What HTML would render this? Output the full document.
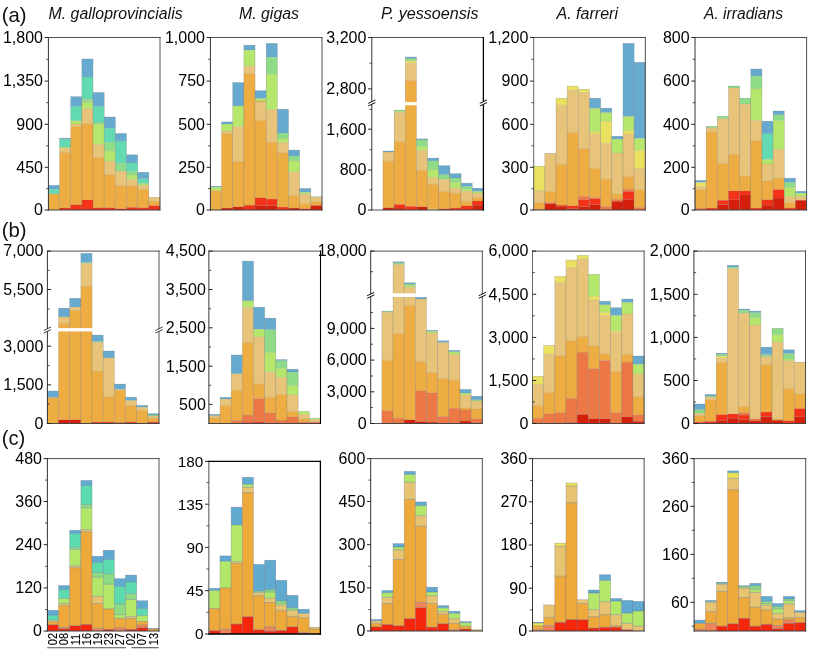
<!DOCTYPE html><html><head><meta charset="utf-8"><title>Figure</title><style>html,body{margin:0;padding:0;background:#fff}svg{display:block}</style></head><body>
<svg width="817" height="649" viewBox="0 0 817 649">
<rect width="817" height="649" fill="#fff"/>
<rect x="48.40" y="185.30" width="11.16" height="4.00" fill="#67AACF"/>
<rect x="48.40" y="189.30" width="11.16" height="4.60" fill="#63DBB2"/>
<rect x="48.40" y="193.90" width="11.16" height="16.10" fill="#EEAD43"/>
<rect x="48.40" y="185.30" width="11.16" height="24.70" fill="none" stroke="#6b6b6b" stroke-opacity="0.45" stroke-width="0.5"/>
<line x1="48.40" x2="59.56" y1="189.30" y2="189.30" stroke="#6b6b6b" stroke-opacity="0.27" stroke-width="0.5"/>
<line x1="48.40" x2="59.56" y1="193.90" y2="193.90" stroke="#6b6b6b" stroke-opacity="0.27" stroke-width="0.5"/>
<rect x="59.56" y="138.20" width="11.16" height="1.40" fill="#67AACF"/>
<rect x="59.56" y="139.60" width="11.16" height="7.40" fill="#63DBB2"/>
<rect x="59.56" y="147.00" width="11.16" height="1.40" fill="#B4E76C"/>
<rect x="59.56" y="148.40" width="11.16" height="4.00" fill="#E7C479"/>
<rect x="59.56" y="152.40" width="11.16" height="55.60" fill="#EEAD43"/>
<rect x="59.56" y="208.00" width="11.16" height="2.00" fill="#F4321A"/>
<rect x="59.56" y="138.20" width="11.16" height="71.80" fill="none" stroke="#6b6b6b" stroke-opacity="0.45" stroke-width="0.5"/>
<line x1="59.56" x2="70.72" y1="139.60" y2="139.60" stroke="#6b6b6b" stroke-opacity="0.27" stroke-width="0.5"/>
<line x1="59.56" x2="70.72" y1="147.00" y2="147.00" stroke="#6b6b6b" stroke-opacity="0.27" stroke-width="0.5"/>
<line x1="59.56" x2="70.72" y1="148.40" y2="148.40" stroke="#6b6b6b" stroke-opacity="0.27" stroke-width="0.5"/>
<line x1="59.56" x2="70.72" y1="152.40" y2="152.40" stroke="#6b6b6b" stroke-opacity="0.27" stroke-width="0.5"/>
<line x1="59.56" x2="70.72" y1="208.00" y2="208.00" stroke="#6b6b6b" stroke-opacity="0.27" stroke-width="0.5"/>
<rect x="70.72" y="96.70" width="11.16" height="9.90" fill="#67AACF"/>
<rect x="70.72" y="106.60" width="11.16" height="14.20" fill="#63DBB2"/>
<rect x="70.72" y="120.80" width="11.16" height="3.20" fill="#B4E76C"/>
<rect x="70.72" y="124.00" width="11.16" height="2.40" fill="#E7C479"/>
<rect x="70.72" y="126.40" width="11.16" height="78.40" fill="#EEAD43"/>
<rect x="70.72" y="204.80" width="11.16" height="5.20" fill="#F4321A"/>
<rect x="70.72" y="96.70" width="11.16" height="113.30" fill="none" stroke="#6b6b6b" stroke-opacity="0.45" stroke-width="0.5"/>
<line x1="70.72" x2="81.88" y1="106.60" y2="106.60" stroke="#6b6b6b" stroke-opacity="0.27" stroke-width="0.5"/>
<line x1="70.72" x2="81.88" y1="120.80" y2="120.80" stroke="#6b6b6b" stroke-opacity="0.27" stroke-width="0.5"/>
<line x1="70.72" x2="81.88" y1="124.00" y2="124.00" stroke="#6b6b6b" stroke-opacity="0.27" stroke-width="0.5"/>
<line x1="70.72" x2="81.88" y1="126.40" y2="126.40" stroke="#6b6b6b" stroke-opacity="0.27" stroke-width="0.5"/>
<line x1="70.72" x2="81.88" y1="204.80" y2="204.80" stroke="#6b6b6b" stroke-opacity="0.27" stroke-width="0.5"/>
<rect x="81.88" y="59.00" width="11.16" height="17.90" fill="#67AACF"/>
<rect x="81.88" y="76.90" width="11.16" height="22.60" fill="#63DBB2"/>
<rect x="81.88" y="99.50" width="11.16" height="0.70" fill="#E7C479"/>
<rect x="81.88" y="100.20" width="11.16" height="2.30" fill="#8EDB88"/>
<rect x="81.88" y="102.50" width="11.16" height="6.20" fill="#B4E76C"/>
<rect x="81.88" y="108.70" width="11.16" height="15.10" fill="#E7C479"/>
<rect x="81.88" y="123.80" width="11.16" height="76.20" fill="#EEAD43"/>
<rect x="81.88" y="200.00" width="11.16" height="10.00" fill="#F4321A"/>
<rect x="81.88" y="59.00" width="11.16" height="151.00" fill="none" stroke="#6b6b6b" stroke-opacity="0.45" stroke-width="0.5"/>
<line x1="81.88" x2="93.04" y1="76.90" y2="76.90" stroke="#6b6b6b" stroke-opacity="0.27" stroke-width="0.5"/>
<line x1="81.88" x2="93.04" y1="99.50" y2="99.50" stroke="#6b6b6b" stroke-opacity="0.27" stroke-width="0.5"/>
<line x1="81.88" x2="93.04" y1="100.20" y2="100.20" stroke="#6b6b6b" stroke-opacity="0.27" stroke-width="0.5"/>
<line x1="81.88" x2="93.04" y1="102.50" y2="102.50" stroke="#6b6b6b" stroke-opacity="0.27" stroke-width="0.5"/>
<line x1="81.88" x2="93.04" y1="108.70" y2="108.70" stroke="#6b6b6b" stroke-opacity="0.27" stroke-width="0.5"/>
<line x1="81.88" x2="93.04" y1="123.80" y2="123.80" stroke="#6b6b6b" stroke-opacity="0.27" stroke-width="0.5"/>
<line x1="81.88" x2="93.04" y1="200.00" y2="200.00" stroke="#6b6b6b" stroke-opacity="0.27" stroke-width="0.5"/>
<rect x="93.04" y="92.50" width="11.16" height="14.10" fill="#67AACF"/>
<rect x="93.04" y="106.60" width="11.16" height="15.40" fill="#63DBB2"/>
<rect x="93.04" y="122.00" width="11.16" height="2.30" fill="#8EDB88"/>
<rect x="93.04" y="124.30" width="11.16" height="20.30" fill="#B4E76C"/>
<rect x="93.04" y="144.60" width="11.16" height="13.00" fill="#E7C479"/>
<rect x="93.04" y="157.60" width="11.16" height="50.20" fill="#EEAD43"/>
<rect x="93.04" y="207.80" width="11.16" height="2.20" fill="#F4321A"/>
<rect x="93.04" y="92.50" width="11.16" height="117.50" fill="none" stroke="#6b6b6b" stroke-opacity="0.45" stroke-width="0.5"/>
<line x1="93.04" x2="104.20" y1="106.60" y2="106.60" stroke="#6b6b6b" stroke-opacity="0.27" stroke-width="0.5"/>
<line x1="93.04" x2="104.20" y1="122.00" y2="122.00" stroke="#6b6b6b" stroke-opacity="0.27" stroke-width="0.5"/>
<line x1="93.04" x2="104.20" y1="124.30" y2="124.30" stroke="#6b6b6b" stroke-opacity="0.27" stroke-width="0.5"/>
<line x1="93.04" x2="104.20" y1="144.60" y2="144.60" stroke="#6b6b6b" stroke-opacity="0.27" stroke-width="0.5"/>
<line x1="93.04" x2="104.20" y1="157.60" y2="157.60" stroke="#6b6b6b" stroke-opacity="0.27" stroke-width="0.5"/>
<line x1="93.04" x2="104.20" y1="207.80" y2="207.80" stroke="#6b6b6b" stroke-opacity="0.27" stroke-width="0.5"/>
<rect x="104.20" y="117.00" width="11.16" height="11.20" fill="#67AACF"/>
<rect x="104.20" y="128.20" width="11.16" height="14.20" fill="#63DBB2"/>
<rect x="104.20" y="142.40" width="11.16" height="8.40" fill="#8EDB88"/>
<rect x="104.20" y="150.80" width="11.16" height="10.40" fill="#B4E76C"/>
<rect x="104.20" y="161.20" width="11.16" height="13.50" fill="#E7C479"/>
<rect x="104.20" y="174.70" width="11.16" height="33.10" fill="#EEAD43"/>
<rect x="104.20" y="207.80" width="11.16" height="2.20" fill="#F4321A"/>
<rect x="104.20" y="117.00" width="11.16" height="93.00" fill="none" stroke="#6b6b6b" stroke-opacity="0.45" stroke-width="0.5"/>
<line x1="104.20" x2="115.36" y1="128.20" y2="128.20" stroke="#6b6b6b" stroke-opacity="0.27" stroke-width="0.5"/>
<line x1="104.20" x2="115.36" y1="142.40" y2="142.40" stroke="#6b6b6b" stroke-opacity="0.27" stroke-width="0.5"/>
<line x1="104.20" x2="115.36" y1="150.80" y2="150.80" stroke="#6b6b6b" stroke-opacity="0.27" stroke-width="0.5"/>
<line x1="104.20" x2="115.36" y1="161.20" y2="161.20" stroke="#6b6b6b" stroke-opacity="0.27" stroke-width="0.5"/>
<line x1="104.20" x2="115.36" y1="174.70" y2="174.70" stroke="#6b6b6b" stroke-opacity="0.27" stroke-width="0.5"/>
<line x1="104.20" x2="115.36" y1="207.80" y2="207.80" stroke="#6b6b6b" stroke-opacity="0.27" stroke-width="0.5"/>
<rect x="115.36" y="133.50" width="11.16" height="7.40" fill="#67AACF"/>
<rect x="115.36" y="140.90" width="11.16" height="22.40" fill="#63DBB2"/>
<rect x="115.36" y="163.30" width="11.16" height="8.10" fill="#8EDB88"/>
<rect x="115.36" y="171.40" width="11.16" height="14.20" fill="#E7C479"/>
<rect x="115.36" y="185.60" width="11.16" height="23.20" fill="#EEAD43"/>
<rect x="115.36" y="208.80" width="11.16" height="1.20" fill="#F4321A"/>
<rect x="115.36" y="133.50" width="11.16" height="76.50" fill="none" stroke="#6b6b6b" stroke-opacity="0.45" stroke-width="0.5"/>
<line x1="115.36" x2="126.52" y1="140.90" y2="140.90" stroke="#6b6b6b" stroke-opacity="0.27" stroke-width="0.5"/>
<line x1="115.36" x2="126.52" y1="163.30" y2="163.30" stroke="#6b6b6b" stroke-opacity="0.27" stroke-width="0.5"/>
<line x1="115.36" x2="126.52" y1="171.40" y2="171.40" stroke="#6b6b6b" stroke-opacity="0.27" stroke-width="0.5"/>
<line x1="115.36" x2="126.52" y1="185.60" y2="185.60" stroke="#6b6b6b" stroke-opacity="0.27" stroke-width="0.5"/>
<line x1="115.36" x2="126.52" y1="208.80" y2="208.80" stroke="#6b6b6b" stroke-opacity="0.27" stroke-width="0.5"/>
<rect x="126.52" y="154.80" width="11.16" height="8.10" fill="#67AACF"/>
<rect x="126.52" y="162.90" width="11.16" height="8.70" fill="#63DBB2"/>
<rect x="126.52" y="171.60" width="11.16" height="3.50" fill="#8EDB88"/>
<rect x="126.52" y="175.10" width="11.16" height="4.30" fill="#B4E76C"/>
<rect x="126.52" y="179.40" width="11.16" height="6.20" fill="#E7C479"/>
<rect x="126.52" y="185.60" width="11.16" height="21.80" fill="#EEAD43"/>
<rect x="126.52" y="207.40" width="11.16" height="2.60" fill="#F4321A"/>
<rect x="126.52" y="154.80" width="11.16" height="55.20" fill="none" stroke="#6b6b6b" stroke-opacity="0.45" stroke-width="0.5"/>
<line x1="126.52" x2="137.68" y1="162.90" y2="162.90" stroke="#6b6b6b" stroke-opacity="0.27" stroke-width="0.5"/>
<line x1="126.52" x2="137.68" y1="171.60" y2="171.60" stroke="#6b6b6b" stroke-opacity="0.27" stroke-width="0.5"/>
<line x1="126.52" x2="137.68" y1="175.10" y2="175.10" stroke="#6b6b6b" stroke-opacity="0.27" stroke-width="0.5"/>
<line x1="126.52" x2="137.68" y1="179.40" y2="179.40" stroke="#6b6b6b" stroke-opacity="0.27" stroke-width="0.5"/>
<line x1="126.52" x2="137.68" y1="185.60" y2="185.60" stroke="#6b6b6b" stroke-opacity="0.27" stroke-width="0.5"/>
<line x1="126.52" x2="137.68" y1="207.40" y2="207.40" stroke="#6b6b6b" stroke-opacity="0.27" stroke-width="0.5"/>
<rect x="137.68" y="172.30" width="11.16" height="6.40" fill="#67AACF"/>
<rect x="137.68" y="178.70" width="11.16" height="4.90" fill="#63DBB2"/>
<rect x="137.68" y="183.60" width="11.16" height="1.70" fill="#B4E76C"/>
<rect x="137.68" y="185.30" width="11.16" height="4.00" fill="#E7C479"/>
<rect x="137.68" y="189.30" width="11.16" height="18.50" fill="#EEAD43"/>
<rect x="137.68" y="207.80" width="11.16" height="2.20" fill="#F4321A"/>
<rect x="137.68" y="172.30" width="11.16" height="37.70" fill="none" stroke="#6b6b6b" stroke-opacity="0.45" stroke-width="0.5"/>
<line x1="137.68" x2="148.84" y1="178.70" y2="178.70" stroke="#6b6b6b" stroke-opacity="0.27" stroke-width="0.5"/>
<line x1="137.68" x2="148.84" y1="183.60" y2="183.60" stroke="#6b6b6b" stroke-opacity="0.27" stroke-width="0.5"/>
<line x1="137.68" x2="148.84" y1="185.30" y2="185.30" stroke="#6b6b6b" stroke-opacity="0.27" stroke-width="0.5"/>
<line x1="137.68" x2="148.84" y1="189.30" y2="189.30" stroke="#6b6b6b" stroke-opacity="0.27" stroke-width="0.5"/>
<line x1="137.68" x2="148.84" y1="207.80" y2="207.80" stroke="#6b6b6b" stroke-opacity="0.27" stroke-width="0.5"/>
<rect x="148.84" y="197.40" width="11.16" height="3.90" fill="#E7C479"/>
<rect x="148.84" y="201.30" width="11.16" height="4.40" fill="#EEAD43"/>
<rect x="148.84" y="205.70" width="11.16" height="4.30" fill="#F4321A"/>
<rect x="148.84" y="197.40" width="11.16" height="12.60" fill="none" stroke="#6b6b6b" stroke-opacity="0.45" stroke-width="0.5"/>
<line x1="148.84" x2="160.00" y1="201.30" y2="201.30" stroke="#6b6b6b" stroke-opacity="0.27" stroke-width="0.5"/>
<line x1="148.84" x2="160.00" y1="205.70" y2="205.70" stroke="#6b6b6b" stroke-opacity="0.27" stroke-width="0.5"/>
<line x1="48.40" y1="37.50" x2="48.40" y2="210.00" stroke="#333" stroke-width="1.0" stroke-linecap="square"/>
<line x1="48.40" y1="210.00" x2="160.00" y2="210.00" stroke="#3c3c3c" stroke-width="0.9" stroke-linecap="square"/>
<line x1="48.40" y1="37.50" x2="160.00" y2="37.50" stroke="#3c3c3c" stroke-width="0.9" stroke-linecap="square"/>
<line x1="160.00" y1="37.50" x2="160.00" y2="210.00" stroke="#3c3c3c" stroke-width="0.9" stroke-linecap="square"/>
<line x1="44.699999999999996" x2="48.4" y1="37.5" y2="37.5" stroke="#222" stroke-width="1"/>
<text x="43.0" y="42.8" text-anchor="end" font-size="16" font-family="'Liberation Sans', Arial, sans-serif" fill="#000">1,800</text>
<line x1="44.699999999999996" x2="48.4" y1="81.1" y2="81.1" stroke="#222" stroke-width="1"/>
<text x="43.0" y="86.4" text-anchor="end" font-size="16" font-family="'Liberation Sans', Arial, sans-serif" fill="#000">1,350</text>
<line x1="44.699999999999996" x2="48.4" y1="124.3" y2="124.3" stroke="#222" stroke-width="1"/>
<text x="43.0" y="129.6" text-anchor="end" font-size="16" font-family="'Liberation Sans', Arial, sans-serif" fill="#000">900</text>
<line x1="44.699999999999996" x2="48.4" y1="167.3" y2="167.3" stroke="#222" stroke-width="1"/>
<text x="43.0" y="172.6" text-anchor="end" font-size="16" font-family="'Liberation Sans', Arial, sans-serif" fill="#000">450</text>
<line x1="44.699999999999996" x2="48.4" y1="210.0" y2="210.0" stroke="#222" stroke-width="1"/>
<text x="43.0" y="215.3" text-anchor="end" font-size="16" font-family="'Liberation Sans', Arial, sans-serif" fill="#000">0</text>
<line x1="46.1" x2="48.4" y1="59.3" y2="59.3" stroke="#222" stroke-width="0.8"/>
<line x1="46.1" x2="48.4" y1="102.7" y2="102.7" stroke="#222" stroke-width="0.8"/>
<line x1="46.1" x2="48.4" y1="145.8" y2="145.8" stroke="#222" stroke-width="0.8"/>
<line x1="46.1" x2="48.4" y1="188.7" y2="188.7" stroke="#222" stroke-width="0.8"/>
<rect x="210.40" y="186.30" width="11.16" height="1.00" fill="#67AACF"/>
<rect x="210.40" y="187.30" width="11.16" height="3.30" fill="#B4E76C"/>
<rect x="210.40" y="190.60" width="11.16" height="19.40" fill="#EEAD43"/>
<rect x="210.40" y="186.30" width="11.16" height="23.70" fill="none" stroke="#6b6b6b" stroke-opacity="0.45" stroke-width="0.5"/>
<line x1="210.40" x2="221.56" y1="187.30" y2="187.30" stroke="#6b6b6b" stroke-opacity="0.27" stroke-width="0.5"/>
<line x1="210.40" x2="221.56" y1="190.60" y2="190.60" stroke="#6b6b6b" stroke-opacity="0.27" stroke-width="0.5"/>
<rect x="221.56" y="121.90" width="11.16" height="2.20" fill="#67AACF"/>
<rect x="221.56" y="124.10" width="11.16" height="7.00" fill="#B4E76C"/>
<rect x="221.56" y="131.10" width="11.16" height="2.80" fill="#E7C479"/>
<rect x="221.56" y="133.90" width="11.16" height="74.20" fill="#EEAD43"/>
<rect x="221.56" y="208.10" width="11.16" height="1.90" fill="#D4200B"/>
<rect x="221.56" y="121.90" width="11.16" height="88.10" fill="none" stroke="#6b6b6b" stroke-opacity="0.45" stroke-width="0.5"/>
<line x1="221.56" x2="232.72" y1="124.10" y2="124.10" stroke="#6b6b6b" stroke-opacity="0.27" stroke-width="0.5"/>
<line x1="221.56" x2="232.72" y1="131.10" y2="131.10" stroke="#6b6b6b" stroke-opacity="0.27" stroke-width="0.5"/>
<line x1="221.56" x2="232.72" y1="133.90" y2="133.90" stroke="#6b6b6b" stroke-opacity="0.27" stroke-width="0.5"/>
<line x1="221.56" x2="232.72" y1="208.10" y2="208.10" stroke="#6b6b6b" stroke-opacity="0.27" stroke-width="0.5"/>
<rect x="232.72" y="82.60" width="11.16" height="23.30" fill="#67AACF"/>
<rect x="232.72" y="105.90" width="11.16" height="20.60" fill="#B4E76C"/>
<rect x="232.72" y="126.50" width="11.16" height="35.40" fill="#E7C479"/>
<rect x="232.72" y="161.90" width="11.16" height="45.00" fill="#EEAD43"/>
<rect x="232.72" y="206.90" width="11.16" height="3.10" fill="#D4200B"/>
<rect x="232.72" y="82.60" width="11.16" height="127.40" fill="none" stroke="#6b6b6b" stroke-opacity="0.45" stroke-width="0.5"/>
<line x1="232.72" x2="243.88" y1="105.90" y2="105.90" stroke="#6b6b6b" stroke-opacity="0.27" stroke-width="0.5"/>
<line x1="232.72" x2="243.88" y1="126.50" y2="126.50" stroke="#6b6b6b" stroke-opacity="0.27" stroke-width="0.5"/>
<line x1="232.72" x2="243.88" y1="161.90" y2="161.90" stroke="#6b6b6b" stroke-opacity="0.27" stroke-width="0.5"/>
<line x1="232.72" x2="243.88" y1="206.90" y2="206.90" stroke="#6b6b6b" stroke-opacity="0.27" stroke-width="0.5"/>
<rect x="243.88" y="45.20" width="11.16" height="5.00" fill="#67AACF"/>
<rect x="243.88" y="50.20" width="11.16" height="16.10" fill="#B4E76C"/>
<rect x="243.88" y="66.30" width="11.16" height="7.30" fill="#E7C479"/>
<rect x="243.88" y="73.60" width="11.16" height="131.60" fill="#EEAD43"/>
<rect x="243.88" y="205.20" width="11.16" height="4.80" fill="#F4321A"/>
<rect x="243.88" y="45.20" width="11.16" height="164.80" fill="none" stroke="#6b6b6b" stroke-opacity="0.45" stroke-width="0.5"/>
<line x1="243.88" x2="255.04" y1="50.20" y2="50.20" stroke="#6b6b6b" stroke-opacity="0.27" stroke-width="0.5"/>
<line x1="243.88" x2="255.04" y1="66.30" y2="66.30" stroke="#6b6b6b" stroke-opacity="0.27" stroke-width="0.5"/>
<line x1="243.88" x2="255.04" y1="73.60" y2="73.60" stroke="#6b6b6b" stroke-opacity="0.27" stroke-width="0.5"/>
<line x1="243.88" x2="255.04" y1="205.20" y2="205.20" stroke="#6b6b6b" stroke-opacity="0.27" stroke-width="0.5"/>
<rect x="255.04" y="90.70" width="11.16" height="7.80" fill="#67AACF"/>
<rect x="255.04" y="98.50" width="11.16" height="2.60" fill="#B4E76C"/>
<rect x="255.04" y="101.10" width="11.16" height="1.20" fill="#EEAD43"/>
<rect x="255.04" y="102.30" width="11.16" height="18.00" fill="#E7C479"/>
<rect x="255.04" y="120.30" width="11.16" height="77.50" fill="#EEAD43"/>
<rect x="255.04" y="197.80" width="11.16" height="7.90" fill="#F4321A"/>
<rect x="255.04" y="205.70" width="11.16" height="4.30" fill="#D4200B"/>
<rect x="255.04" y="90.70" width="11.16" height="119.30" fill="none" stroke="#6b6b6b" stroke-opacity="0.45" stroke-width="0.5"/>
<line x1="255.04" x2="266.20" y1="98.50" y2="98.50" stroke="#6b6b6b" stroke-opacity="0.27" stroke-width="0.5"/>
<line x1="255.04" x2="266.20" y1="101.10" y2="101.10" stroke="#6b6b6b" stroke-opacity="0.27" stroke-width="0.5"/>
<line x1="255.04" x2="266.20" y1="102.30" y2="102.30" stroke="#6b6b6b" stroke-opacity="0.27" stroke-width="0.5"/>
<line x1="255.04" x2="266.20" y1="120.30" y2="120.30" stroke="#6b6b6b" stroke-opacity="0.27" stroke-width="0.5"/>
<line x1="255.04" x2="266.20" y1="197.80" y2="197.80" stroke="#6b6b6b" stroke-opacity="0.27" stroke-width="0.5"/>
<line x1="255.04" x2="266.20" y1="205.70" y2="205.70" stroke="#6b6b6b" stroke-opacity="0.27" stroke-width="0.5"/>
<rect x="266.20" y="43.40" width="11.16" height="13.90" fill="#67AACF"/>
<rect x="266.20" y="57.30" width="11.16" height="17.10" fill="#8EDB88"/>
<rect x="266.20" y="74.40" width="11.16" height="35.20" fill="#B4E76C"/>
<rect x="266.20" y="109.60" width="11.16" height="32.80" fill="#E7C479"/>
<rect x="266.20" y="142.40" width="11.16" height="56.70" fill="#EEAD43"/>
<rect x="266.20" y="199.10" width="11.16" height="6.60" fill="#F4321A"/>
<rect x="266.20" y="205.70" width="11.16" height="4.30" fill="#D4200B"/>
<rect x="266.20" y="43.40" width="11.16" height="166.60" fill="none" stroke="#6b6b6b" stroke-opacity="0.45" stroke-width="0.5"/>
<line x1="266.20" x2="277.36" y1="57.30" y2="57.30" stroke="#6b6b6b" stroke-opacity="0.27" stroke-width="0.5"/>
<line x1="266.20" x2="277.36" y1="74.40" y2="74.40" stroke="#6b6b6b" stroke-opacity="0.27" stroke-width="0.5"/>
<line x1="266.20" x2="277.36" y1="109.60" y2="109.60" stroke="#6b6b6b" stroke-opacity="0.27" stroke-width="0.5"/>
<line x1="266.20" x2="277.36" y1="142.40" y2="142.40" stroke="#6b6b6b" stroke-opacity="0.27" stroke-width="0.5"/>
<line x1="266.20" x2="277.36" y1="199.10" y2="199.10" stroke="#6b6b6b" stroke-opacity="0.27" stroke-width="0.5"/>
<line x1="266.20" x2="277.36" y1="205.70" y2="205.70" stroke="#6b6b6b" stroke-opacity="0.27" stroke-width="0.5"/>
<rect x="277.36" y="109.20" width="11.16" height="23.90" fill="#67AACF"/>
<rect x="277.36" y="133.10" width="11.16" height="5.70" fill="#8EDB88"/>
<rect x="277.36" y="138.80" width="11.16" height="3.90" fill="#B4E76C"/>
<rect x="277.36" y="142.70" width="11.16" height="10.00" fill="#E7C479"/>
<rect x="277.36" y="152.70" width="11.16" height="54.40" fill="#EEAD43"/>
<rect x="277.36" y="207.10" width="11.16" height="2.90" fill="#F4321A"/>
<rect x="277.36" y="109.20" width="11.16" height="100.80" fill="none" stroke="#6b6b6b" stroke-opacity="0.45" stroke-width="0.5"/>
<line x1="277.36" x2="288.52" y1="133.10" y2="133.10" stroke="#6b6b6b" stroke-opacity="0.27" stroke-width="0.5"/>
<line x1="277.36" x2="288.52" y1="138.80" y2="138.80" stroke="#6b6b6b" stroke-opacity="0.27" stroke-width="0.5"/>
<line x1="277.36" x2="288.52" y1="142.70" y2="142.70" stroke="#6b6b6b" stroke-opacity="0.27" stroke-width="0.5"/>
<line x1="277.36" x2="288.52" y1="152.70" y2="152.70" stroke="#6b6b6b" stroke-opacity="0.27" stroke-width="0.5"/>
<line x1="277.36" x2="288.52" y1="207.10" y2="207.10" stroke="#6b6b6b" stroke-opacity="0.27" stroke-width="0.5"/>
<rect x="288.52" y="150.10" width="11.16" height="6.10" fill="#67AACF"/>
<rect x="288.52" y="156.20" width="11.16" height="4.60" fill="#8EDB88"/>
<rect x="288.52" y="160.80" width="11.16" height="11.50" fill="#B4E76C"/>
<rect x="288.52" y="172.30" width="11.16" height="23.30" fill="#E7C479"/>
<rect x="288.52" y="195.60" width="11.16" height="12.50" fill="#EEAD43"/>
<rect x="288.52" y="208.10" width="11.16" height="1.90" fill="#D4200B"/>
<rect x="288.52" y="150.10" width="11.16" height="59.90" fill="none" stroke="#6b6b6b" stroke-opacity="0.45" stroke-width="0.5"/>
<line x1="288.52" x2="299.68" y1="156.20" y2="156.20" stroke="#6b6b6b" stroke-opacity="0.27" stroke-width="0.5"/>
<line x1="288.52" x2="299.68" y1="160.80" y2="160.80" stroke="#6b6b6b" stroke-opacity="0.27" stroke-width="0.5"/>
<line x1="288.52" x2="299.68" y1="172.30" y2="172.30" stroke="#6b6b6b" stroke-opacity="0.27" stroke-width="0.5"/>
<line x1="288.52" x2="299.68" y1="195.60" y2="195.60" stroke="#6b6b6b" stroke-opacity="0.27" stroke-width="0.5"/>
<line x1="288.52" x2="299.68" y1="208.10" y2="208.10" stroke="#6b6b6b" stroke-opacity="0.27" stroke-width="0.5"/>
<rect x="299.68" y="188.50" width="11.16" height="3.90" fill="#67AACF"/>
<rect x="299.68" y="192.40" width="11.16" height="1.70" fill="#B4E76C"/>
<rect x="299.68" y="194.10" width="11.16" height="9.40" fill="#E7C479"/>
<rect x="299.68" y="203.50" width="11.16" height="5.30" fill="#EEAD43"/>
<rect x="299.68" y="208.80" width="11.16" height="1.20" fill="#F4321A"/>
<rect x="299.68" y="188.50" width="11.16" height="21.50" fill="none" stroke="#6b6b6b" stroke-opacity="0.45" stroke-width="0.5"/>
<line x1="299.68" x2="310.84" y1="192.40" y2="192.40" stroke="#6b6b6b" stroke-opacity="0.27" stroke-width="0.5"/>
<line x1="299.68" x2="310.84" y1="194.10" y2="194.10" stroke="#6b6b6b" stroke-opacity="0.27" stroke-width="0.5"/>
<line x1="299.68" x2="310.84" y1="203.50" y2="203.50" stroke="#6b6b6b" stroke-opacity="0.27" stroke-width="0.5"/>
<line x1="299.68" x2="310.84" y1="208.80" y2="208.80" stroke="#6b6b6b" stroke-opacity="0.27" stroke-width="0.5"/>
<rect x="310.84" y="196.70" width="11.16" height="0.80" fill="#B4E76C"/>
<rect x="310.84" y="197.50" width="11.16" height="4.20" fill="#E7C479"/>
<rect x="310.84" y="201.70" width="11.16" height="3.80" fill="#EEAD43"/>
<rect x="310.84" y="205.50" width="11.16" height="4.50" fill="#D4200B"/>
<rect x="310.84" y="196.70" width="11.16" height="13.30" fill="none" stroke="#6b6b6b" stroke-opacity="0.45" stroke-width="0.5"/>
<line x1="310.84" x2="322.00" y1="197.50" y2="197.50" stroke="#6b6b6b" stroke-opacity="0.27" stroke-width="0.5"/>
<line x1="310.84" x2="322.00" y1="201.70" y2="201.70" stroke="#6b6b6b" stroke-opacity="0.27" stroke-width="0.5"/>
<line x1="310.84" x2="322.00" y1="205.50" y2="205.50" stroke="#6b6b6b" stroke-opacity="0.27" stroke-width="0.5"/>
<line x1="210.40" y1="37.50" x2="210.40" y2="210.00" stroke="#333" stroke-width="1.0" stroke-linecap="square"/>
<line x1="210.40" y1="210.00" x2="322.00" y2="210.00" stroke="#3c3c3c" stroke-width="0.9" stroke-linecap="square"/>
<line x1="210.40" y1="37.50" x2="322.00" y2="37.50" stroke="#3c3c3c" stroke-width="0.9" stroke-linecap="square"/>
<line x1="322.00" y1="37.50" x2="322.00" y2="210.00" stroke="#3c3c3c" stroke-width="0.9" stroke-linecap="square"/>
<line x1="206.70000000000002" x2="210.4" y1="37.5" y2="37.5" stroke="#222" stroke-width="1"/>
<text x="205.0" y="42.8" text-anchor="end" font-size="16" font-family="'Liberation Sans', Arial, sans-serif" fill="#000">1,000</text>
<line x1="206.70000000000002" x2="210.4" y1="81.1" y2="81.1" stroke="#222" stroke-width="1"/>
<text x="205.0" y="86.4" text-anchor="end" font-size="16" font-family="'Liberation Sans', Arial, sans-serif" fill="#000">750</text>
<line x1="206.70000000000002" x2="210.4" y1="124.3" y2="124.3" stroke="#222" stroke-width="1"/>
<text x="205.0" y="129.6" text-anchor="end" font-size="16" font-family="'Liberation Sans', Arial, sans-serif" fill="#000">500</text>
<line x1="206.70000000000002" x2="210.4" y1="167.3" y2="167.3" stroke="#222" stroke-width="1"/>
<text x="205.0" y="172.6" text-anchor="end" font-size="16" font-family="'Liberation Sans', Arial, sans-serif" fill="#000">250</text>
<line x1="206.70000000000002" x2="210.4" y1="210.0" y2="210.0" stroke="#222" stroke-width="1"/>
<text x="205.0" y="215.3" text-anchor="end" font-size="16" font-family="'Liberation Sans', Arial, sans-serif" fill="#000">0</text>
<line x1="208.1" x2="210.4" y1="59.3" y2="59.3" stroke="#222" stroke-width="0.8"/>
<line x1="208.1" x2="210.4" y1="102.7" y2="102.7" stroke="#222" stroke-width="0.8"/>
<line x1="208.1" x2="210.4" y1="145.8" y2="145.8" stroke="#222" stroke-width="0.8"/>
<line x1="208.1" x2="210.4" y1="188.7" y2="188.7" stroke="#222" stroke-width="0.8"/>
<rect x="382.96" y="151.00" width="11.16" height="1.00" fill="#67AACF"/>
<rect x="382.96" y="152.00" width="11.16" height="9.20" fill="#E7C479"/>
<rect x="382.96" y="161.20" width="11.16" height="46.60" fill="#EEAD43"/>
<rect x="382.96" y="207.80" width="11.16" height="2.20" fill="#D4200B"/>
<rect x="382.96" y="151.00" width="11.16" height="59.00" fill="none" stroke="#6b6b6b" stroke-opacity="0.45" stroke-width="0.5"/>
<line x1="382.96" x2="394.12" y1="152.00" y2="152.00" stroke="#6b6b6b" stroke-opacity="0.27" stroke-width="0.5"/>
<line x1="382.96" x2="394.12" y1="161.20" y2="161.20" stroke="#6b6b6b" stroke-opacity="0.27" stroke-width="0.5"/>
<line x1="382.96" x2="394.12" y1="207.80" y2="207.80" stroke="#6b6b6b" stroke-opacity="0.27" stroke-width="0.5"/>
<rect x="394.12" y="110.10" width="11.16" height="1.20" fill="#8EDB88"/>
<rect x="394.12" y="111.30" width="11.16" height="1.10" fill="#B4E76C"/>
<rect x="394.12" y="112.40" width="11.16" height="29.20" fill="#E7C479"/>
<rect x="394.12" y="141.60" width="11.16" height="62.90" fill="#EEAD43"/>
<rect x="394.12" y="204.50" width="11.16" height="3.60" fill="#F4321A"/>
<rect x="394.12" y="208.10" width="11.16" height="1.90" fill="#D4200B"/>
<rect x="394.12" y="110.10" width="11.16" height="99.90" fill="none" stroke="#6b6b6b" stroke-opacity="0.45" stroke-width="0.5"/>
<line x1="394.12" x2="405.28" y1="111.30" y2="111.30" stroke="#6b6b6b" stroke-opacity="0.27" stroke-width="0.5"/>
<line x1="394.12" x2="405.28" y1="112.40" y2="112.40" stroke="#6b6b6b" stroke-opacity="0.27" stroke-width="0.5"/>
<line x1="394.12" x2="405.28" y1="141.60" y2="141.60" stroke="#6b6b6b" stroke-opacity="0.27" stroke-width="0.5"/>
<line x1="394.12" x2="405.28" y1="204.50" y2="204.50" stroke="#6b6b6b" stroke-opacity="0.27" stroke-width="0.5"/>
<line x1="394.12" x2="405.28" y1="208.10" y2="208.10" stroke="#6b6b6b" stroke-opacity="0.27" stroke-width="0.5"/>
<rect x="405.28" y="57.00" width="11.16" height="1.70" fill="#67AACF"/>
<rect x="405.28" y="58.70" width="11.16" height="1.20" fill="#8EDB88"/>
<rect x="405.28" y="59.90" width="11.16" height="1.70" fill="#B4E76C"/>
<rect x="405.28" y="61.60" width="11.16" height="1.70" fill="#EAE160"/>
<rect x="405.28" y="63.30" width="11.16" height="17.20" fill="#E7C479"/>
<rect x="405.28" y="80.50" width="11.16" height="125.90" fill="#EEAD43"/>
<rect x="405.28" y="206.40" width="11.16" height="3.60" fill="#F4321A"/>
<rect x="405.28" y="57.00" width="11.16" height="153.00" fill="none" stroke="#6b6b6b" stroke-opacity="0.45" stroke-width="0.5"/>
<line x1="405.28" x2="416.44" y1="58.70" y2="58.70" stroke="#6b6b6b" stroke-opacity="0.27" stroke-width="0.5"/>
<line x1="405.28" x2="416.44" y1="59.90" y2="59.90" stroke="#6b6b6b" stroke-opacity="0.27" stroke-width="0.5"/>
<line x1="405.28" x2="416.44" y1="61.60" y2="61.60" stroke="#6b6b6b" stroke-opacity="0.27" stroke-width="0.5"/>
<line x1="405.28" x2="416.44" y1="63.30" y2="63.30" stroke="#6b6b6b" stroke-opacity="0.27" stroke-width="0.5"/>
<line x1="405.28" x2="416.44" y1="80.50" y2="80.50" stroke="#6b6b6b" stroke-opacity="0.27" stroke-width="0.5"/>
<line x1="405.28" x2="416.44" y1="206.40" y2="206.40" stroke="#6b6b6b" stroke-opacity="0.27" stroke-width="0.5"/>
<rect x="416.44" y="138.90" width="11.16" height="1.00" fill="#67AACF"/>
<rect x="416.44" y="139.90" width="11.16" height="6.70" fill="#8EDB88"/>
<rect x="416.44" y="146.60" width="11.16" height="3.90" fill="#B4E76C"/>
<rect x="416.44" y="150.50" width="11.16" height="19.90" fill="#E7C479"/>
<rect x="416.44" y="170.40" width="11.16" height="36.50" fill="#EEAD43"/>
<rect x="416.44" y="206.90" width="11.16" height="3.10" fill="#D4200B"/>
<rect x="416.44" y="138.90" width="11.16" height="71.10" fill="none" stroke="#6b6b6b" stroke-opacity="0.45" stroke-width="0.5"/>
<line x1="416.44" x2="427.60" y1="139.90" y2="139.90" stroke="#6b6b6b" stroke-opacity="0.27" stroke-width="0.5"/>
<line x1="416.44" x2="427.60" y1="146.60" y2="146.60" stroke="#6b6b6b" stroke-opacity="0.27" stroke-width="0.5"/>
<line x1="416.44" x2="427.60" y1="150.50" y2="150.50" stroke="#6b6b6b" stroke-opacity="0.27" stroke-width="0.5"/>
<line x1="416.44" x2="427.60" y1="170.40" y2="170.40" stroke="#6b6b6b" stroke-opacity="0.27" stroke-width="0.5"/>
<line x1="416.44" x2="427.60" y1="206.90" y2="206.90" stroke="#6b6b6b" stroke-opacity="0.27" stroke-width="0.5"/>
<rect x="427.60" y="158.10" width="11.16" height="2.80" fill="#67AACF"/>
<rect x="427.60" y="160.90" width="11.16" height="8.80" fill="#8EDB88"/>
<rect x="427.60" y="169.70" width="11.16" height="7.80" fill="#B4E76C"/>
<rect x="427.60" y="177.50" width="11.16" height="6.70" fill="#E7C479"/>
<rect x="427.60" y="184.20" width="11.16" height="24.60" fill="#EEAD43"/>
<rect x="427.60" y="208.80" width="11.16" height="1.20" fill="#EAE160"/>
<rect x="427.60" y="158.10" width="11.16" height="51.90" fill="none" stroke="#6b6b6b" stroke-opacity="0.45" stroke-width="0.5"/>
<line x1="427.60" x2="438.76" y1="160.90" y2="160.90" stroke="#6b6b6b" stroke-opacity="0.27" stroke-width="0.5"/>
<line x1="427.60" x2="438.76" y1="169.70" y2="169.70" stroke="#6b6b6b" stroke-opacity="0.27" stroke-width="0.5"/>
<line x1="427.60" x2="438.76" y1="177.50" y2="177.50" stroke="#6b6b6b" stroke-opacity="0.27" stroke-width="0.5"/>
<line x1="427.60" x2="438.76" y1="184.20" y2="184.20" stroke="#6b6b6b" stroke-opacity="0.27" stroke-width="0.5"/>
<line x1="427.60" x2="438.76" y1="208.80" y2="208.80" stroke="#6b6b6b" stroke-opacity="0.27" stroke-width="0.5"/>
<rect x="438.76" y="165.70" width="11.16" height="9.00" fill="#67AACF"/>
<rect x="438.76" y="174.70" width="11.16" height="4.70" fill="#8EDB88"/>
<rect x="438.76" y="179.40" width="11.16" height="11.90" fill="#E7C479"/>
<rect x="438.76" y="191.30" width="11.16" height="17.50" fill="#EEAD43"/>
<rect x="438.76" y="208.80" width="11.16" height="1.20" fill="#F4321A"/>
<rect x="438.76" y="165.70" width="11.16" height="44.30" fill="none" stroke="#6b6b6b" stroke-opacity="0.45" stroke-width="0.5"/>
<line x1="438.76" x2="449.92" y1="174.70" y2="174.70" stroke="#6b6b6b" stroke-opacity="0.27" stroke-width="0.5"/>
<line x1="438.76" x2="449.92" y1="179.40" y2="179.40" stroke="#6b6b6b" stroke-opacity="0.27" stroke-width="0.5"/>
<line x1="438.76" x2="449.92" y1="191.30" y2="191.30" stroke="#6b6b6b" stroke-opacity="0.27" stroke-width="0.5"/>
<line x1="438.76" x2="449.92" y1="208.80" y2="208.80" stroke="#6b6b6b" stroke-opacity="0.27" stroke-width="0.5"/>
<rect x="449.92" y="173.70" width="11.16" height="4.30" fill="#67AACF"/>
<rect x="449.92" y="178.00" width="11.16" height="4.50" fill="#8EDB88"/>
<rect x="449.92" y="182.50" width="11.16" height="5.70" fill="#B4E76C"/>
<rect x="449.92" y="188.20" width="11.16" height="5.00" fill="#E7C479"/>
<rect x="449.92" y="193.20" width="11.16" height="14.90" fill="#EEAD43"/>
<rect x="449.92" y="208.10" width="11.16" height="1.90" fill="#F4321A"/>
<rect x="449.92" y="173.70" width="11.16" height="36.30" fill="none" stroke="#6b6b6b" stroke-opacity="0.45" stroke-width="0.5"/>
<line x1="449.92" x2="461.08" y1="178.00" y2="178.00" stroke="#6b6b6b" stroke-opacity="0.27" stroke-width="0.5"/>
<line x1="449.92" x2="461.08" y1="182.50" y2="182.50" stroke="#6b6b6b" stroke-opacity="0.27" stroke-width="0.5"/>
<line x1="449.92" x2="461.08" y1="188.20" y2="188.20" stroke="#6b6b6b" stroke-opacity="0.27" stroke-width="0.5"/>
<line x1="449.92" x2="461.08" y1="193.20" y2="193.20" stroke="#6b6b6b" stroke-opacity="0.27" stroke-width="0.5"/>
<line x1="449.92" x2="461.08" y1="208.10" y2="208.10" stroke="#6b6b6b" stroke-opacity="0.27" stroke-width="0.5"/>
<rect x="461.08" y="183.20" width="11.16" height="3.30" fill="#67AACF"/>
<rect x="461.08" y="186.50" width="11.16" height="2.80" fill="#8EDB88"/>
<rect x="461.08" y="189.30" width="11.16" height="2.00" fill="#B4E76C"/>
<rect x="461.08" y="191.30" width="11.16" height="10.00" fill="#E7C479"/>
<rect x="461.08" y="201.30" width="11.16" height="4.60" fill="#EEAD43"/>
<rect x="461.08" y="205.90" width="11.16" height="4.10" fill="#F4321A"/>
<rect x="461.08" y="183.20" width="11.16" height="26.80" fill="none" stroke="#6b6b6b" stroke-opacity="0.45" stroke-width="0.5"/>
<line x1="461.08" x2="472.24" y1="186.50" y2="186.50" stroke="#6b6b6b" stroke-opacity="0.27" stroke-width="0.5"/>
<line x1="461.08" x2="472.24" y1="189.30" y2="189.30" stroke="#6b6b6b" stroke-opacity="0.27" stroke-width="0.5"/>
<line x1="461.08" x2="472.24" y1="191.30" y2="191.30" stroke="#6b6b6b" stroke-opacity="0.27" stroke-width="0.5"/>
<line x1="461.08" x2="472.24" y1="201.30" y2="201.30" stroke="#6b6b6b" stroke-opacity="0.27" stroke-width="0.5"/>
<line x1="461.08" x2="472.24" y1="205.90" y2="205.90" stroke="#6b6b6b" stroke-opacity="0.27" stroke-width="0.5"/>
<rect x="472.24" y="188.20" width="11.16" height="3.30" fill="#67AACF"/>
<rect x="472.24" y="191.50" width="11.16" height="1.70" fill="#B4E76C"/>
<rect x="472.24" y="193.20" width="11.16" height="4.20" fill="#E7C479"/>
<rect x="472.24" y="197.40" width="11.16" height="3.60" fill="#EEAD43"/>
<rect x="472.24" y="201.00" width="11.16" height="4.20" fill="#F4321A"/>
<rect x="472.24" y="205.20" width="11.16" height="4.80" fill="#D4200B"/>
<rect x="472.24" y="188.20" width="11.16" height="21.80" fill="none" stroke="#6b6b6b" stroke-opacity="0.45" stroke-width="0.5"/>
<line x1="472.24" x2="483.40" y1="191.50" y2="191.50" stroke="#6b6b6b" stroke-opacity="0.27" stroke-width="0.5"/>
<line x1="472.24" x2="483.40" y1="193.20" y2="193.20" stroke="#6b6b6b" stroke-opacity="0.27" stroke-width="0.5"/>
<line x1="472.24" x2="483.40" y1="197.40" y2="197.40" stroke="#6b6b6b" stroke-opacity="0.27" stroke-width="0.5"/>
<line x1="472.24" x2="483.40" y1="201.00" y2="201.00" stroke="#6b6b6b" stroke-opacity="0.27" stroke-width="0.5"/>
<line x1="472.24" x2="483.40" y1="205.20" y2="205.20" stroke="#6b6b6b" stroke-opacity="0.27" stroke-width="0.5"/>
<rect x="393.62" y="102.1" width="23.32" height="3.10" fill="#fff"/>
<line x1="371.80" y1="37.50" x2="371.80" y2="210.00" stroke="#333" stroke-width="1.0" stroke-linecap="square"/>
<line x1="371.80" y1="210.00" x2="483.40" y2="210.00" stroke="#3c3c3c" stroke-width="0.9" stroke-linecap="square"/>
<line x1="371.80" y1="37.50" x2="483.40" y2="37.50" stroke="#3c3c3c" stroke-width="0.9" stroke-linecap="square"/>
<line x1="483.40" y1="37.50" x2="483.40" y2="210.00" stroke="#000" stroke-width="1.3" stroke-linecap="square"/>
<line x1="368.1" x2="371.8" y1="37.5" y2="37.5" stroke="#222" stroke-width="1"/>
<text x="366.4" y="42.8" text-anchor="end" font-size="16" font-family="'Liberation Sans', Arial, sans-serif" fill="#000">3,200</text>
<line x1="368.1" x2="371.8" y1="88.9" y2="88.9" stroke="#222" stroke-width="1"/>
<text x="366.4" y="94.2" text-anchor="end" font-size="16" font-family="'Liberation Sans', Arial, sans-serif" fill="#000">2,800</text>
<line x1="368.1" x2="371.8" y1="129.2" y2="129.2" stroke="#222" stroke-width="1"/>
<text x="366.4" y="134.5" text-anchor="end" font-size="16" font-family="'Liberation Sans', Arial, sans-serif" fill="#000">1,600</text>
<line x1="368.1" x2="371.8" y1="170.0" y2="170.0" stroke="#222" stroke-width="1"/>
<text x="366.4" y="175.3" text-anchor="end" font-size="16" font-family="'Liberation Sans', Arial, sans-serif" fill="#000">800</text>
<line x1="368.1" x2="371.8" y1="210.0" y2="210.0" stroke="#222" stroke-width="1"/>
<text x="366.4" y="215.3" text-anchor="end" font-size="16" font-family="'Liberation Sans', Arial, sans-serif" fill="#000">0</text>
<line x1="369.5" x2="371.8" y1="63.2" y2="63.2" stroke="#222" stroke-width="0.8"/>
<line x1="369.5" x2="371.8" y1="109.4" y2="109.4" stroke="#222" stroke-width="0.8"/>
<line x1="369.5" x2="371.8" y1="149.7" y2="149.7" stroke="#222" stroke-width="0.8"/>
<line x1="369.5" x2="371.8" y1="189.8" y2="189.8" stroke="#222" stroke-width="0.8"/>
<rect x="370.8" y="101.7" width="2" height="2.6" fill="#fff"/>
<line x1="368.2" x2="375.40000000000003" y1="103.4" y2="100.0" stroke="#111" stroke-width="1.0"/>
<line x1="368.2" x2="375.40000000000003" y1="106.0" y2="102.6" stroke="#111" stroke-width="1.0"/>
<rect x="482.4" y="101.7" width="2" height="2.6" fill="#fff"/>
<line x1="479.79999999999995" x2="487.0" y1="103.4" y2="100.0" stroke="#111" stroke-width="1.0"/>
<line x1="479.79999999999995" x2="487.0" y1="106.0" y2="102.6" stroke="#111" stroke-width="1.0"/>
<rect x="533.70" y="166.20" width="11.16" height="24.40" fill="#EAE160"/>
<rect x="533.70" y="190.60" width="11.16" height="12.10" fill="#E7C479"/>
<rect x="533.70" y="202.70" width="11.16" height="6.50" fill="#EEAD43"/>
<rect x="533.70" y="209.20" width="11.16" height="0.80" fill="#EC7945"/>
<rect x="533.70" y="166.20" width="11.16" height="43.80" fill="none" stroke="#6b6b6b" stroke-opacity="0.45" stroke-width="0.5"/>
<line x1="533.70" x2="544.86" y1="190.60" y2="190.60" stroke="#6b6b6b" stroke-opacity="0.27" stroke-width="0.5"/>
<line x1="533.70" x2="544.86" y1="202.70" y2="202.70" stroke="#6b6b6b" stroke-opacity="0.27" stroke-width="0.5"/>
<line x1="533.70" x2="544.86" y1="209.20" y2="209.20" stroke="#6b6b6b" stroke-opacity="0.27" stroke-width="0.5"/>
<rect x="544.86" y="153.40" width="11.16" height="38.00" fill="#E7C479"/>
<rect x="544.86" y="191.40" width="11.16" height="11.00" fill="#EEAD43"/>
<rect x="544.86" y="202.40" width="11.16" height="1.40" fill="#EC7945"/>
<rect x="544.86" y="203.80" width="11.16" height="6.20" fill="#D4200B"/>
<rect x="544.86" y="153.40" width="11.16" height="56.60" fill="none" stroke="#6b6b6b" stroke-opacity="0.45" stroke-width="0.5"/>
<line x1="544.86" x2="556.02" y1="191.40" y2="191.40" stroke="#6b6b6b" stroke-opacity="0.27" stroke-width="0.5"/>
<line x1="544.86" x2="556.02" y1="202.40" y2="202.40" stroke="#6b6b6b" stroke-opacity="0.27" stroke-width="0.5"/>
<line x1="544.86" x2="556.02" y1="203.80" y2="203.80" stroke="#6b6b6b" stroke-opacity="0.27" stroke-width="0.5"/>
<rect x="556.02" y="98.20" width="11.16" height="7.10" fill="#EAE160"/>
<rect x="556.02" y="105.30" width="11.16" height="59.00" fill="#E7C479"/>
<rect x="556.02" y="164.30" width="11.16" height="40.90" fill="#EEAD43"/>
<rect x="556.02" y="205.20" width="11.16" height="1.70" fill="#F4321A"/>
<rect x="556.02" y="206.90" width="11.16" height="3.10" fill="#D4200B"/>
<rect x="556.02" y="98.20" width="11.16" height="111.80" fill="none" stroke="#6b6b6b" stroke-opacity="0.45" stroke-width="0.5"/>
<line x1="556.02" x2="567.18" y1="105.30" y2="105.30" stroke="#6b6b6b" stroke-opacity="0.27" stroke-width="0.5"/>
<line x1="556.02" x2="567.18" y1="164.30" y2="164.30" stroke="#6b6b6b" stroke-opacity="0.27" stroke-width="0.5"/>
<line x1="556.02" x2="567.18" y1="205.20" y2="205.20" stroke="#6b6b6b" stroke-opacity="0.27" stroke-width="0.5"/>
<line x1="556.02" x2="567.18" y1="206.90" y2="206.90" stroke="#6b6b6b" stroke-opacity="0.27" stroke-width="0.5"/>
<rect x="567.18" y="86.10" width="11.16" height="4.30" fill="#EAE160"/>
<rect x="567.18" y="90.40" width="11.16" height="42.00" fill="#E7C479"/>
<rect x="567.18" y="132.40" width="11.16" height="73.50" fill="#EEAD43"/>
<rect x="567.18" y="205.90" width="11.16" height="2.50" fill="#F4321A"/>
<rect x="567.18" y="208.40" width="11.16" height="1.60" fill="#D4200B"/>
<rect x="567.18" y="86.10" width="11.16" height="123.90" fill="none" stroke="#6b6b6b" stroke-opacity="0.45" stroke-width="0.5"/>
<line x1="567.18" x2="578.34" y1="90.40" y2="90.40" stroke="#6b6b6b" stroke-opacity="0.27" stroke-width="0.5"/>
<line x1="567.18" x2="578.34" y1="132.40" y2="132.40" stroke="#6b6b6b" stroke-opacity="0.27" stroke-width="0.5"/>
<line x1="567.18" x2="578.34" y1="205.90" y2="205.90" stroke="#6b6b6b" stroke-opacity="0.27" stroke-width="0.5"/>
<line x1="567.18" x2="578.34" y1="208.40" y2="208.40" stroke="#6b6b6b" stroke-opacity="0.27" stroke-width="0.5"/>
<rect x="578.34" y="89.30" width="11.16" height="3.20" fill="#EAE160"/>
<rect x="578.34" y="92.50" width="11.16" height="56.20" fill="#E7C479"/>
<rect x="578.34" y="148.70" width="11.16" height="47.60" fill="#EEAD43"/>
<rect x="578.34" y="196.30" width="11.16" height="3.50" fill="#EC7945"/>
<rect x="578.34" y="199.80" width="11.16" height="6.60" fill="#F4321A"/>
<rect x="578.34" y="206.40" width="11.16" height="3.60" fill="#D4200B"/>
<rect x="578.34" y="89.30" width="11.16" height="120.70" fill="none" stroke="#6b6b6b" stroke-opacity="0.45" stroke-width="0.5"/>
<line x1="578.34" x2="589.50" y1="92.50" y2="92.50" stroke="#6b6b6b" stroke-opacity="0.27" stroke-width="0.5"/>
<line x1="578.34" x2="589.50" y1="148.70" y2="148.70" stroke="#6b6b6b" stroke-opacity="0.27" stroke-width="0.5"/>
<line x1="578.34" x2="589.50" y1="196.30" y2="196.30" stroke="#6b6b6b" stroke-opacity="0.27" stroke-width="0.5"/>
<line x1="578.34" x2="589.50" y1="199.80" y2="199.80" stroke="#6b6b6b" stroke-opacity="0.27" stroke-width="0.5"/>
<line x1="578.34" x2="589.50" y1="206.40" y2="206.40" stroke="#6b6b6b" stroke-opacity="0.27" stroke-width="0.5"/>
<rect x="589.50" y="98.20" width="11.16" height="10.20" fill="#67AACF"/>
<rect x="589.50" y="108.40" width="11.16" height="23.40" fill="#B4E76C"/>
<rect x="589.50" y="131.80" width="11.16" height="2.40" fill="#EAE160"/>
<rect x="589.50" y="134.20" width="11.16" height="34.10" fill="#E7C479"/>
<rect x="589.50" y="168.30" width="11.16" height="29.10" fill="#EEAD43"/>
<rect x="589.50" y="197.40" width="11.16" height="1.40" fill="#EC7945"/>
<rect x="589.50" y="198.80" width="11.16" height="5.70" fill="#F4321A"/>
<rect x="589.50" y="204.50" width="11.16" height="5.50" fill="#D4200B"/>
<rect x="589.50" y="98.20" width="11.16" height="111.80" fill="none" stroke="#6b6b6b" stroke-opacity="0.45" stroke-width="0.5"/>
<line x1="589.50" x2="600.66" y1="108.40" y2="108.40" stroke="#6b6b6b" stroke-opacity="0.27" stroke-width="0.5"/>
<line x1="589.50" x2="600.66" y1="131.80" y2="131.80" stroke="#6b6b6b" stroke-opacity="0.27" stroke-width="0.5"/>
<line x1="589.50" x2="600.66" y1="134.20" y2="134.20" stroke="#6b6b6b" stroke-opacity="0.27" stroke-width="0.5"/>
<line x1="589.50" x2="600.66" y1="168.30" y2="168.30" stroke="#6b6b6b" stroke-opacity="0.27" stroke-width="0.5"/>
<line x1="589.50" x2="600.66" y1="197.40" y2="197.40" stroke="#6b6b6b" stroke-opacity="0.27" stroke-width="0.5"/>
<line x1="589.50" x2="600.66" y1="198.80" y2="198.80" stroke="#6b6b6b" stroke-opacity="0.27" stroke-width="0.5"/>
<line x1="589.50" x2="600.66" y1="204.50" y2="204.50" stroke="#6b6b6b" stroke-opacity="0.27" stroke-width="0.5"/>
<rect x="600.66" y="108.20" width="11.16" height="4.50" fill="#67AACF"/>
<rect x="600.66" y="112.70" width="11.16" height="8.80" fill="#B4E76C"/>
<rect x="600.66" y="121.50" width="11.16" height="21.90" fill="#EAE160"/>
<rect x="600.66" y="143.40" width="11.16" height="35.80" fill="#E7C479"/>
<rect x="600.66" y="179.20" width="11.16" height="27.20" fill="#EEAD43"/>
<rect x="600.66" y="206.40" width="11.16" height="3.60" fill="#EC7945"/>
<rect x="600.66" y="108.20" width="11.16" height="101.80" fill="none" stroke="#6b6b6b" stroke-opacity="0.45" stroke-width="0.5"/>
<line x1="600.66" x2="611.82" y1="112.70" y2="112.70" stroke="#6b6b6b" stroke-opacity="0.27" stroke-width="0.5"/>
<line x1="600.66" x2="611.82" y1="121.50" y2="121.50" stroke="#6b6b6b" stroke-opacity="0.27" stroke-width="0.5"/>
<line x1="600.66" x2="611.82" y1="143.40" y2="143.40" stroke="#6b6b6b" stroke-opacity="0.27" stroke-width="0.5"/>
<line x1="600.66" x2="611.82" y1="179.20" y2="179.20" stroke="#6b6b6b" stroke-opacity="0.27" stroke-width="0.5"/>
<line x1="600.66" x2="611.82" y1="206.40" y2="206.40" stroke="#6b6b6b" stroke-opacity="0.27" stroke-width="0.5"/>
<rect x="611.82" y="136.30" width="11.16" height="2.90" fill="#67AACF"/>
<rect x="611.82" y="139.20" width="11.16" height="13.80" fill="#B4E76C"/>
<rect x="611.82" y="153.00" width="11.16" height="41.10" fill="#E7C479"/>
<rect x="611.82" y="194.10" width="11.16" height="5.20" fill="#EEAD43"/>
<rect x="611.82" y="199.30" width="11.16" height="2.00" fill="#EC7945"/>
<rect x="611.82" y="201.30" width="11.16" height="8.70" fill="#D4200B"/>
<rect x="611.82" y="136.30" width="11.16" height="73.70" fill="none" stroke="#6b6b6b" stroke-opacity="0.45" stroke-width="0.5"/>
<line x1="611.82" x2="622.98" y1="139.20" y2="139.20" stroke="#6b6b6b" stroke-opacity="0.27" stroke-width="0.5"/>
<line x1="611.82" x2="622.98" y1="153.00" y2="153.00" stroke="#6b6b6b" stroke-opacity="0.27" stroke-width="0.5"/>
<line x1="611.82" x2="622.98" y1="194.10" y2="194.10" stroke="#6b6b6b" stroke-opacity="0.27" stroke-width="0.5"/>
<line x1="611.82" x2="622.98" y1="199.30" y2="199.30" stroke="#6b6b6b" stroke-opacity="0.27" stroke-width="0.5"/>
<line x1="611.82" x2="622.98" y1="201.30" y2="201.30" stroke="#6b6b6b" stroke-opacity="0.27" stroke-width="0.5"/>
<rect x="622.98" y="43.40" width="11.16" height="73.10" fill="#67AACF"/>
<rect x="622.98" y="116.50" width="11.16" height="14.20" fill="#B4E76C"/>
<rect x="622.98" y="130.70" width="11.16" height="3.50" fill="#EAE160"/>
<rect x="622.98" y="134.20" width="11.16" height="42.20" fill="#E7C479"/>
<rect x="622.98" y="176.40" width="11.16" height="12.90" fill="#EEAD43"/>
<rect x="622.98" y="189.30" width="11.16" height="2.10" fill="#EC7945"/>
<rect x="622.98" y="191.40" width="11.16" height="8.40" fill="#F4321A"/>
<rect x="622.98" y="199.80" width="11.16" height="10.20" fill="#D4200B"/>
<rect x="622.98" y="43.40" width="11.16" height="166.60" fill="none" stroke="#6b6b6b" stroke-opacity="0.45" stroke-width="0.5"/>
<line x1="622.98" x2="634.14" y1="116.50" y2="116.50" stroke="#6b6b6b" stroke-opacity="0.27" stroke-width="0.5"/>
<line x1="622.98" x2="634.14" y1="130.70" y2="130.70" stroke="#6b6b6b" stroke-opacity="0.27" stroke-width="0.5"/>
<line x1="622.98" x2="634.14" y1="134.20" y2="134.20" stroke="#6b6b6b" stroke-opacity="0.27" stroke-width="0.5"/>
<line x1="622.98" x2="634.14" y1="176.40" y2="176.40" stroke="#6b6b6b" stroke-opacity="0.27" stroke-width="0.5"/>
<line x1="622.98" x2="634.14" y1="189.30" y2="189.30" stroke="#6b6b6b" stroke-opacity="0.27" stroke-width="0.5"/>
<line x1="622.98" x2="634.14" y1="191.40" y2="191.40" stroke="#6b6b6b" stroke-opacity="0.27" stroke-width="0.5"/>
<line x1="622.98" x2="634.14" y1="199.80" y2="199.80" stroke="#6b6b6b" stroke-opacity="0.27" stroke-width="0.5"/>
<rect x="634.14" y="62.30" width="11.16" height="76.20" fill="#67AACF"/>
<rect x="634.14" y="138.50" width="11.16" height="12.00" fill="#B4E76C"/>
<rect x="634.14" y="150.50" width="11.16" height="18.20" fill="#EAE160"/>
<rect x="634.14" y="168.70" width="11.16" height="20.90" fill="#E7C479"/>
<rect x="634.14" y="189.60" width="11.16" height="17.80" fill="#EEAD43"/>
<rect x="634.14" y="207.40" width="11.16" height="2.60" fill="#EC7945"/>
<rect x="634.14" y="62.30" width="11.16" height="147.70" fill="none" stroke="#6b6b6b" stroke-opacity="0.45" stroke-width="0.5"/>
<line x1="634.14" x2="645.30" y1="138.50" y2="138.50" stroke="#6b6b6b" stroke-opacity="0.27" stroke-width="0.5"/>
<line x1="634.14" x2="645.30" y1="150.50" y2="150.50" stroke="#6b6b6b" stroke-opacity="0.27" stroke-width="0.5"/>
<line x1="634.14" x2="645.30" y1="168.70" y2="168.70" stroke="#6b6b6b" stroke-opacity="0.27" stroke-width="0.5"/>
<line x1="634.14" x2="645.30" y1="189.60" y2="189.60" stroke="#6b6b6b" stroke-opacity="0.27" stroke-width="0.5"/>
<line x1="634.14" x2="645.30" y1="207.40" y2="207.40" stroke="#6b6b6b" stroke-opacity="0.27" stroke-width="0.5"/>
<line x1="533.70" y1="37.50" x2="533.70" y2="210.00" stroke="#555" stroke-width="0.9" stroke-linecap="square"/>
<line x1="533.70" y1="210.00" x2="645.30" y2="210.00" stroke="#3c3c3c" stroke-width="0.9" stroke-linecap="square"/>
<line x1="533.70" y1="37.50" x2="645.30" y2="37.50" stroke="#3c3c3c" stroke-width="0.9" stroke-linecap="square"/>
<line x1="645.30" y1="37.50" x2="645.30" y2="210.00" stroke="#3c3c3c" stroke-width="0.9" stroke-linecap="square"/>
<line x1="530.0" x2="533.7" y1="37.5" y2="37.5" stroke="#222" stroke-width="1"/>
<text x="528.3" y="42.8" text-anchor="end" font-size="16" font-family="'Liberation Sans', Arial, sans-serif" fill="#000">1,200</text>
<line x1="530.0" x2="533.7" y1="81.1" y2="81.1" stroke="#222" stroke-width="1"/>
<text x="528.3" y="86.4" text-anchor="end" font-size="16" font-family="'Liberation Sans', Arial, sans-serif" fill="#000">900</text>
<line x1="530.0" x2="533.7" y1="124.3" y2="124.3" stroke="#222" stroke-width="1"/>
<text x="528.3" y="129.6" text-anchor="end" font-size="16" font-family="'Liberation Sans', Arial, sans-serif" fill="#000">600</text>
<line x1="530.0" x2="533.7" y1="167.3" y2="167.3" stroke="#222" stroke-width="1"/>
<text x="528.3" y="172.6" text-anchor="end" font-size="16" font-family="'Liberation Sans', Arial, sans-serif" fill="#000">300</text>
<line x1="530.0" x2="533.7" y1="210.0" y2="210.0" stroke="#222" stroke-width="1"/>
<text x="528.3" y="215.3" text-anchor="end" font-size="16" font-family="'Liberation Sans', Arial, sans-serif" fill="#000">0</text>
<line x1="531.4000000000001" x2="533.7" y1="59.3" y2="59.3" stroke="#222" stroke-width="0.8"/>
<line x1="531.4000000000001" x2="533.7" y1="102.7" y2="102.7" stroke="#222" stroke-width="0.8"/>
<line x1="531.4000000000001" x2="533.7" y1="145.8" y2="145.8" stroke="#222" stroke-width="0.8"/>
<line x1="531.4000000000001" x2="533.7" y1="188.7" y2="188.7" stroke="#222" stroke-width="0.8"/>
<rect x="695.00" y="180.40" width="11.16" height="2.10" fill="#67AACF"/>
<rect x="695.00" y="182.50" width="11.16" height="4.00" fill="#EAE160"/>
<rect x="695.00" y="186.50" width="11.16" height="3.10" fill="#E7C479"/>
<rect x="695.00" y="189.60" width="11.16" height="18.50" fill="#EEAD43"/>
<rect x="695.00" y="208.10" width="11.16" height="1.90" fill="#EC7945"/>
<rect x="695.00" y="180.40" width="11.16" height="29.60" fill="none" stroke="#6b6b6b" stroke-opacity="0.45" stroke-width="0.5"/>
<line x1="695.00" x2="706.16" y1="182.50" y2="182.50" stroke="#6b6b6b" stroke-opacity="0.27" stroke-width="0.5"/>
<line x1="695.00" x2="706.16" y1="186.50" y2="186.50" stroke="#6b6b6b" stroke-opacity="0.27" stroke-width="0.5"/>
<line x1="695.00" x2="706.16" y1="189.60" y2="189.60" stroke="#6b6b6b" stroke-opacity="0.27" stroke-width="0.5"/>
<line x1="695.00" x2="706.16" y1="208.10" y2="208.10" stroke="#6b6b6b" stroke-opacity="0.27" stroke-width="0.5"/>
<rect x="706.16" y="126.30" width="11.16" height="1.50" fill="#8EDB88"/>
<rect x="706.16" y="127.80" width="11.16" height="3.60" fill="#E7C479"/>
<rect x="706.16" y="131.40" width="11.16" height="76.70" fill="#EEAD43"/>
<rect x="706.16" y="208.10" width="11.16" height="1.90" fill="#F4321A"/>
<rect x="706.16" y="126.30" width="11.16" height="83.70" fill="none" stroke="#6b6b6b" stroke-opacity="0.45" stroke-width="0.5"/>
<line x1="706.16" x2="717.32" y1="127.80" y2="127.80" stroke="#6b6b6b" stroke-opacity="0.27" stroke-width="0.5"/>
<line x1="706.16" x2="717.32" y1="131.40" y2="131.40" stroke="#6b6b6b" stroke-opacity="0.27" stroke-width="0.5"/>
<line x1="706.16" x2="717.32" y1="208.10" y2="208.10" stroke="#6b6b6b" stroke-opacity="0.27" stroke-width="0.5"/>
<rect x="717.32" y="116.30" width="11.16" height="2.40" fill="#8EDB88"/>
<rect x="717.32" y="118.70" width="11.16" height="44.60" fill="#E7C479"/>
<rect x="717.32" y="163.30" width="11.16" height="37.00" fill="#EEAD43"/>
<rect x="717.32" y="200.30" width="11.16" height="4.20" fill="#F4321A"/>
<rect x="717.32" y="204.50" width="11.16" height="5.50" fill="#D4200B"/>
<rect x="717.32" y="116.30" width="11.16" height="93.70" fill="none" stroke="#6b6b6b" stroke-opacity="0.45" stroke-width="0.5"/>
<line x1="717.32" x2="728.48" y1="118.70" y2="118.70" stroke="#6b6b6b" stroke-opacity="0.27" stroke-width="0.5"/>
<line x1="717.32" x2="728.48" y1="163.30" y2="163.30" stroke="#6b6b6b" stroke-opacity="0.27" stroke-width="0.5"/>
<line x1="717.32" x2="728.48" y1="200.30" y2="200.30" stroke="#6b6b6b" stroke-opacity="0.27" stroke-width="0.5"/>
<line x1="717.32" x2="728.48" y1="204.50" y2="204.50" stroke="#6b6b6b" stroke-opacity="0.27" stroke-width="0.5"/>
<rect x="728.48" y="86.00" width="11.16" height="2.10" fill="#8EDB88"/>
<rect x="728.48" y="88.10" width="11.16" height="66.30" fill="#E7C479"/>
<rect x="728.48" y="154.40" width="11.16" height="36.60" fill="#EEAD43"/>
<rect x="728.48" y="191.00" width="11.16" height="8.80" fill="#F4321A"/>
<rect x="728.48" y="199.80" width="11.16" height="10.20" fill="#D4200B"/>
<rect x="728.48" y="86.00" width="11.16" height="124.00" fill="none" stroke="#6b6b6b" stroke-opacity="0.45" stroke-width="0.5"/>
<line x1="728.48" x2="739.64" y1="88.10" y2="88.10" stroke="#6b6b6b" stroke-opacity="0.27" stroke-width="0.5"/>
<line x1="728.48" x2="739.64" y1="154.40" y2="154.40" stroke="#6b6b6b" stroke-opacity="0.27" stroke-width="0.5"/>
<line x1="728.48" x2="739.64" y1="191.00" y2="191.00" stroke="#6b6b6b" stroke-opacity="0.27" stroke-width="0.5"/>
<line x1="728.48" x2="739.64" y1="199.80" y2="199.80" stroke="#6b6b6b" stroke-opacity="0.27" stroke-width="0.5"/>
<rect x="739.64" y="98.20" width="11.16" height="6.00" fill="#8EDB88"/>
<rect x="739.64" y="104.20" width="11.16" height="71.90" fill="#E7C479"/>
<rect x="739.64" y="176.10" width="11.16" height="14.90" fill="#EEAD43"/>
<rect x="739.64" y="191.00" width="11.16" height="4.00" fill="#F4321A"/>
<rect x="739.64" y="195.00" width="11.16" height="15.00" fill="#D4200B"/>
<rect x="739.64" y="98.20" width="11.16" height="111.80" fill="none" stroke="#6b6b6b" stroke-opacity="0.45" stroke-width="0.5"/>
<line x1="739.64" x2="750.80" y1="104.20" y2="104.20" stroke="#6b6b6b" stroke-opacity="0.27" stroke-width="0.5"/>
<line x1="739.64" x2="750.80" y1="176.10" y2="176.10" stroke="#6b6b6b" stroke-opacity="0.27" stroke-width="0.5"/>
<line x1="739.64" x2="750.80" y1="191.00" y2="191.00" stroke="#6b6b6b" stroke-opacity="0.27" stroke-width="0.5"/>
<line x1="739.64" x2="750.80" y1="195.00" y2="195.00" stroke="#6b6b6b" stroke-opacity="0.27" stroke-width="0.5"/>
<rect x="750.80" y="69.00" width="11.16" height="7.10" fill="#67AACF"/>
<rect x="750.80" y="76.10" width="11.16" height="12.70" fill="#8EDB88"/>
<rect x="750.80" y="88.80" width="11.16" height="31.70" fill="#B4E76C"/>
<rect x="750.80" y="120.50" width="11.16" height="20.10" fill="#E7C479"/>
<rect x="750.80" y="140.60" width="11.16" height="67.50" fill="#EEAD43"/>
<rect x="750.80" y="208.10" width="11.16" height="1.90" fill="#F4321A"/>
<rect x="750.80" y="69.00" width="11.16" height="141.00" fill="none" stroke="#6b6b6b" stroke-opacity="0.45" stroke-width="0.5"/>
<line x1="750.80" x2="761.96" y1="76.10" y2="76.10" stroke="#6b6b6b" stroke-opacity="0.27" stroke-width="0.5"/>
<line x1="750.80" x2="761.96" y1="88.80" y2="88.80" stroke="#6b6b6b" stroke-opacity="0.27" stroke-width="0.5"/>
<line x1="750.80" x2="761.96" y1="120.50" y2="120.50" stroke="#6b6b6b" stroke-opacity="0.27" stroke-width="0.5"/>
<line x1="750.80" x2="761.96" y1="140.60" y2="140.60" stroke="#6b6b6b" stroke-opacity="0.27" stroke-width="0.5"/>
<line x1="750.80" x2="761.96" y1="208.10" y2="208.10" stroke="#6b6b6b" stroke-opacity="0.27" stroke-width="0.5"/>
<rect x="761.96" y="121.20" width="11.16" height="12.60" fill="#67AACF"/>
<rect x="761.96" y="133.80" width="11.16" height="25.70" fill="#63DBB2"/>
<rect x="761.96" y="159.50" width="11.16" height="4.50" fill="#B4E76C"/>
<rect x="761.96" y="164.00" width="11.16" height="16.70" fill="#E7C479"/>
<rect x="761.96" y="180.70" width="11.16" height="19.10" fill="#EEAD43"/>
<rect x="761.96" y="199.80" width="11.16" height="5.40" fill="#F4321A"/>
<rect x="761.96" y="205.20" width="11.16" height="4.80" fill="#D4200B"/>
<rect x="761.96" y="121.20" width="11.16" height="88.80" fill="none" stroke="#6b6b6b" stroke-opacity="0.45" stroke-width="0.5"/>
<line x1="761.96" x2="773.12" y1="133.80" y2="133.80" stroke="#6b6b6b" stroke-opacity="0.27" stroke-width="0.5"/>
<line x1="761.96" x2="773.12" y1="159.50" y2="159.50" stroke="#6b6b6b" stroke-opacity="0.27" stroke-width="0.5"/>
<line x1="761.96" x2="773.12" y1="164.00" y2="164.00" stroke="#6b6b6b" stroke-opacity="0.27" stroke-width="0.5"/>
<line x1="761.96" x2="773.12" y1="180.70" y2="180.70" stroke="#6b6b6b" stroke-opacity="0.27" stroke-width="0.5"/>
<line x1="761.96" x2="773.12" y1="199.80" y2="199.80" stroke="#6b6b6b" stroke-opacity="0.27" stroke-width="0.5"/>
<line x1="761.96" x2="773.12" y1="205.20" y2="205.20" stroke="#6b6b6b" stroke-opacity="0.27" stroke-width="0.5"/>
<rect x="773.12" y="111.00" width="11.16" height="3.80" fill="#67AACF"/>
<rect x="773.12" y="114.80" width="11.16" height="5.70" fill="#8EDB88"/>
<rect x="773.12" y="120.50" width="11.16" height="28.90" fill="#B4E76C"/>
<rect x="773.12" y="149.40" width="11.16" height="28.80" fill="#E7C479"/>
<rect x="773.12" y="178.20" width="11.16" height="11.40" fill="#EEAD43"/>
<rect x="773.12" y="189.60" width="11.16" height="8.50" fill="#F4321A"/>
<rect x="773.12" y="198.10" width="11.16" height="11.90" fill="#D4200B"/>
<rect x="773.12" y="111.00" width="11.16" height="99.00" fill="none" stroke="#6b6b6b" stroke-opacity="0.45" stroke-width="0.5"/>
<line x1="773.12" x2="784.28" y1="114.80" y2="114.80" stroke="#6b6b6b" stroke-opacity="0.27" stroke-width="0.5"/>
<line x1="773.12" x2="784.28" y1="120.50" y2="120.50" stroke="#6b6b6b" stroke-opacity="0.27" stroke-width="0.5"/>
<line x1="773.12" x2="784.28" y1="149.40" y2="149.40" stroke="#6b6b6b" stroke-opacity="0.27" stroke-width="0.5"/>
<line x1="773.12" x2="784.28" y1="178.20" y2="178.20" stroke="#6b6b6b" stroke-opacity="0.27" stroke-width="0.5"/>
<line x1="773.12" x2="784.28" y1="189.60" y2="189.60" stroke="#6b6b6b" stroke-opacity="0.27" stroke-width="0.5"/>
<line x1="773.12" x2="784.28" y1="198.10" y2="198.10" stroke="#6b6b6b" stroke-opacity="0.27" stroke-width="0.5"/>
<rect x="784.28" y="178.20" width="11.16" height="4.30" fill="#67AACF"/>
<rect x="784.28" y="182.50" width="11.16" height="5.00" fill="#8EDB88"/>
<rect x="784.28" y="187.50" width="11.16" height="9.20" fill="#B4E76C"/>
<rect x="784.28" y="196.70" width="11.16" height="6.40" fill="#E7C479"/>
<rect x="784.28" y="203.10" width="11.16" height="5.00" fill="#EEAD43"/>
<rect x="784.28" y="208.10" width="11.16" height="1.90" fill="#F4321A"/>
<rect x="784.28" y="178.20" width="11.16" height="31.80" fill="none" stroke="#6b6b6b" stroke-opacity="0.45" stroke-width="0.5"/>
<line x1="784.28" x2="795.44" y1="182.50" y2="182.50" stroke="#6b6b6b" stroke-opacity="0.27" stroke-width="0.5"/>
<line x1="784.28" x2="795.44" y1="187.50" y2="187.50" stroke="#6b6b6b" stroke-opacity="0.27" stroke-width="0.5"/>
<line x1="784.28" x2="795.44" y1="196.70" y2="196.70" stroke="#6b6b6b" stroke-opacity="0.27" stroke-width="0.5"/>
<line x1="784.28" x2="795.44" y1="203.10" y2="203.10" stroke="#6b6b6b" stroke-opacity="0.27" stroke-width="0.5"/>
<line x1="784.28" x2="795.44" y1="208.10" y2="208.10" stroke="#6b6b6b" stroke-opacity="0.27" stroke-width="0.5"/>
<rect x="795.44" y="191.30" width="11.16" height="1.90" fill="#67AACF"/>
<rect x="795.44" y="193.20" width="11.16" height="3.20" fill="#B4E76C"/>
<rect x="795.44" y="196.40" width="11.16" height="3.90" fill="#E7C479"/>
<rect x="795.44" y="200.30" width="11.16" height="9.70" fill="#D4200B"/>
<rect x="795.44" y="191.30" width="11.16" height="18.70" fill="none" stroke="#6b6b6b" stroke-opacity="0.45" stroke-width="0.5"/>
<line x1="795.44" x2="806.60" y1="193.20" y2="193.20" stroke="#6b6b6b" stroke-opacity="0.27" stroke-width="0.5"/>
<line x1="795.44" x2="806.60" y1="196.40" y2="196.40" stroke="#6b6b6b" stroke-opacity="0.27" stroke-width="0.5"/>
<line x1="795.44" x2="806.60" y1="200.30" y2="200.30" stroke="#6b6b6b" stroke-opacity="0.27" stroke-width="0.5"/>
<line x1="695.00" y1="37.50" x2="695.00" y2="210.00" stroke="#333" stroke-width="1.0" stroke-linecap="square"/>
<line x1="695.00" y1="210.00" x2="806.60" y2="210.00" stroke="#3c3c3c" stroke-width="0.9" stroke-linecap="square"/>
<line x1="695.00" y1="37.50" x2="806.60" y2="37.50" stroke="#3c3c3c" stroke-width="0.9" stroke-linecap="square"/>
<line x1="806.60" y1="37.50" x2="806.60" y2="210.00" stroke="#3c3c3c" stroke-width="0.9" stroke-linecap="square"/>
<line x1="691.3" x2="695.0" y1="37.5" y2="37.5" stroke="#222" stroke-width="1"/>
<text x="689.6" y="42.8" text-anchor="end" font-size="16" font-family="'Liberation Sans', Arial, sans-serif" fill="#000">800</text>
<line x1="691.3" x2="695.0" y1="81.1" y2="81.1" stroke="#222" stroke-width="1"/>
<text x="689.6" y="86.4" text-anchor="end" font-size="16" font-family="'Liberation Sans', Arial, sans-serif" fill="#000">600</text>
<line x1="691.3" x2="695.0" y1="124.3" y2="124.3" stroke="#222" stroke-width="1"/>
<text x="689.6" y="129.6" text-anchor="end" font-size="16" font-family="'Liberation Sans', Arial, sans-serif" fill="#000">400</text>
<line x1="691.3" x2="695.0" y1="167.3" y2="167.3" stroke="#222" stroke-width="1"/>
<text x="689.6" y="172.6" text-anchor="end" font-size="16" font-family="'Liberation Sans', Arial, sans-serif" fill="#000">200</text>
<line x1="691.3" x2="695.0" y1="210.0" y2="210.0" stroke="#222" stroke-width="1"/>
<text x="689.6" y="215.3" text-anchor="end" font-size="16" font-family="'Liberation Sans', Arial, sans-serif" fill="#000">0</text>
<line x1="692.7" x2="695.0" y1="59.3" y2="59.3" stroke="#222" stroke-width="0.8"/>
<line x1="692.7" x2="695.0" y1="102.7" y2="102.7" stroke="#222" stroke-width="0.8"/>
<line x1="692.7" x2="695.0" y1="145.8" y2="145.8" stroke="#222" stroke-width="0.8"/>
<line x1="692.7" x2="695.0" y1="188.7" y2="188.7" stroke="#222" stroke-width="0.8"/>
<rect x="47.40" y="391.00" width="11.16" height="6.60" fill="#67AACF"/>
<rect x="47.40" y="397.60" width="11.16" height="25.90" fill="#EEAD43"/>
<rect x="47.40" y="391.00" width="11.16" height="32.50" fill="none" stroke="#6b6b6b" stroke-opacity="0.45" stroke-width="0.5"/>
<line x1="47.40" x2="58.56" y1="397.60" y2="397.60" stroke="#6b6b6b" stroke-opacity="0.27" stroke-width="0.5"/>
<rect x="58.56" y="308.20" width="11.16" height="8.70" fill="#67AACF"/>
<rect x="58.56" y="316.90" width="11.16" height="6.40" fill="#E7C479"/>
<rect x="58.56" y="323.30" width="11.16" height="96.60" fill="#EEAD43"/>
<rect x="58.56" y="419.90" width="11.16" height="3.60" fill="#D4200B"/>
<rect x="58.56" y="308.20" width="11.16" height="115.30" fill="none" stroke="#6b6b6b" stroke-opacity="0.45" stroke-width="0.5"/>
<line x1="58.56" x2="69.72" y1="316.90" y2="316.90" stroke="#6b6b6b" stroke-opacity="0.27" stroke-width="0.5"/>
<line x1="58.56" x2="69.72" y1="323.30" y2="323.30" stroke="#6b6b6b" stroke-opacity="0.27" stroke-width="0.5"/>
<line x1="58.56" x2="69.72" y1="419.90" y2="419.90" stroke="#6b6b6b" stroke-opacity="0.27" stroke-width="0.5"/>
<rect x="69.72" y="298.30" width="11.16" height="8.90" fill="#67AACF"/>
<rect x="69.72" y="307.20" width="11.16" height="3.20" fill="#E7C479"/>
<rect x="69.72" y="310.40" width="11.16" height="109.50" fill="#EEAD43"/>
<rect x="69.72" y="419.90" width="11.16" height="3.60" fill="#D4200B"/>
<rect x="69.72" y="298.30" width="11.16" height="125.20" fill="none" stroke="#6b6b6b" stroke-opacity="0.45" stroke-width="0.5"/>
<line x1="69.72" x2="80.88" y1="307.20" y2="307.20" stroke="#6b6b6b" stroke-opacity="0.27" stroke-width="0.5"/>
<line x1="69.72" x2="80.88" y1="310.40" y2="310.40" stroke="#6b6b6b" stroke-opacity="0.27" stroke-width="0.5"/>
<line x1="69.72" x2="80.88" y1="419.90" y2="419.90" stroke="#6b6b6b" stroke-opacity="0.27" stroke-width="0.5"/>
<rect x="80.88" y="253.30" width="11.16" height="9.20" fill="#67AACF"/>
<rect x="80.88" y="262.50" width="11.16" height="1.00" fill="#8EDB88"/>
<rect x="80.88" y="263.50" width="11.16" height="22.70" fill="#E7C479"/>
<rect x="80.88" y="286.20" width="11.16" height="137.30" fill="#EEAD43"/>
<rect x="80.88" y="253.30" width="11.16" height="170.20" fill="none" stroke="#6b6b6b" stroke-opacity="0.45" stroke-width="0.5"/>
<line x1="80.88" x2="92.04" y1="262.50" y2="262.50" stroke="#6b6b6b" stroke-opacity="0.27" stroke-width="0.5"/>
<line x1="80.88" x2="92.04" y1="263.50" y2="263.50" stroke="#6b6b6b" stroke-opacity="0.27" stroke-width="0.5"/>
<line x1="80.88" x2="92.04" y1="286.20" y2="286.20" stroke="#6b6b6b" stroke-opacity="0.27" stroke-width="0.5"/>
<rect x="92.04" y="335.10" width="11.16" height="6.40" fill="#67AACF"/>
<rect x="92.04" y="341.50" width="11.16" height="1.00" fill="#8EDB88"/>
<rect x="92.04" y="342.50" width="11.16" height="28.60" fill="#E7C479"/>
<rect x="92.04" y="371.10" width="11.16" height="51.10" fill="#EEAD43"/>
<rect x="92.04" y="422.20" width="11.16" height="1.30" fill="#D4200B"/>
<rect x="92.04" y="335.10" width="11.16" height="88.40" fill="none" stroke="#6b6b6b" stroke-opacity="0.45" stroke-width="0.5"/>
<line x1="92.04" x2="103.20" y1="341.50" y2="341.50" stroke="#6b6b6b" stroke-opacity="0.27" stroke-width="0.5"/>
<line x1="92.04" x2="103.20" y1="342.50" y2="342.50" stroke="#6b6b6b" stroke-opacity="0.27" stroke-width="0.5"/>
<line x1="92.04" x2="103.20" y1="371.10" y2="371.10" stroke="#6b6b6b" stroke-opacity="0.27" stroke-width="0.5"/>
<line x1="92.04" x2="103.20" y1="422.20" y2="422.20" stroke="#6b6b6b" stroke-opacity="0.27" stroke-width="0.5"/>
<rect x="103.20" y="351.00" width="11.16" height="6.90" fill="#67AACF"/>
<rect x="103.20" y="357.90" width="11.16" height="39.00" fill="#E7C479"/>
<rect x="103.20" y="396.90" width="11.16" height="25.30" fill="#EEAD43"/>
<rect x="103.20" y="422.20" width="11.16" height="1.30" fill="#D4200B"/>
<rect x="103.20" y="351.00" width="11.16" height="72.50" fill="none" stroke="#6b6b6b" stroke-opacity="0.45" stroke-width="0.5"/>
<line x1="103.20" x2="114.36" y1="357.90" y2="357.90" stroke="#6b6b6b" stroke-opacity="0.27" stroke-width="0.5"/>
<line x1="103.20" x2="114.36" y1="396.90" y2="396.90" stroke="#6b6b6b" stroke-opacity="0.27" stroke-width="0.5"/>
<line x1="103.20" x2="114.36" y1="422.20" y2="422.20" stroke="#6b6b6b" stroke-opacity="0.27" stroke-width="0.5"/>
<rect x="114.36" y="384.10" width="11.16" height="5.30" fill="#67AACF"/>
<rect x="114.36" y="389.40" width="11.16" height="0.80" fill="#E7C479"/>
<rect x="114.36" y="390.20" width="11.16" height="32.40" fill="#EEAD43"/>
<rect x="114.36" y="422.60" width="11.16" height="0.90" fill="#D4200B"/>
<rect x="114.36" y="384.10" width="11.16" height="39.40" fill="none" stroke="#6b6b6b" stroke-opacity="0.45" stroke-width="0.5"/>
<line x1="114.36" x2="125.52" y1="389.40" y2="389.40" stroke="#6b6b6b" stroke-opacity="0.27" stroke-width="0.5"/>
<line x1="114.36" x2="125.52" y1="390.20" y2="390.20" stroke="#6b6b6b" stroke-opacity="0.27" stroke-width="0.5"/>
<line x1="114.36" x2="125.52" y1="422.60" y2="422.60" stroke="#6b6b6b" stroke-opacity="0.27" stroke-width="0.5"/>
<rect x="125.52" y="397.20" width="11.16" height="3.30" fill="#67AACF"/>
<rect x="125.52" y="400.50" width="11.16" height="4.90" fill="#E7C479"/>
<rect x="125.52" y="405.40" width="11.16" height="16.80" fill="#EEAD43"/>
<rect x="125.52" y="422.20" width="11.16" height="1.30" fill="#D4200B"/>
<rect x="125.52" y="397.20" width="11.16" height="26.30" fill="none" stroke="#6b6b6b" stroke-opacity="0.45" stroke-width="0.5"/>
<line x1="125.52" x2="136.68" y1="400.50" y2="400.50" stroke="#6b6b6b" stroke-opacity="0.27" stroke-width="0.5"/>
<line x1="125.52" x2="136.68" y1="405.40" y2="405.40" stroke="#6b6b6b" stroke-opacity="0.27" stroke-width="0.5"/>
<line x1="125.52" x2="136.68" y1="422.20" y2="422.20" stroke="#6b6b6b" stroke-opacity="0.27" stroke-width="0.5"/>
<rect x="136.68" y="405.40" width="11.16" height="1.90" fill="#67AACF"/>
<rect x="136.68" y="407.30" width="11.16" height="3.10" fill="#E7C479"/>
<rect x="136.68" y="410.40" width="11.16" height="13.10" fill="#EEAD43"/>
<rect x="136.68" y="405.40" width="11.16" height="18.10" fill="none" stroke="#6b6b6b" stroke-opacity="0.45" stroke-width="0.5"/>
<line x1="136.68" x2="147.84" y1="407.30" y2="407.30" stroke="#6b6b6b" stroke-opacity="0.27" stroke-width="0.5"/>
<line x1="136.68" x2="147.84" y1="410.40" y2="410.40" stroke="#6b6b6b" stroke-opacity="0.27" stroke-width="0.5"/>
<rect x="147.84" y="413.70" width="11.16" height="1.30" fill="#67AACF"/>
<rect x="147.84" y="415.00" width="11.16" height="1.10" fill="#8EDB88"/>
<rect x="147.84" y="416.10" width="11.16" height="2.10" fill="#E7C479"/>
<rect x="147.84" y="418.20" width="11.16" height="4.00" fill="#EEAD43"/>
<rect x="147.84" y="422.20" width="11.16" height="1.30" fill="#D4200B"/>
<rect x="147.84" y="413.70" width="11.16" height="9.80" fill="none" stroke="#6b6b6b" stroke-opacity="0.45" stroke-width="0.5"/>
<line x1="147.84" x2="159.00" y1="415.00" y2="415.00" stroke="#6b6b6b" stroke-opacity="0.27" stroke-width="0.5"/>
<line x1="147.84" x2="159.00" y1="416.10" y2="416.10" stroke="#6b6b6b" stroke-opacity="0.27" stroke-width="0.5"/>
<line x1="147.84" x2="159.00" y1="418.20" y2="418.20" stroke="#6b6b6b" stroke-opacity="0.27" stroke-width="0.5"/>
<line x1="147.84" x2="159.00" y1="422.20" y2="422.20" stroke="#6b6b6b" stroke-opacity="0.27" stroke-width="0.5"/>
<rect x="46.90" y="328.1" width="45.64" height="3.30" fill="#fff"/>
<line x1="47.40" y1="251.10" x2="47.40" y2="423.50" stroke="#333" stroke-width="1.0" stroke-linecap="square"/>
<line x1="47.40" y1="423.50" x2="159.00" y2="423.50" stroke="#3c3c3c" stroke-width="0.9" stroke-linecap="square"/>
<line x1="47.40" y1="251.10" x2="159.00" y2="251.10" stroke="#3c3c3c" stroke-width="0.9" stroke-linecap="square"/>
<line x1="159.00" y1="251.10" x2="159.00" y2="423.50" stroke="#3c3c3c" stroke-width="0.9" stroke-linecap="square"/>
<line x1="47.4" x2="51.1" y1="251.1" y2="251.1" stroke="#222" stroke-width="1"/>
<text x="43.4" y="256.4" text-anchor="end" font-size="16" font-family="'Liberation Sans', Arial, sans-serif" fill="#000">7,000</text>
<line x1="47.4" x2="51.1" y1="289.5" y2="289.5" stroke="#222" stroke-width="1"/>
<text x="43.4" y="294.8" text-anchor="end" font-size="16" font-family="'Liberation Sans', Arial, sans-serif" fill="#000">5,500</text>
<line x1="47.4" x2="51.1" y1="346.2" y2="346.2" stroke="#222" stroke-width="1"/>
<text x="43.4" y="351.5" text-anchor="end" font-size="16" font-family="'Liberation Sans', Arial, sans-serif" fill="#000">3,000</text>
<line x1="47.4" x2="51.1" y1="384.9" y2="384.9" stroke="#222" stroke-width="1"/>
<text x="43.4" y="390.2" text-anchor="end" font-size="16" font-family="'Liberation Sans', Arial, sans-serif" fill="#000">1,500</text>
<line x1="47.4" x2="51.1" y1="423.5" y2="423.5" stroke="#222" stroke-width="1"/>
<text x="43.4" y="428.8" text-anchor="end" font-size="16" font-family="'Liberation Sans', Arial, sans-serif" fill="#000">0</text>
<line x1="47.4" x2="49.699999999999996" y1="270.3" y2="270.3" stroke="#222" stroke-width="0.8"/>
<line x1="47.4" x2="49.699999999999996" y1="309.0" y2="309.0" stroke="#222" stroke-width="0.8"/>
<line x1="47.4" x2="49.699999999999996" y1="365.6" y2="365.6" stroke="#222" stroke-width="0.8"/>
<line x1="47.4" x2="49.699999999999996" y1="404.2" y2="404.2" stroke="#222" stroke-width="0.8"/>
<rect x="46.4" y="328.7" width="2" height="2.6" fill="#fff"/>
<line x1="43.8" x2="51.0" y1="330.4" y2="327.0" stroke="#111" stroke-width="0.8"/>
<line x1="43.8" x2="51.0" y1="333.0" y2="329.6" stroke="#111" stroke-width="0.8"/>
<rect x="158.0" y="328.7" width="2" height="2.6" fill="#fff"/>
<line x1="155.4" x2="162.6" y1="330.4" y2="327.0" stroke="#111" stroke-width="0.8"/>
<line x1="155.4" x2="162.6" y1="333.0" y2="329.6" stroke="#111" stroke-width="0.8"/>
<rect x="208.90" y="414.30" width="11.16" height="1.40" fill="#67AACF"/>
<rect x="208.90" y="415.70" width="11.16" height="2.10" fill="#E7C479"/>
<rect x="208.90" y="417.80" width="11.16" height="5.70" fill="#EEAD43"/>
<rect x="208.90" y="414.30" width="11.16" height="9.20" fill="none" stroke="#6b6b6b" stroke-opacity="0.45" stroke-width="0.5"/>
<line x1="208.90" x2="220.06" y1="415.70" y2="415.70" stroke="#6b6b6b" stroke-opacity="0.27" stroke-width="0.5"/>
<line x1="208.90" x2="220.06" y1="417.80" y2="417.80" stroke="#6b6b6b" stroke-opacity="0.27" stroke-width="0.5"/>
<rect x="220.06" y="397.30" width="11.16" height="1.80" fill="#67AACF"/>
<rect x="220.06" y="399.10" width="11.16" height="6.30" fill="#E7C479"/>
<rect x="220.06" y="405.40" width="11.16" height="18.10" fill="#EEAD43"/>
<rect x="220.06" y="397.30" width="11.16" height="26.20" fill="none" stroke="#6b6b6b" stroke-opacity="0.45" stroke-width="0.5"/>
<line x1="220.06" x2="231.22" y1="399.10" y2="399.10" stroke="#6b6b6b" stroke-opacity="0.27" stroke-width="0.5"/>
<line x1="220.06" x2="231.22" y1="405.40" y2="405.40" stroke="#6b6b6b" stroke-opacity="0.27" stroke-width="0.5"/>
<rect x="231.22" y="355.00" width="11.16" height="18.80" fill="#67AACF"/>
<rect x="231.22" y="373.80" width="11.16" height="16.40" fill="#E7C479"/>
<rect x="231.22" y="390.20" width="11.16" height="30.20" fill="#EEAD43"/>
<rect x="231.22" y="420.40" width="11.16" height="3.10" fill="#EC7945"/>
<rect x="231.22" y="355.00" width="11.16" height="68.50" fill="none" stroke="#6b6b6b" stroke-opacity="0.45" stroke-width="0.5"/>
<line x1="231.22" x2="242.38" y1="373.80" y2="373.80" stroke="#6b6b6b" stroke-opacity="0.27" stroke-width="0.5"/>
<line x1="231.22" x2="242.38" y1="390.20" y2="390.20" stroke="#6b6b6b" stroke-opacity="0.27" stroke-width="0.5"/>
<line x1="231.22" x2="242.38" y1="420.40" y2="420.40" stroke="#6b6b6b" stroke-opacity="0.27" stroke-width="0.5"/>
<rect x="242.38" y="261.10" width="11.16" height="39.70" fill="#67AACF"/>
<rect x="242.38" y="300.80" width="11.16" height="6.70" fill="#B4E76C"/>
<rect x="242.38" y="307.50" width="11.16" height="35.20" fill="#E7C479"/>
<rect x="242.38" y="342.70" width="11.16" height="72.40" fill="#EEAD43"/>
<rect x="242.38" y="415.10" width="11.16" height="7.20" fill="#EC7945"/>
<rect x="242.38" y="422.30" width="11.16" height="1.20" fill="#F4321A"/>
<rect x="242.38" y="261.10" width="11.16" height="162.40" fill="none" stroke="#6b6b6b" stroke-opacity="0.45" stroke-width="0.5"/>
<line x1="242.38" x2="253.54" y1="300.80" y2="300.80" stroke="#6b6b6b" stroke-opacity="0.27" stroke-width="0.5"/>
<line x1="242.38" x2="253.54" y1="307.50" y2="307.50" stroke="#6b6b6b" stroke-opacity="0.27" stroke-width="0.5"/>
<line x1="242.38" x2="253.54" y1="342.70" y2="342.70" stroke="#6b6b6b" stroke-opacity="0.27" stroke-width="0.5"/>
<line x1="242.38" x2="253.54" y1="415.10" y2="415.10" stroke="#6b6b6b" stroke-opacity="0.27" stroke-width="0.5"/>
<line x1="242.38" x2="253.54" y1="422.30" y2="422.30" stroke="#6b6b6b" stroke-opacity="0.27" stroke-width="0.5"/>
<rect x="253.54" y="307.20" width="11.16" height="22.10" fill="#67AACF"/>
<rect x="253.54" y="329.30" width="11.16" height="7.50" fill="#B4E76C"/>
<rect x="253.54" y="336.80" width="11.16" height="47.30" fill="#E7C479"/>
<rect x="253.54" y="384.10" width="11.16" height="14.50" fill="#EEAD43"/>
<rect x="253.54" y="398.60" width="11.16" height="23.60" fill="#EC7945"/>
<rect x="253.54" y="422.20" width="11.16" height="1.30" fill="#D4200B"/>
<rect x="253.54" y="307.20" width="11.16" height="116.30" fill="none" stroke="#6b6b6b" stroke-opacity="0.45" stroke-width="0.5"/>
<line x1="253.54" x2="264.70" y1="329.30" y2="329.30" stroke="#6b6b6b" stroke-opacity="0.27" stroke-width="0.5"/>
<line x1="253.54" x2="264.70" y1="336.80" y2="336.80" stroke="#6b6b6b" stroke-opacity="0.27" stroke-width="0.5"/>
<line x1="253.54" x2="264.70" y1="384.10" y2="384.10" stroke="#6b6b6b" stroke-opacity="0.27" stroke-width="0.5"/>
<line x1="253.54" x2="264.70" y1="398.60" y2="398.60" stroke="#6b6b6b" stroke-opacity="0.27" stroke-width="0.5"/>
<line x1="253.54" x2="264.70" y1="422.20" y2="422.20" stroke="#6b6b6b" stroke-opacity="0.27" stroke-width="0.5"/>
<rect x="264.70" y="318.20" width="11.16" height="11.50" fill="#67AACF"/>
<rect x="264.70" y="329.70" width="11.16" height="22.80" fill="#8EDB88"/>
<rect x="264.70" y="352.50" width="11.16" height="19.80" fill="#B4E76C"/>
<rect x="264.70" y="372.30" width="11.16" height="25.00" fill="#E7C479"/>
<rect x="264.70" y="397.30" width="11.16" height="15.50" fill="#EEAD43"/>
<rect x="264.70" y="412.80" width="11.16" height="10.70" fill="#EC7945"/>
<rect x="264.70" y="318.20" width="11.16" height="105.30" fill="none" stroke="#6b6b6b" stroke-opacity="0.45" stroke-width="0.5"/>
<line x1="264.70" x2="275.86" y1="329.70" y2="329.70" stroke="#6b6b6b" stroke-opacity="0.27" stroke-width="0.5"/>
<line x1="264.70" x2="275.86" y1="352.50" y2="352.50" stroke="#6b6b6b" stroke-opacity="0.27" stroke-width="0.5"/>
<line x1="264.70" x2="275.86" y1="372.30" y2="372.30" stroke="#6b6b6b" stroke-opacity="0.27" stroke-width="0.5"/>
<line x1="264.70" x2="275.86" y1="397.30" y2="397.30" stroke="#6b6b6b" stroke-opacity="0.27" stroke-width="0.5"/>
<line x1="264.70" x2="275.86" y1="412.80" y2="412.80" stroke="#6b6b6b" stroke-opacity="0.27" stroke-width="0.5"/>
<rect x="275.86" y="359.60" width="11.16" height="1.10" fill="#67AACF"/>
<rect x="275.86" y="360.70" width="11.16" height="7.80" fill="#8EDB88"/>
<rect x="275.86" y="368.50" width="11.16" height="9.00" fill="#B4E76C"/>
<rect x="275.86" y="377.50" width="11.16" height="17.00" fill="#E7C479"/>
<rect x="275.86" y="394.50" width="11.16" height="25.60" fill="#EEAD43"/>
<rect x="275.86" y="420.10" width="11.16" height="3.40" fill="#EC7945"/>
<rect x="275.86" y="359.60" width="11.16" height="63.90" fill="none" stroke="#6b6b6b" stroke-opacity="0.45" stroke-width="0.5"/>
<line x1="275.86" x2="287.02" y1="360.70" y2="360.70" stroke="#6b6b6b" stroke-opacity="0.27" stroke-width="0.5"/>
<line x1="275.86" x2="287.02" y1="368.50" y2="368.50" stroke="#6b6b6b" stroke-opacity="0.27" stroke-width="0.5"/>
<line x1="275.86" x2="287.02" y1="377.50" y2="377.50" stroke="#6b6b6b" stroke-opacity="0.27" stroke-width="0.5"/>
<line x1="275.86" x2="287.02" y1="394.50" y2="394.50" stroke="#6b6b6b" stroke-opacity="0.27" stroke-width="0.5"/>
<line x1="275.86" x2="287.02" y1="420.10" y2="420.10" stroke="#6b6b6b" stroke-opacity="0.27" stroke-width="0.5"/>
<rect x="287.02" y="369.20" width="11.16" height="2.90" fill="#67AACF"/>
<rect x="287.02" y="372.10" width="11.16" height="13.50" fill="#8EDB88"/>
<rect x="287.02" y="385.60" width="11.16" height="9.50" fill="#B4E76C"/>
<rect x="287.02" y="395.10" width="11.16" height="16.30" fill="#E7C479"/>
<rect x="287.02" y="411.40" width="11.16" height="5.40" fill="#EEAD43"/>
<rect x="287.02" y="416.80" width="11.16" height="6.70" fill="#EC7945"/>
<rect x="287.02" y="369.20" width="11.16" height="54.30" fill="none" stroke="#6b6b6b" stroke-opacity="0.45" stroke-width="0.5"/>
<line x1="287.02" x2="298.18" y1="372.10" y2="372.10" stroke="#6b6b6b" stroke-opacity="0.27" stroke-width="0.5"/>
<line x1="287.02" x2="298.18" y1="385.60" y2="385.60" stroke="#6b6b6b" stroke-opacity="0.27" stroke-width="0.5"/>
<line x1="287.02" x2="298.18" y1="395.10" y2="395.10" stroke="#6b6b6b" stroke-opacity="0.27" stroke-width="0.5"/>
<line x1="287.02" x2="298.18" y1="411.40" y2="411.40" stroke="#6b6b6b" stroke-opacity="0.27" stroke-width="0.5"/>
<line x1="287.02" x2="298.18" y1="416.80" y2="416.80" stroke="#6b6b6b" stroke-opacity="0.27" stroke-width="0.5"/>
<rect x="298.18" y="411.40" width="11.16" height="2.90" fill="#B4E76C"/>
<rect x="298.18" y="414.30" width="11.16" height="4.60" fill="#E7C479"/>
<rect x="298.18" y="418.90" width="11.16" height="2.90" fill="#EEAD43"/>
<rect x="298.18" y="421.80" width="11.16" height="1.70" fill="#EC7945"/>
<rect x="298.18" y="411.40" width="11.16" height="12.10" fill="none" stroke="#6b6b6b" stroke-opacity="0.45" stroke-width="0.5"/>
<line x1="298.18" x2="309.34" y1="414.30" y2="414.30" stroke="#6b6b6b" stroke-opacity="0.27" stroke-width="0.5"/>
<line x1="298.18" x2="309.34" y1="418.90" y2="418.90" stroke="#6b6b6b" stroke-opacity="0.27" stroke-width="0.5"/>
<line x1="298.18" x2="309.34" y1="421.80" y2="421.80" stroke="#6b6b6b" stroke-opacity="0.27" stroke-width="0.5"/>
<rect x="309.34" y="418.20" width="11.16" height="1.40" fill="#B4E76C"/>
<rect x="309.34" y="419.60" width="11.16" height="1.80" fill="#E7C479"/>
<rect x="309.34" y="421.40" width="11.16" height="1.10" fill="#EEAD43"/>
<rect x="309.34" y="422.50" width="11.16" height="1.00" fill="#F4321A"/>
<rect x="309.34" y="418.20" width="11.16" height="5.30" fill="none" stroke="#6b6b6b" stroke-opacity="0.45" stroke-width="0.5"/>
<line x1="309.34" x2="320.50" y1="419.60" y2="419.60" stroke="#6b6b6b" stroke-opacity="0.27" stroke-width="0.5"/>
<line x1="309.34" x2="320.50" y1="421.40" y2="421.40" stroke="#6b6b6b" stroke-opacity="0.27" stroke-width="0.5"/>
<line x1="309.34" x2="320.50" y1="422.50" y2="422.50" stroke="#6b6b6b" stroke-opacity="0.27" stroke-width="0.5"/>
<line x1="208.90" y1="251.10" x2="208.90" y2="423.50" stroke="#333" stroke-width="1.0" stroke-linecap="square"/>
<line x1="208.90" y1="423.50" x2="320.50" y2="423.50" stroke="#3c3c3c" stroke-width="0.9" stroke-linecap="square"/>
<line x1="208.90" y1="251.10" x2="320.50" y2="251.10" stroke="#3c3c3c" stroke-width="0.9" stroke-linecap="square"/>
<line x1="320.50" y1="251.10" x2="320.50" y2="423.50" stroke="#000" stroke-width="1.1" stroke-linecap="square"/>
<line x1="208.9" x2="212.6" y1="251.1" y2="251.1" stroke="#222" stroke-width="1"/>
<text x="205.8" y="256.4" text-anchor="end" font-size="16" font-family="'Liberation Sans', Arial, sans-serif" fill="#000">4,500</text>
<line x1="208.9" x2="212.6" y1="289.5" y2="289.5" stroke="#222" stroke-width="1"/>
<text x="205.8" y="294.8" text-anchor="end" font-size="16" font-family="'Liberation Sans', Arial, sans-serif" fill="#000">3,500</text>
<line x1="208.9" x2="212.6" y1="327.8" y2="327.8" stroke="#222" stroke-width="1"/>
<text x="205.8" y="333.1" text-anchor="end" font-size="16" font-family="'Liberation Sans', Arial, sans-serif" fill="#000">2,500</text>
<line x1="208.9" x2="212.6" y1="366.2" y2="366.2" stroke="#222" stroke-width="1"/>
<text x="205.8" y="371.5" text-anchor="end" font-size="16" font-family="'Liberation Sans', Arial, sans-serif" fill="#000">1,500</text>
<line x1="208.9" x2="212.6" y1="404.4" y2="404.4" stroke="#222" stroke-width="1"/>
<text x="205.8" y="409.7" text-anchor="end" font-size="16" font-family="'Liberation Sans', Arial, sans-serif" fill="#000">500</text>
<line x1="208.9" x2="211.20000000000002" y1="270.3" y2="270.3" stroke="#222" stroke-width="0.8"/>
<line x1="208.9" x2="211.20000000000002" y1="308.7" y2="308.7" stroke="#222" stroke-width="0.8"/>
<line x1="208.9" x2="211.20000000000002" y1="347.0" y2="347.0" stroke="#222" stroke-width="0.8"/>
<line x1="208.9" x2="211.20000000000002" y1="385.3" y2="385.3" stroke="#222" stroke-width="0.8"/>
<rect x="381.86" y="311.10" width="11.16" height="1.10" fill="#8EDB88"/>
<rect x="381.86" y="312.20" width="11.16" height="48.10" fill="#E7C479"/>
<rect x="381.86" y="360.30" width="11.16" height="50.50" fill="#EEAD43"/>
<rect x="381.86" y="410.80" width="11.16" height="12.70" fill="#EC7945"/>
<rect x="381.86" y="311.10" width="11.16" height="112.40" fill="none" stroke="#6b6b6b" stroke-opacity="0.45" stroke-width="0.5"/>
<line x1="381.86" x2="393.02" y1="312.20" y2="312.20" stroke="#6b6b6b" stroke-opacity="0.27" stroke-width="0.5"/>
<line x1="381.86" x2="393.02" y1="360.30" y2="360.30" stroke="#6b6b6b" stroke-opacity="0.27" stroke-width="0.5"/>
<line x1="381.86" x2="393.02" y1="410.80" y2="410.80" stroke="#6b6b6b" stroke-opacity="0.27" stroke-width="0.5"/>
<rect x="393.02" y="261.80" width="11.16" height="1.00" fill="#67AACF"/>
<rect x="393.02" y="262.80" width="11.16" height="1.10" fill="#8EDB88"/>
<rect x="393.02" y="263.90" width="11.16" height="0.70" fill="#B4E76C"/>
<rect x="393.02" y="264.60" width="11.16" height="69.00" fill="#E7C479"/>
<rect x="393.02" y="333.60" width="11.16" height="84.60" fill="#EEAD43"/>
<rect x="393.02" y="418.20" width="11.16" height="5.30" fill="#EC7945"/>
<rect x="393.02" y="261.80" width="11.16" height="161.70" fill="none" stroke="#6b6b6b" stroke-opacity="0.45" stroke-width="0.5"/>
<line x1="393.02" x2="404.18" y1="262.80" y2="262.80" stroke="#6b6b6b" stroke-opacity="0.27" stroke-width="0.5"/>
<line x1="393.02" x2="404.18" y1="263.90" y2="263.90" stroke="#6b6b6b" stroke-opacity="0.27" stroke-width="0.5"/>
<line x1="393.02" x2="404.18" y1="264.60" y2="264.60" stroke="#6b6b6b" stroke-opacity="0.27" stroke-width="0.5"/>
<line x1="393.02" x2="404.18" y1="333.60" y2="333.60" stroke="#6b6b6b" stroke-opacity="0.27" stroke-width="0.5"/>
<line x1="393.02" x2="404.18" y1="418.20" y2="418.20" stroke="#6b6b6b" stroke-opacity="0.27" stroke-width="0.5"/>
<rect x="404.18" y="282.80" width="11.16" height="1.30" fill="#67AACF"/>
<rect x="404.18" y="284.10" width="11.16" height="1.50" fill="#8EDB88"/>
<rect x="404.18" y="285.60" width="11.16" height="1.80" fill="#B4E76C"/>
<rect x="404.18" y="287.40" width="11.16" height="18.00" fill="#E7C479"/>
<rect x="404.18" y="305.40" width="11.16" height="114.50" fill="#EEAD43"/>
<rect x="404.18" y="419.90" width="11.16" height="3.60" fill="#D4200B"/>
<rect x="404.18" y="282.80" width="11.16" height="140.70" fill="none" stroke="#6b6b6b" stroke-opacity="0.45" stroke-width="0.5"/>
<line x1="404.18" x2="415.34" y1="284.10" y2="284.10" stroke="#6b6b6b" stroke-opacity="0.27" stroke-width="0.5"/>
<line x1="404.18" x2="415.34" y1="285.60" y2="285.60" stroke="#6b6b6b" stroke-opacity="0.27" stroke-width="0.5"/>
<line x1="404.18" x2="415.34" y1="287.40" y2="287.40" stroke="#6b6b6b" stroke-opacity="0.27" stroke-width="0.5"/>
<line x1="404.18" x2="415.34" y1="305.40" y2="305.40" stroke="#6b6b6b" stroke-opacity="0.27" stroke-width="0.5"/>
<line x1="404.18" x2="415.34" y1="419.90" y2="419.90" stroke="#6b6b6b" stroke-opacity="0.27" stroke-width="0.5"/>
<rect x="415.34" y="297.30" width="11.16" height="1.70" fill="#67AACF"/>
<rect x="415.34" y="299.00" width="11.16" height="62.40" fill="#E7C479"/>
<rect x="415.34" y="361.40" width="11.16" height="29.40" fill="#EEAD43"/>
<rect x="415.34" y="390.80" width="11.16" height="31.00" fill="#EC7945"/>
<rect x="415.34" y="421.80" width="11.16" height="1.70" fill="#D4200B"/>
<rect x="415.34" y="297.30" width="11.16" height="126.20" fill="none" stroke="#6b6b6b" stroke-opacity="0.45" stroke-width="0.5"/>
<line x1="415.34" x2="426.50" y1="299.00" y2="299.00" stroke="#6b6b6b" stroke-opacity="0.27" stroke-width="0.5"/>
<line x1="415.34" x2="426.50" y1="361.40" y2="361.40" stroke="#6b6b6b" stroke-opacity="0.27" stroke-width="0.5"/>
<line x1="415.34" x2="426.50" y1="390.80" y2="390.80" stroke="#6b6b6b" stroke-opacity="0.27" stroke-width="0.5"/>
<line x1="415.34" x2="426.50" y1="421.80" y2="421.80" stroke="#6b6b6b" stroke-opacity="0.27" stroke-width="0.5"/>
<rect x="426.50" y="330.30" width="11.16" height="1.10" fill="#67AACF"/>
<rect x="426.50" y="331.40" width="11.16" height="1.70" fill="#B4E76C"/>
<rect x="426.50" y="333.10" width="11.16" height="39.40" fill="#E7C479"/>
<rect x="426.50" y="372.50" width="11.16" height="20.40" fill="#EEAD43"/>
<rect x="426.50" y="392.90" width="11.16" height="29.30" fill="#EC7945"/>
<rect x="426.50" y="422.20" width="11.16" height="1.30" fill="#D4200B"/>
<rect x="426.50" y="330.30" width="11.16" height="93.20" fill="none" stroke="#6b6b6b" stroke-opacity="0.45" stroke-width="0.5"/>
<line x1="426.50" x2="437.66" y1="331.40" y2="331.40" stroke="#6b6b6b" stroke-opacity="0.27" stroke-width="0.5"/>
<line x1="426.50" x2="437.66" y1="333.10" y2="333.10" stroke="#6b6b6b" stroke-opacity="0.27" stroke-width="0.5"/>
<line x1="426.50" x2="437.66" y1="372.50" y2="372.50" stroke="#6b6b6b" stroke-opacity="0.27" stroke-width="0.5"/>
<line x1="426.50" x2="437.66" y1="392.90" y2="392.90" stroke="#6b6b6b" stroke-opacity="0.27" stroke-width="0.5"/>
<line x1="426.50" x2="437.66" y1="422.20" y2="422.20" stroke="#6b6b6b" stroke-opacity="0.27" stroke-width="0.5"/>
<rect x="437.66" y="340.80" width="11.16" height="1.70" fill="#67AACF"/>
<rect x="437.66" y="342.50" width="11.16" height="36.00" fill="#E7C479"/>
<rect x="437.66" y="378.50" width="11.16" height="37.90" fill="#EEAD43"/>
<rect x="437.66" y="416.40" width="11.16" height="7.10" fill="#EC7945"/>
<rect x="437.66" y="340.80" width="11.16" height="82.70" fill="none" stroke="#6b6b6b" stroke-opacity="0.45" stroke-width="0.5"/>
<line x1="437.66" x2="448.82" y1="342.50" y2="342.50" stroke="#6b6b6b" stroke-opacity="0.27" stroke-width="0.5"/>
<line x1="437.66" x2="448.82" y1="378.50" y2="378.50" stroke="#6b6b6b" stroke-opacity="0.27" stroke-width="0.5"/>
<line x1="437.66" x2="448.82" y1="416.40" y2="416.40" stroke="#6b6b6b" stroke-opacity="0.27" stroke-width="0.5"/>
<rect x="448.82" y="350.30" width="11.16" height="1.50" fill="#67AACF"/>
<rect x="448.82" y="351.80" width="11.16" height="2.80" fill="#B4E76C"/>
<rect x="448.82" y="354.60" width="11.16" height="25.60" fill="#E7C479"/>
<rect x="448.82" y="380.20" width="11.16" height="28.10" fill="#EEAD43"/>
<rect x="448.82" y="408.30" width="11.16" height="15.20" fill="#EC7945"/>
<rect x="448.82" y="350.30" width="11.16" height="73.20" fill="none" stroke="#6b6b6b" stroke-opacity="0.45" stroke-width="0.5"/>
<line x1="448.82" x2="459.98" y1="351.80" y2="351.80" stroke="#6b6b6b" stroke-opacity="0.27" stroke-width="0.5"/>
<line x1="448.82" x2="459.98" y1="354.60" y2="354.60" stroke="#6b6b6b" stroke-opacity="0.27" stroke-width="0.5"/>
<line x1="448.82" x2="459.98" y1="380.20" y2="380.20" stroke="#6b6b6b" stroke-opacity="0.27" stroke-width="0.5"/>
<line x1="448.82" x2="459.98" y1="408.30" y2="408.30" stroke="#6b6b6b" stroke-opacity="0.27" stroke-width="0.5"/>
<rect x="459.98" y="389.40" width="11.16" height="3.70" fill="#67AACF"/>
<rect x="459.98" y="393.10" width="11.16" height="1.70" fill="#B4E76C"/>
<rect x="459.98" y="394.80" width="11.16" height="13.20" fill="#E7C479"/>
<rect x="459.98" y="408.00" width="11.16" height="2.00" fill="#EEAD43"/>
<rect x="459.98" y="410.00" width="11.16" height="11.10" fill="#EC7945"/>
<rect x="459.98" y="421.10" width="11.16" height="2.40" fill="#D4200B"/>
<rect x="459.98" y="389.40" width="11.16" height="34.10" fill="none" stroke="#6b6b6b" stroke-opacity="0.45" stroke-width="0.5"/>
<line x1="459.98" x2="471.14" y1="393.10" y2="393.10" stroke="#6b6b6b" stroke-opacity="0.27" stroke-width="0.5"/>
<line x1="459.98" x2="471.14" y1="394.80" y2="394.80" stroke="#6b6b6b" stroke-opacity="0.27" stroke-width="0.5"/>
<line x1="459.98" x2="471.14" y1="408.00" y2="408.00" stroke="#6b6b6b" stroke-opacity="0.27" stroke-width="0.5"/>
<line x1="459.98" x2="471.14" y1="410.00" y2="410.00" stroke="#6b6b6b" stroke-opacity="0.27" stroke-width="0.5"/>
<line x1="459.98" x2="471.14" y1="421.10" y2="421.10" stroke="#6b6b6b" stroke-opacity="0.27" stroke-width="0.5"/>
<rect x="471.14" y="396.20" width="11.16" height="3.60" fill="#67AACF"/>
<rect x="471.14" y="399.80" width="11.16" height="1.10" fill="#8EDB88"/>
<rect x="471.14" y="400.90" width="11.16" height="8.10" fill="#E7C479"/>
<rect x="471.14" y="409.00" width="11.16" height="9.70" fill="#EEAD43"/>
<rect x="471.14" y="418.70" width="11.16" height="3.80" fill="#EC7945"/>
<rect x="471.14" y="422.50" width="11.16" height="1.00" fill="#F4321A"/>
<rect x="471.14" y="396.20" width="11.16" height="27.30" fill="none" stroke="#6b6b6b" stroke-opacity="0.45" stroke-width="0.5"/>
<line x1="471.14" x2="482.30" y1="399.80" y2="399.80" stroke="#6b6b6b" stroke-opacity="0.27" stroke-width="0.5"/>
<line x1="471.14" x2="482.30" y1="400.90" y2="400.90" stroke="#6b6b6b" stroke-opacity="0.27" stroke-width="0.5"/>
<line x1="471.14" x2="482.30" y1="409.00" y2="409.00" stroke="#6b6b6b" stroke-opacity="0.27" stroke-width="0.5"/>
<line x1="471.14" x2="482.30" y1="418.70" y2="418.70" stroke="#6b6b6b" stroke-opacity="0.27" stroke-width="0.5"/>
<line x1="471.14" x2="482.30" y1="422.50" y2="422.50" stroke="#6b6b6b" stroke-opacity="0.27" stroke-width="0.5"/>
<rect x="381.36" y="293.3" width="34.48" height="3.70" fill="#fff"/>
<line x1="370.70" y1="251.10" x2="370.70" y2="423.50" stroke="#333" stroke-width="1.0" stroke-linecap="square"/>
<line x1="370.70" y1="423.50" x2="482.30" y2="423.50" stroke="#3c3c3c" stroke-width="0.9" stroke-linecap="square"/>
<line x1="370.70" y1="251.10" x2="482.30" y2="251.10" stroke="#3c3c3c" stroke-width="0.9" stroke-linecap="square"/>
<line x1="482.30" y1="251.10" x2="482.30" y2="423.50" stroke="#3c3c3c" stroke-width="0.9" stroke-linecap="square"/>
<line x1="370.7" x2="374.4" y1="251.1" y2="251.1" stroke="#222" stroke-width="1"/>
<text x="366.7" y="256.4" text-anchor="end" font-size="16" font-family="'Liberation Sans', Arial, sans-serif" fill="#000">18,000</text>
<line x1="370.7" x2="374.4" y1="328.4" y2="328.4" stroke="#222" stroke-width="1"/>
<text x="366.7" y="333.7" text-anchor="end" font-size="16" font-family="'Liberation Sans', Arial, sans-serif" fill="#000">9,000</text>
<line x1="370.7" x2="374.4" y1="360.1" y2="360.1" stroke="#222" stroke-width="1"/>
<text x="366.7" y="365.4" text-anchor="end" font-size="16" font-family="'Liberation Sans', Arial, sans-serif" fill="#000">6,000</text>
<line x1="370.7" x2="374.4" y1="391.8" y2="391.8" stroke="#222" stroke-width="1"/>
<text x="366.7" y="397.1" text-anchor="end" font-size="16" font-family="'Liberation Sans', Arial, sans-serif" fill="#000">3,000</text>
<line x1="370.7" x2="374.4" y1="423.5" y2="423.5" stroke="#222" stroke-width="1"/>
<text x="366.7" y="428.8" text-anchor="end" font-size="16" font-family="'Liberation Sans', Arial, sans-serif" fill="#000">0</text>
<line x1="370.7" x2="373.0" y1="271.7" y2="271.7" stroke="#222" stroke-width="0.8"/>
<line x1="370.7" x2="373.0" y1="312.5" y2="312.5" stroke="#222" stroke-width="0.8"/>
<line x1="370.7" x2="373.0" y1="344.2" y2="344.2" stroke="#222" stroke-width="0.8"/>
<line x1="370.7" x2="373.0" y1="376.0" y2="376.0" stroke="#222" stroke-width="0.8"/>
<line x1="370.7" x2="373.0" y1="407.6" y2="407.6" stroke="#222" stroke-width="0.8"/>
<rect x="369.7" y="294.0" width="2" height="2.6" fill="#fff"/>
<line x1="367.09999999999997" x2="374.3" y1="295.7" y2="292.3" stroke="#111" stroke-width="1.0"/>
<line x1="367.09999999999997" x2="374.3" y1="298.3" y2="294.90000000000003" stroke="#111" stroke-width="1.0"/>
<rect x="481.29999999999995" y="294.0" width="2" height="2.6" fill="#fff"/>
<line x1="478.69999999999993" x2="485.9" y1="295.7" y2="292.3" stroke="#111" stroke-width="1.0"/>
<line x1="478.69999999999993" x2="485.9" y1="298.3" y2="294.90000000000003" stroke="#111" stroke-width="1.0"/>
<rect x="532.50" y="376.30" width="11.16" height="8.10" fill="#EAE160"/>
<rect x="532.50" y="384.40" width="11.16" height="21.00" fill="#E7C479"/>
<rect x="532.50" y="405.40" width="11.16" height="12.80" fill="#EEAD43"/>
<rect x="532.50" y="418.20" width="11.16" height="5.30" fill="#EC7945"/>
<rect x="532.50" y="376.30" width="11.16" height="47.20" fill="none" stroke="#6b6b6b" stroke-opacity="0.45" stroke-width="0.5"/>
<line x1="532.50" x2="543.66" y1="384.40" y2="384.40" stroke="#6b6b6b" stroke-opacity="0.27" stroke-width="0.5"/>
<line x1="532.50" x2="543.66" y1="405.40" y2="405.40" stroke="#6b6b6b" stroke-opacity="0.27" stroke-width="0.5"/>
<line x1="532.50" x2="543.66" y1="418.20" y2="418.20" stroke="#6b6b6b" stroke-opacity="0.27" stroke-width="0.5"/>
<rect x="543.66" y="345.50" width="11.16" height="8.80" fill="#EAE160"/>
<rect x="543.66" y="354.30" width="11.16" height="38.10" fill="#E7C479"/>
<rect x="543.66" y="392.40" width="11.16" height="21.60" fill="#EEAD43"/>
<rect x="543.66" y="414.00" width="11.16" height="9.50" fill="#EC7945"/>
<rect x="543.66" y="345.50" width="11.16" height="78.00" fill="none" stroke="#6b6b6b" stroke-opacity="0.45" stroke-width="0.5"/>
<line x1="543.66" x2="554.82" y1="354.30" y2="354.30" stroke="#6b6b6b" stroke-opacity="0.27" stroke-width="0.5"/>
<line x1="543.66" x2="554.82" y1="392.40" y2="392.40" stroke="#6b6b6b" stroke-opacity="0.27" stroke-width="0.5"/>
<line x1="543.66" x2="554.82" y1="414.00" y2="414.00" stroke="#6b6b6b" stroke-opacity="0.27" stroke-width="0.5"/>
<rect x="554.82" y="276.40" width="11.16" height="6.00" fill="#EAE160"/>
<rect x="554.82" y="282.40" width="11.16" height="73.60" fill="#E7C479"/>
<rect x="554.82" y="356.00" width="11.16" height="56.50" fill="#EEAD43"/>
<rect x="554.82" y="412.50" width="11.16" height="11.00" fill="#EC7945"/>
<rect x="554.82" y="276.40" width="11.16" height="147.10" fill="none" stroke="#6b6b6b" stroke-opacity="0.45" stroke-width="0.5"/>
<line x1="554.82" x2="565.98" y1="282.40" y2="282.40" stroke="#6b6b6b" stroke-opacity="0.27" stroke-width="0.5"/>
<line x1="554.82" x2="565.98" y1="356.00" y2="356.00" stroke="#6b6b6b" stroke-opacity="0.27" stroke-width="0.5"/>
<line x1="554.82" x2="565.98" y1="412.50" y2="412.50" stroke="#6b6b6b" stroke-opacity="0.27" stroke-width="0.5"/>
<rect x="565.98" y="260.10" width="11.16" height="7.40" fill="#EAE160"/>
<rect x="565.98" y="267.50" width="11.16" height="73.30" fill="#E7C479"/>
<rect x="565.98" y="340.80" width="11.16" height="57.50" fill="#EEAD43"/>
<rect x="565.98" y="398.30" width="11.16" height="24.20" fill="#EC7945"/>
<rect x="565.98" y="422.50" width="11.16" height="1.00" fill="#D4200B"/>
<rect x="565.98" y="260.10" width="11.16" height="163.40" fill="none" stroke="#6b6b6b" stroke-opacity="0.45" stroke-width="0.5"/>
<line x1="565.98" x2="577.14" y1="267.50" y2="267.50" stroke="#6b6b6b" stroke-opacity="0.27" stroke-width="0.5"/>
<line x1="565.98" x2="577.14" y1="340.80" y2="340.80" stroke="#6b6b6b" stroke-opacity="0.27" stroke-width="0.5"/>
<line x1="565.98" x2="577.14" y1="398.30" y2="398.30" stroke="#6b6b6b" stroke-opacity="0.27" stroke-width="0.5"/>
<line x1="565.98" x2="577.14" y1="422.50" y2="422.50" stroke="#6b6b6b" stroke-opacity="0.27" stroke-width="0.5"/>
<rect x="577.14" y="255.40" width="11.16" height="3.80" fill="#EAE160"/>
<rect x="577.14" y="259.20" width="11.16" height="77.30" fill="#E7C479"/>
<rect x="577.14" y="336.50" width="11.16" height="15.70" fill="#EEAD43"/>
<rect x="577.14" y="352.20" width="11.16" height="62.20" fill="#EC7945"/>
<rect x="577.14" y="414.40" width="11.16" height="9.10" fill="#D4200B"/>
<rect x="577.14" y="255.40" width="11.16" height="168.10" fill="none" stroke="#6b6b6b" stroke-opacity="0.45" stroke-width="0.5"/>
<line x1="577.14" x2="588.30" y1="259.20" y2="259.20" stroke="#6b6b6b" stroke-opacity="0.27" stroke-width="0.5"/>
<line x1="577.14" x2="588.30" y1="336.50" y2="336.50" stroke="#6b6b6b" stroke-opacity="0.27" stroke-width="0.5"/>
<line x1="577.14" x2="588.30" y1="352.20" y2="352.20" stroke="#6b6b6b" stroke-opacity="0.27" stroke-width="0.5"/>
<line x1="577.14" x2="588.30" y1="414.40" y2="414.40" stroke="#6b6b6b" stroke-opacity="0.27" stroke-width="0.5"/>
<rect x="588.30" y="274.30" width="11.16" height="22.00" fill="#B4E76C"/>
<rect x="588.30" y="296.30" width="11.16" height="3.60" fill="#EAE160"/>
<rect x="588.30" y="299.90" width="11.16" height="45.90" fill="#E7C479"/>
<rect x="588.30" y="345.80" width="11.16" height="22.70" fill="#EEAD43"/>
<rect x="588.30" y="368.50" width="11.16" height="50.20" fill="#EC7945"/>
<rect x="588.30" y="418.70" width="11.16" height="4.80" fill="#D4200B"/>
<rect x="588.30" y="274.30" width="11.16" height="149.20" fill="none" stroke="#6b6b6b" stroke-opacity="0.45" stroke-width="0.5"/>
<line x1="588.30" x2="599.46" y1="296.30" y2="296.30" stroke="#6b6b6b" stroke-opacity="0.27" stroke-width="0.5"/>
<line x1="588.30" x2="599.46" y1="299.90" y2="299.90" stroke="#6b6b6b" stroke-opacity="0.27" stroke-width="0.5"/>
<line x1="588.30" x2="599.46" y1="345.80" y2="345.80" stroke="#6b6b6b" stroke-opacity="0.27" stroke-width="0.5"/>
<line x1="588.30" x2="599.46" y1="368.50" y2="368.50" stroke="#6b6b6b" stroke-opacity="0.27" stroke-width="0.5"/>
<line x1="588.30" x2="599.46" y1="418.70" y2="418.70" stroke="#6b6b6b" stroke-opacity="0.27" stroke-width="0.5"/>
<rect x="599.46" y="301.30" width="11.16" height="3.50" fill="#67AACF"/>
<rect x="599.46" y="304.80" width="11.16" height="7.70" fill="#B4E76C"/>
<rect x="599.46" y="312.50" width="11.16" height="3.00" fill="#EAE160"/>
<rect x="599.46" y="315.50" width="11.16" height="38.10" fill="#E7C479"/>
<rect x="599.46" y="353.60" width="11.16" height="6.80" fill="#EEAD43"/>
<rect x="599.46" y="360.40" width="11.16" height="58.30" fill="#EC7945"/>
<rect x="599.46" y="418.70" width="11.16" height="4.80" fill="#D4200B"/>
<rect x="599.46" y="301.30" width="11.16" height="122.20" fill="none" stroke="#6b6b6b" stroke-opacity="0.45" stroke-width="0.5"/>
<line x1="599.46" x2="610.62" y1="304.80" y2="304.80" stroke="#6b6b6b" stroke-opacity="0.27" stroke-width="0.5"/>
<line x1="599.46" x2="610.62" y1="312.50" y2="312.50" stroke="#6b6b6b" stroke-opacity="0.27" stroke-width="0.5"/>
<line x1="599.46" x2="610.62" y1="315.50" y2="315.50" stroke="#6b6b6b" stroke-opacity="0.27" stroke-width="0.5"/>
<line x1="599.46" x2="610.62" y1="353.60" y2="353.60" stroke="#6b6b6b" stroke-opacity="0.27" stroke-width="0.5"/>
<line x1="599.46" x2="610.62" y1="360.40" y2="360.40" stroke="#6b6b6b" stroke-opacity="0.27" stroke-width="0.5"/>
<line x1="599.46" x2="610.62" y1="418.70" y2="418.70" stroke="#6b6b6b" stroke-opacity="0.27" stroke-width="0.5"/>
<rect x="610.62" y="307.70" width="11.16" height="7.80" fill="#67AACF"/>
<rect x="610.62" y="315.50" width="11.16" height="15.20" fill="#B4E76C"/>
<rect x="610.62" y="330.70" width="11.16" height="1.80" fill="#EAE160"/>
<rect x="610.62" y="332.50" width="11.16" height="38.90" fill="#E7C479"/>
<rect x="610.62" y="371.40" width="11.16" height="41.10" fill="#EEAD43"/>
<rect x="610.62" y="412.50" width="11.16" height="11.00" fill="#EC7945"/>
<rect x="610.62" y="307.70" width="11.16" height="115.80" fill="none" stroke="#6b6b6b" stroke-opacity="0.45" stroke-width="0.5"/>
<line x1="610.62" x2="621.78" y1="315.50" y2="315.50" stroke="#6b6b6b" stroke-opacity="0.27" stroke-width="0.5"/>
<line x1="610.62" x2="621.78" y1="330.70" y2="330.70" stroke="#6b6b6b" stroke-opacity="0.27" stroke-width="0.5"/>
<line x1="610.62" x2="621.78" y1="332.50" y2="332.50" stroke="#6b6b6b" stroke-opacity="0.27" stroke-width="0.5"/>
<line x1="610.62" x2="621.78" y1="371.40" y2="371.40" stroke="#6b6b6b" stroke-opacity="0.27" stroke-width="0.5"/>
<line x1="610.62" x2="621.78" y1="412.50" y2="412.50" stroke="#6b6b6b" stroke-opacity="0.27" stroke-width="0.5"/>
<rect x="621.78" y="299.00" width="11.16" height="3.60" fill="#67AACF"/>
<rect x="621.78" y="302.60" width="11.16" height="11.30" fill="#B4E76C"/>
<rect x="621.78" y="313.90" width="11.16" height="40.40" fill="#E7C479"/>
<rect x="621.78" y="354.30" width="11.16" height="7.80" fill="#EEAD43"/>
<rect x="621.78" y="362.10" width="11.16" height="54.70" fill="#EC7945"/>
<rect x="621.78" y="416.80" width="11.16" height="6.70" fill="#D4200B"/>
<rect x="621.78" y="299.00" width="11.16" height="124.50" fill="none" stroke="#6b6b6b" stroke-opacity="0.45" stroke-width="0.5"/>
<line x1="621.78" x2="632.94" y1="302.60" y2="302.60" stroke="#6b6b6b" stroke-opacity="0.27" stroke-width="0.5"/>
<line x1="621.78" x2="632.94" y1="313.90" y2="313.90" stroke="#6b6b6b" stroke-opacity="0.27" stroke-width="0.5"/>
<line x1="621.78" x2="632.94" y1="354.30" y2="354.30" stroke="#6b6b6b" stroke-opacity="0.27" stroke-width="0.5"/>
<line x1="621.78" x2="632.94" y1="362.10" y2="362.10" stroke="#6b6b6b" stroke-opacity="0.27" stroke-width="0.5"/>
<line x1="621.78" x2="632.94" y1="416.80" y2="416.80" stroke="#6b6b6b" stroke-opacity="0.27" stroke-width="0.5"/>
<rect x="632.94" y="356.00" width="11.16" height="8.30" fill="#67AACF"/>
<rect x="632.94" y="364.30" width="11.16" height="9.60" fill="#B4E76C"/>
<rect x="632.94" y="373.90" width="11.16" height="22.60" fill="#E7C479"/>
<rect x="632.94" y="396.50" width="11.16" height="18.20" fill="#EEAD43"/>
<rect x="632.94" y="414.70" width="11.16" height="6.70" fill="#EC7945"/>
<rect x="632.94" y="421.40" width="11.16" height="2.10" fill="#D4200B"/>
<rect x="632.94" y="356.00" width="11.16" height="67.50" fill="none" stroke="#6b6b6b" stroke-opacity="0.45" stroke-width="0.5"/>
<line x1="632.94" x2="644.10" y1="364.30" y2="364.30" stroke="#6b6b6b" stroke-opacity="0.27" stroke-width="0.5"/>
<line x1="632.94" x2="644.10" y1="373.90" y2="373.90" stroke="#6b6b6b" stroke-opacity="0.27" stroke-width="0.5"/>
<line x1="632.94" x2="644.10" y1="396.50" y2="396.50" stroke="#6b6b6b" stroke-opacity="0.27" stroke-width="0.5"/>
<line x1="632.94" x2="644.10" y1="414.70" y2="414.70" stroke="#6b6b6b" stroke-opacity="0.27" stroke-width="0.5"/>
<line x1="632.94" x2="644.10" y1="421.40" y2="421.40" stroke="#6b6b6b" stroke-opacity="0.27" stroke-width="0.5"/>
<line x1="532.50" y1="251.10" x2="532.50" y2="423.50" stroke="#555" stroke-width="0.9" stroke-linecap="square"/>
<line x1="532.50" y1="423.50" x2="644.10" y2="423.50" stroke="#3c3c3c" stroke-width="0.9" stroke-linecap="square"/>
<line x1="532.50" y1="251.10" x2="644.10" y2="251.10" stroke="#3c3c3c" stroke-width="0.9" stroke-linecap="square"/>
<line x1="644.10" y1="251.10" x2="644.10" y2="423.50" stroke="#3c3c3c" stroke-width="0.9" stroke-linecap="square"/>
<line x1="532.5" x2="536.2" y1="251.1" y2="251.1" stroke="#222" stroke-width="1"/>
<text x="528.5" y="256.4" text-anchor="end" font-size="16" font-family="'Liberation Sans', Arial, sans-serif" fill="#000">6,000</text>
<line x1="532.5" x2="536.2" y1="294.3" y2="294.3" stroke="#222" stroke-width="1"/>
<text x="528.5" y="299.6" text-anchor="end" font-size="16" font-family="'Liberation Sans', Arial, sans-serif" fill="#000">4,500</text>
<line x1="532.5" x2="536.2" y1="337.4" y2="337.4" stroke="#222" stroke-width="1"/>
<text x="528.5" y="342.7" text-anchor="end" font-size="16" font-family="'Liberation Sans', Arial, sans-serif" fill="#000">3,000</text>
<line x1="532.5" x2="536.2" y1="380.5" y2="380.5" stroke="#222" stroke-width="1"/>
<text x="528.5" y="385.8" text-anchor="end" font-size="16" font-family="'Liberation Sans', Arial, sans-serif" fill="#000">1,500</text>
<line x1="532.5" x2="536.2" y1="423.5" y2="423.5" stroke="#222" stroke-width="1"/>
<text x="528.5" y="428.8" text-anchor="end" font-size="16" font-family="'Liberation Sans', Arial, sans-serif" fill="#000">0</text>
<line x1="532.5" x2="534.8" y1="272.6" y2="272.6" stroke="#222" stroke-width="0.8"/>
<line x1="532.5" x2="534.8" y1="315.8" y2="315.8" stroke="#222" stroke-width="0.8"/>
<line x1="532.5" x2="534.8" y1="358.9" y2="358.9" stroke="#222" stroke-width="0.8"/>
<line x1="532.5" x2="534.8" y1="402.0" y2="402.0" stroke="#222" stroke-width="0.8"/>
<rect x="693.90" y="404.00" width="11.16" height="5.70" fill="#67AACF"/>
<rect x="693.90" y="409.70" width="11.16" height="3.60" fill="#8EDB88"/>
<rect x="693.90" y="413.30" width="11.16" height="2.40" fill="#E7C479"/>
<rect x="693.90" y="415.70" width="11.16" height="6.50" fill="#EEAD43"/>
<rect x="693.90" y="422.20" width="11.16" height="1.30" fill="#F4321A"/>
<rect x="693.90" y="404.00" width="11.16" height="19.50" fill="none" stroke="#6b6b6b" stroke-opacity="0.45" stroke-width="0.5"/>
<line x1="693.90" x2="705.06" y1="409.70" y2="409.70" stroke="#6b6b6b" stroke-opacity="0.27" stroke-width="0.5"/>
<line x1="693.90" x2="705.06" y1="413.30" y2="413.30" stroke="#6b6b6b" stroke-opacity="0.27" stroke-width="0.5"/>
<line x1="693.90" x2="705.06" y1="415.70" y2="415.70" stroke="#6b6b6b" stroke-opacity="0.27" stroke-width="0.5"/>
<line x1="693.90" x2="705.06" y1="422.20" y2="422.20" stroke="#6b6b6b" stroke-opacity="0.27" stroke-width="0.5"/>
<rect x="705.06" y="394.50" width="11.16" height="1.70" fill="#67AACF"/>
<rect x="705.06" y="396.20" width="11.16" height="1.00" fill="#8EDB88"/>
<rect x="705.06" y="397.20" width="11.16" height="2.60" fill="#E7C479"/>
<rect x="705.06" y="399.80" width="11.16" height="21.60" fill="#EEAD43"/>
<rect x="705.06" y="421.40" width="11.16" height="2.10" fill="#F4321A"/>
<rect x="705.06" y="394.50" width="11.16" height="29.00" fill="none" stroke="#6b6b6b" stroke-opacity="0.45" stroke-width="0.5"/>
<line x1="705.06" x2="716.22" y1="396.20" y2="396.20" stroke="#6b6b6b" stroke-opacity="0.27" stroke-width="0.5"/>
<line x1="705.06" x2="716.22" y1="397.20" y2="397.20" stroke="#6b6b6b" stroke-opacity="0.27" stroke-width="0.5"/>
<line x1="705.06" x2="716.22" y1="399.80" y2="399.80" stroke="#6b6b6b" stroke-opacity="0.27" stroke-width="0.5"/>
<line x1="705.06" x2="716.22" y1="421.40" y2="421.40" stroke="#6b6b6b" stroke-opacity="0.27" stroke-width="0.5"/>
<rect x="716.22" y="353.20" width="11.16" height="1.10" fill="#67AACF"/>
<rect x="716.22" y="354.30" width="11.16" height="2.10" fill="#8EDB88"/>
<rect x="716.22" y="356.40" width="11.16" height="1.90" fill="#EAE160"/>
<rect x="716.22" y="358.30" width="11.16" height="4.20" fill="#E7C479"/>
<rect x="716.22" y="362.50" width="11.16" height="52.20" fill="#EEAD43"/>
<rect x="716.22" y="414.70" width="11.16" height="5.70" fill="#F4321A"/>
<rect x="716.22" y="420.40" width="11.16" height="3.10" fill="#D4200B"/>
<rect x="716.22" y="353.20" width="11.16" height="70.30" fill="none" stroke="#6b6b6b" stroke-opacity="0.45" stroke-width="0.5"/>
<line x1="716.22" x2="727.38" y1="354.30" y2="354.30" stroke="#6b6b6b" stroke-opacity="0.27" stroke-width="0.5"/>
<line x1="716.22" x2="727.38" y1="356.40" y2="356.40" stroke="#6b6b6b" stroke-opacity="0.27" stroke-width="0.5"/>
<line x1="716.22" x2="727.38" y1="358.30" y2="358.30" stroke="#6b6b6b" stroke-opacity="0.27" stroke-width="0.5"/>
<line x1="716.22" x2="727.38" y1="362.50" y2="362.50" stroke="#6b6b6b" stroke-opacity="0.27" stroke-width="0.5"/>
<line x1="716.22" x2="727.38" y1="414.70" y2="414.70" stroke="#6b6b6b" stroke-opacity="0.27" stroke-width="0.5"/>
<line x1="716.22" x2="727.38" y1="420.40" y2="420.40" stroke="#6b6b6b" stroke-opacity="0.27" stroke-width="0.5"/>
<rect x="727.38" y="265.30" width="11.16" height="1.90" fill="#67AACF"/>
<rect x="727.38" y="267.20" width="11.16" height="1.40" fill="#8EDB88"/>
<rect x="727.38" y="268.60" width="11.16" height="145.40" fill="#E7C479"/>
<rect x="727.38" y="414.00" width="11.16" height="4.20" fill="#F4321A"/>
<rect x="727.38" y="418.20" width="11.16" height="5.30" fill="#D4200B"/>
<rect x="727.38" y="265.30" width="11.16" height="158.20" fill="none" stroke="#6b6b6b" stroke-opacity="0.45" stroke-width="0.5"/>
<line x1="727.38" x2="738.54" y1="267.20" y2="267.20" stroke="#6b6b6b" stroke-opacity="0.27" stroke-width="0.5"/>
<line x1="727.38" x2="738.54" y1="268.60" y2="268.60" stroke="#6b6b6b" stroke-opacity="0.27" stroke-width="0.5"/>
<line x1="727.38" x2="738.54" y1="414.00" y2="414.00" stroke="#6b6b6b" stroke-opacity="0.27" stroke-width="0.5"/>
<line x1="727.38" x2="738.54" y1="418.20" y2="418.20" stroke="#6b6b6b" stroke-opacity="0.27" stroke-width="0.5"/>
<rect x="738.54" y="309.10" width="11.16" height="1.30" fill="#67AACF"/>
<rect x="738.54" y="310.40" width="11.16" height="2.80" fill="#8EDB88"/>
<rect x="738.54" y="313.20" width="11.16" height="93.40" fill="#E7C479"/>
<rect x="738.54" y="406.60" width="11.16" height="5.90" fill="#EEAD43"/>
<rect x="738.54" y="412.50" width="11.16" height="2.60" fill="#EC7945"/>
<rect x="738.54" y="415.10" width="11.16" height="4.50" fill="#F4321A"/>
<rect x="738.54" y="419.60" width="11.16" height="3.90" fill="#D4200B"/>
<rect x="738.54" y="309.10" width="11.16" height="114.40" fill="none" stroke="#6b6b6b" stroke-opacity="0.45" stroke-width="0.5"/>
<line x1="738.54" x2="749.70" y1="310.40" y2="310.40" stroke="#6b6b6b" stroke-opacity="0.27" stroke-width="0.5"/>
<line x1="738.54" x2="749.70" y1="313.20" y2="313.20" stroke="#6b6b6b" stroke-opacity="0.27" stroke-width="0.5"/>
<line x1="738.54" x2="749.70" y1="406.60" y2="406.60" stroke="#6b6b6b" stroke-opacity="0.27" stroke-width="0.5"/>
<line x1="738.54" x2="749.70" y1="412.50" y2="412.50" stroke="#6b6b6b" stroke-opacity="0.27" stroke-width="0.5"/>
<line x1="738.54" x2="749.70" y1="415.10" y2="415.10" stroke="#6b6b6b" stroke-opacity="0.27" stroke-width="0.5"/>
<line x1="738.54" x2="749.70" y1="419.60" y2="419.60" stroke="#6b6b6b" stroke-opacity="0.27" stroke-width="0.5"/>
<rect x="749.70" y="311.10" width="11.16" height="1.50" fill="#67AACF"/>
<rect x="749.70" y="312.60" width="11.16" height="5.00" fill="#8EDB88"/>
<rect x="749.70" y="317.60" width="11.16" height="7.40" fill="#B4E76C"/>
<rect x="749.70" y="325.00" width="11.16" height="93.90" fill="#E7C479"/>
<rect x="749.70" y="418.90" width="11.16" height="2.10" fill="#EC7945"/>
<rect x="749.70" y="421.00" width="11.16" height="2.50" fill="#D4200B"/>
<rect x="749.70" y="311.10" width="11.16" height="112.40" fill="none" stroke="#6b6b6b" stroke-opacity="0.45" stroke-width="0.5"/>
<line x1="749.70" x2="760.86" y1="312.60" y2="312.60" stroke="#6b6b6b" stroke-opacity="0.27" stroke-width="0.5"/>
<line x1="749.70" x2="760.86" y1="317.60" y2="317.60" stroke="#6b6b6b" stroke-opacity="0.27" stroke-width="0.5"/>
<line x1="749.70" x2="760.86" y1="325.00" y2="325.00" stroke="#6b6b6b" stroke-opacity="0.27" stroke-width="0.5"/>
<line x1="749.70" x2="760.86" y1="418.90" y2="418.90" stroke="#6b6b6b" stroke-opacity="0.27" stroke-width="0.5"/>
<line x1="749.70" x2="760.86" y1="421.00" y2="421.00" stroke="#6b6b6b" stroke-opacity="0.27" stroke-width="0.5"/>
<rect x="760.86" y="347.20" width="11.16" height="7.40" fill="#67AACF"/>
<rect x="760.86" y="354.60" width="11.16" height="2.10" fill="#8EDB88"/>
<rect x="760.86" y="356.70" width="11.16" height="7.80" fill="#E7C479"/>
<rect x="760.86" y="364.50" width="11.16" height="47.60" fill="#EEAD43"/>
<rect x="760.86" y="412.10" width="11.16" height="4.40" fill="#F4321A"/>
<rect x="760.86" y="416.50" width="11.16" height="7.00" fill="#D4200B"/>
<rect x="760.86" y="347.20" width="11.16" height="76.30" fill="none" stroke="#6b6b6b" stroke-opacity="0.45" stroke-width="0.5"/>
<line x1="760.86" x2="772.02" y1="354.60" y2="354.60" stroke="#6b6b6b" stroke-opacity="0.27" stroke-width="0.5"/>
<line x1="760.86" x2="772.02" y1="356.70" y2="356.70" stroke="#6b6b6b" stroke-opacity="0.27" stroke-width="0.5"/>
<line x1="760.86" x2="772.02" y1="364.50" y2="364.50" stroke="#6b6b6b" stroke-opacity="0.27" stroke-width="0.5"/>
<line x1="760.86" x2="772.02" y1="412.10" y2="412.10" stroke="#6b6b6b" stroke-opacity="0.27" stroke-width="0.5"/>
<line x1="760.86" x2="772.02" y1="416.50" y2="416.50" stroke="#6b6b6b" stroke-opacity="0.27" stroke-width="0.5"/>
<rect x="772.02" y="328.30" width="11.16" height="6.30" fill="#8EDB88"/>
<rect x="772.02" y="334.60" width="11.16" height="7.60" fill="#B4E76C"/>
<rect x="772.02" y="342.20" width="11.16" height="76.50" fill="#E7C479"/>
<rect x="772.02" y="418.70" width="11.16" height="1.60" fill="#EEAD43"/>
<rect x="772.02" y="420.30" width="11.16" height="3.20" fill="#D4200B"/>
<rect x="772.02" y="328.30" width="11.16" height="95.20" fill="none" stroke="#6b6b6b" stroke-opacity="0.45" stroke-width="0.5"/>
<line x1="772.02" x2="783.18" y1="334.60" y2="334.60" stroke="#6b6b6b" stroke-opacity="0.27" stroke-width="0.5"/>
<line x1="772.02" x2="783.18" y1="342.20" y2="342.20" stroke="#6b6b6b" stroke-opacity="0.27" stroke-width="0.5"/>
<line x1="772.02" x2="783.18" y1="418.70" y2="418.70" stroke="#6b6b6b" stroke-opacity="0.27" stroke-width="0.5"/>
<line x1="772.02" x2="783.18" y1="420.30" y2="420.30" stroke="#6b6b6b" stroke-opacity="0.27" stroke-width="0.5"/>
<rect x="783.18" y="349.80" width="11.16" height="3.80" fill="#67AACF"/>
<rect x="783.18" y="353.60" width="11.16" height="5.30" fill="#8EDB88"/>
<rect x="783.18" y="358.90" width="11.16" height="1.80" fill="#B4E76C"/>
<rect x="783.18" y="360.70" width="11.16" height="27.70" fill="#E7C479"/>
<rect x="783.18" y="388.40" width="11.16" height="32.40" fill="#EEAD43"/>
<rect x="783.18" y="420.80" width="11.16" height="2.70" fill="#F4321A"/>
<rect x="783.18" y="349.80" width="11.16" height="73.70" fill="none" stroke="#6b6b6b" stroke-opacity="0.45" stroke-width="0.5"/>
<line x1="783.18" x2="794.34" y1="353.60" y2="353.60" stroke="#6b6b6b" stroke-opacity="0.27" stroke-width="0.5"/>
<line x1="783.18" x2="794.34" y1="358.90" y2="358.90" stroke="#6b6b6b" stroke-opacity="0.27" stroke-width="0.5"/>
<line x1="783.18" x2="794.34" y1="360.70" y2="360.70" stroke="#6b6b6b" stroke-opacity="0.27" stroke-width="0.5"/>
<line x1="783.18" x2="794.34" y1="388.40" y2="388.40" stroke="#6b6b6b" stroke-opacity="0.27" stroke-width="0.5"/>
<line x1="783.18" x2="794.34" y1="420.80" y2="420.80" stroke="#6b6b6b" stroke-opacity="0.27" stroke-width="0.5"/>
<rect x="794.34" y="362.10" width="11.16" height="31.70" fill="#E7C479"/>
<rect x="794.34" y="393.80" width="11.16" height="14.80" fill="#EEAD43"/>
<rect x="794.34" y="408.60" width="11.16" height="8.20" fill="#F4321A"/>
<rect x="794.34" y="416.80" width="11.16" height="6.70" fill="#D4200B"/>
<rect x="794.34" y="362.10" width="11.16" height="61.40" fill="none" stroke="#6b6b6b" stroke-opacity="0.45" stroke-width="0.5"/>
<line x1="794.34" x2="805.50" y1="393.80" y2="393.80" stroke="#6b6b6b" stroke-opacity="0.27" stroke-width="0.5"/>
<line x1="794.34" x2="805.50" y1="408.60" y2="408.60" stroke="#6b6b6b" stroke-opacity="0.27" stroke-width="0.5"/>
<line x1="794.34" x2="805.50" y1="416.80" y2="416.80" stroke="#6b6b6b" stroke-opacity="0.27" stroke-width="0.5"/>
<line x1="693.90" y1="251.10" x2="693.90" y2="423.50" stroke="#333" stroke-width="1.0" stroke-linecap="square"/>
<line x1="693.90" y1="423.50" x2="805.50" y2="423.50" stroke="#3c3c3c" stroke-width="0.9" stroke-linecap="square"/>
<line x1="693.90" y1="251.10" x2="805.50" y2="251.10" stroke="#3c3c3c" stroke-width="0.9" stroke-linecap="square"/>
<line x1="805.50" y1="251.10" x2="805.50" y2="423.50" stroke="#3c3c3c" stroke-width="0.9" stroke-linecap="square"/>
<line x1="693.9" x2="697.6" y1="251.1" y2="251.1" stroke="#222" stroke-width="1"/>
<text x="689.9" y="256.4" text-anchor="end" font-size="16" font-family="'Liberation Sans', Arial, sans-serif" fill="#000">2,000</text>
<line x1="693.9" x2="697.6" y1="294.3" y2="294.3" stroke="#222" stroke-width="1"/>
<text x="689.9" y="299.6" text-anchor="end" font-size="16" font-family="'Liberation Sans', Arial, sans-serif" fill="#000">1,500</text>
<line x1="693.9" x2="697.6" y1="337.4" y2="337.4" stroke="#222" stroke-width="1"/>
<text x="689.9" y="342.7" text-anchor="end" font-size="16" font-family="'Liberation Sans', Arial, sans-serif" fill="#000">1,000</text>
<line x1="693.9" x2="697.6" y1="380.5" y2="380.5" stroke="#222" stroke-width="1"/>
<text x="689.9" y="385.8" text-anchor="end" font-size="16" font-family="'Liberation Sans', Arial, sans-serif" fill="#000">500</text>
<line x1="693.9" x2="697.6" y1="423.5" y2="423.5" stroke="#222" stroke-width="1"/>
<text x="689.9" y="428.8" text-anchor="end" font-size="16" font-family="'Liberation Sans', Arial, sans-serif" fill="#000">0</text>
<line x1="693.9" x2="696.1999999999999" y1="272.6" y2="272.6" stroke="#222" stroke-width="0.8"/>
<line x1="693.9" x2="696.1999999999999" y1="315.8" y2="315.8" stroke="#222" stroke-width="0.8"/>
<line x1="693.9" x2="696.1999999999999" y1="358.9" y2="358.9" stroke="#222" stroke-width="0.8"/>
<line x1="693.9" x2="696.1999999999999" y1="402.0" y2="402.0" stroke="#222" stroke-width="0.8"/>
<rect x="47.40" y="610.30" width="11.16" height="5.00" fill="#60A9CF"/>
<rect x="47.40" y="615.30" width="11.16" height="5.00" fill="#5EDAAF"/>
<rect x="47.40" y="620.30" width="11.16" height="1.40" fill="#E8C472"/>
<rect x="47.40" y="621.70" width="11.16" height="3.10" fill="#EEA93B"/>
<rect x="47.40" y="624.80" width="11.16" height="6.20" fill="#F5260B"/>
<rect x="47.40" y="610.30" width="11.16" height="20.70" fill="none" stroke="#6a6480" stroke-opacity="0.5" stroke-width="0.5"/>
<line x1="47.40" x2="58.56" y1="615.30" y2="615.30" stroke="#4f6f8f" stroke-opacity="0.75" stroke-width="0.5"/>
<line x1="47.40" x2="58.56" y1="620.30" y2="620.30" stroke="#4f6f8f" stroke-opacity="0.75" stroke-width="0.5"/>
<line x1="47.40" x2="58.56" y1="621.70" y2="621.70" stroke="#4f6f8f" stroke-opacity="0.75" stroke-width="0.5"/>
<line x1="47.40" x2="58.56" y1="624.80" y2="624.80" stroke="#4f6f8f" stroke-opacity="0.75" stroke-width="0.5"/>
<rect x="58.56" y="585.50" width="11.16" height="4.10" fill="#60A9CF"/>
<rect x="58.56" y="589.60" width="11.16" height="8.90" fill="#5EDAAF"/>
<rect x="58.56" y="598.50" width="11.16" height="5.00" fill="#B2E769"/>
<rect x="58.56" y="603.50" width="11.16" height="1.80" fill="#E8C472"/>
<rect x="58.56" y="605.30" width="11.16" height="22.10" fill="#EEA93B"/>
<rect x="58.56" y="627.40" width="11.16" height="1.60" fill="#EE8358"/>
<rect x="58.56" y="629.00" width="11.16" height="2.00" fill="#F5260B"/>
<rect x="58.56" y="585.50" width="11.16" height="45.50" fill="none" stroke="#6a6480" stroke-opacity="0.5" stroke-width="0.5"/>
<line x1="58.56" x2="69.72" y1="589.60" y2="589.60" stroke="#4f6f8f" stroke-opacity="0.75" stroke-width="0.5"/>
<line x1="58.56" x2="69.72" y1="598.50" y2="598.50" stroke="#4f6f8f" stroke-opacity="0.75" stroke-width="0.5"/>
<line x1="58.56" x2="69.72" y1="603.50" y2="603.50" stroke="#4f6f8f" stroke-opacity="0.75" stroke-width="0.5"/>
<line x1="58.56" x2="69.72" y1="605.30" y2="605.30" stroke="#4f6f8f" stroke-opacity="0.75" stroke-width="0.5"/>
<line x1="58.56" x2="69.72" y1="627.40" y2="627.40" stroke="#4f6f8f" stroke-opacity="0.75" stroke-width="0.5"/>
<line x1="58.56" x2="69.72" y1="629.00" y2="629.00" stroke="#4f6f8f" stroke-opacity="0.75" stroke-width="0.5"/>
<rect x="69.72" y="530.30" width="11.16" height="3.10" fill="#60A9CF"/>
<rect x="69.72" y="533.40" width="11.16" height="14.00" fill="#5EDAAF"/>
<rect x="69.72" y="547.40" width="11.16" height="2.10" fill="#8DDB85"/>
<rect x="69.72" y="549.50" width="11.16" height="16.40" fill="#B2E769"/>
<rect x="69.72" y="565.90" width="11.16" height="1.80" fill="#E8C472"/>
<rect x="69.72" y="567.70" width="11.16" height="58.10" fill="#EEA93B"/>
<rect x="69.72" y="625.80" width="11.16" height="5.20" fill="#F5260B"/>
<rect x="69.72" y="530.30" width="11.16" height="100.70" fill="none" stroke="#6a6480" stroke-opacity="0.5" stroke-width="0.5"/>
<line x1="69.72" x2="80.88" y1="533.40" y2="533.40" stroke="#4f6f8f" stroke-opacity="0.75" stroke-width="0.5"/>
<line x1="69.72" x2="80.88" y1="547.40" y2="547.40" stroke="#4f6f8f" stroke-opacity="0.75" stroke-width="0.5"/>
<line x1="69.72" x2="80.88" y1="549.50" y2="549.50" stroke="#4f6f8f" stroke-opacity="0.75" stroke-width="0.5"/>
<line x1="69.72" x2="80.88" y1="565.90" y2="565.90" stroke="#4f6f8f" stroke-opacity="0.75" stroke-width="0.5"/>
<line x1="69.72" x2="80.88" y1="567.70" y2="567.70" stroke="#4f6f8f" stroke-opacity="0.75" stroke-width="0.5"/>
<line x1="69.72" x2="80.88" y1="625.80" y2="625.80" stroke="#4f6f8f" stroke-opacity="0.75" stroke-width="0.5"/>
<rect x="80.88" y="480.40" width="11.16" height="5.10" fill="#60A9CF"/>
<rect x="80.88" y="485.50" width="11.16" height="19.10" fill="#5EDAAF"/>
<rect x="80.88" y="504.60" width="11.16" height="3.20" fill="#8DDB85"/>
<rect x="80.88" y="507.80" width="11.16" height="21.80" fill="#B2E769"/>
<rect x="80.88" y="529.60" width="11.16" height="2.10" fill="#E8C472"/>
<rect x="80.88" y="531.70" width="11.16" height="92.80" fill="#EEA93B"/>
<rect x="80.88" y="624.50" width="11.16" height="6.50" fill="#F5260B"/>
<rect x="80.88" y="480.40" width="11.16" height="150.60" fill="none" stroke="#6a6480" stroke-opacity="0.5" stroke-width="0.5"/>
<line x1="80.88" x2="92.04" y1="485.50" y2="485.50" stroke="#4f6f8f" stroke-opacity="0.75" stroke-width="0.5"/>
<line x1="80.88" x2="92.04" y1="504.60" y2="504.60" stroke="#4f6f8f" stroke-opacity="0.75" stroke-width="0.5"/>
<line x1="80.88" x2="92.04" y1="507.80" y2="507.80" stroke="#4f6f8f" stroke-opacity="0.75" stroke-width="0.5"/>
<line x1="80.88" x2="92.04" y1="529.60" y2="529.60" stroke="#4f6f8f" stroke-opacity="0.75" stroke-width="0.5"/>
<line x1="80.88" x2="92.04" y1="531.70" y2="531.70" stroke="#4f6f8f" stroke-opacity="0.75" stroke-width="0.5"/>
<line x1="80.88" x2="92.04" y1="624.50" y2="624.50" stroke="#4f6f8f" stroke-opacity="0.75" stroke-width="0.5"/>
<rect x="92.04" y="556.30" width="11.16" height="6.30" fill="#60A9CF"/>
<rect x="92.04" y="562.60" width="11.16" height="9.90" fill="#5EDAAF"/>
<rect x="92.04" y="572.50" width="11.16" height="4.70" fill="#8DDB85"/>
<rect x="92.04" y="577.20" width="11.16" height="19.20" fill="#B2E769"/>
<rect x="92.04" y="596.40" width="11.16" height="7.10" fill="#E8C472"/>
<rect x="92.04" y="603.50" width="11.16" height="24.90" fill="#EEA93B"/>
<rect x="92.04" y="628.40" width="11.16" height="2.60" fill="#EE8358"/>
<rect x="92.04" y="556.30" width="11.16" height="74.70" fill="none" stroke="#6a6480" stroke-opacity="0.5" stroke-width="0.5"/>
<line x1="92.04" x2="103.20" y1="562.60" y2="562.60" stroke="#4f6f8f" stroke-opacity="0.75" stroke-width="0.5"/>
<line x1="92.04" x2="103.20" y1="572.50" y2="572.50" stroke="#4f6f8f" stroke-opacity="0.75" stroke-width="0.5"/>
<line x1="92.04" x2="103.20" y1="577.20" y2="577.20" stroke="#4f6f8f" stroke-opacity="0.75" stroke-width="0.5"/>
<line x1="92.04" x2="103.20" y1="596.40" y2="596.40" stroke="#4f6f8f" stroke-opacity="0.75" stroke-width="0.5"/>
<line x1="92.04" x2="103.20" y1="603.50" y2="603.50" stroke="#4f6f8f" stroke-opacity="0.75" stroke-width="0.5"/>
<line x1="92.04" x2="103.20" y1="628.40" y2="628.40" stroke="#4f6f8f" stroke-opacity="0.75" stroke-width="0.5"/>
<rect x="103.20" y="550.20" width="11.16" height="9.30" fill="#60A9CF"/>
<rect x="103.20" y="559.50" width="11.16" height="14.20" fill="#5EDAAF"/>
<rect x="103.20" y="573.70" width="11.16" height="10.60" fill="#8DDB85"/>
<rect x="103.20" y="584.30" width="11.16" height="24.60" fill="#B2E769"/>
<rect x="103.20" y="608.90" width="11.16" height="20.50" fill="#EEA93B"/>
<rect x="103.20" y="629.40" width="11.16" height="1.60" fill="#F5260B"/>
<rect x="103.20" y="550.20" width="11.16" height="80.80" fill="none" stroke="#6a6480" stroke-opacity="0.5" stroke-width="0.5"/>
<line x1="103.20" x2="114.36" y1="559.50" y2="559.50" stroke="#4f6f8f" stroke-opacity="0.75" stroke-width="0.5"/>
<line x1="103.20" x2="114.36" y1="573.70" y2="573.70" stroke="#4f6f8f" stroke-opacity="0.75" stroke-width="0.5"/>
<line x1="103.20" x2="114.36" y1="584.30" y2="584.30" stroke="#4f6f8f" stroke-opacity="0.75" stroke-width="0.5"/>
<line x1="103.20" x2="114.36" y1="608.90" y2="608.90" stroke="#4f6f8f" stroke-opacity="0.75" stroke-width="0.5"/>
<line x1="103.20" x2="114.36" y1="629.40" y2="629.40" stroke="#4f6f8f" stroke-opacity="0.75" stroke-width="0.5"/>
<rect x="114.36" y="578.60" width="11.16" height="7.90" fill="#60A9CF"/>
<rect x="114.36" y="586.50" width="11.16" height="17.40" fill="#5EDAAF"/>
<rect x="114.36" y="603.90" width="11.16" height="10.70" fill="#8DDB85"/>
<rect x="114.36" y="614.60" width="11.16" height="3.80" fill="#B2E769"/>
<rect x="114.36" y="618.40" width="11.16" height="9.50" fill="#EEA93B"/>
<rect x="114.36" y="627.90" width="11.16" height="3.10" fill="#EE8358"/>
<rect x="114.36" y="578.60" width="11.16" height="52.40" fill="none" stroke="#6a6480" stroke-opacity="0.5" stroke-width="0.5"/>
<line x1="114.36" x2="125.52" y1="586.50" y2="586.50" stroke="#4f6f8f" stroke-opacity="0.75" stroke-width="0.5"/>
<line x1="114.36" x2="125.52" y1="603.90" y2="603.90" stroke="#4f6f8f" stroke-opacity="0.75" stroke-width="0.5"/>
<line x1="114.36" x2="125.52" y1="614.60" y2="614.60" stroke="#4f6f8f" stroke-opacity="0.75" stroke-width="0.5"/>
<line x1="114.36" x2="125.52" y1="618.40" y2="618.40" stroke="#4f6f8f" stroke-opacity="0.75" stroke-width="0.5"/>
<line x1="114.36" x2="125.52" y1="627.90" y2="627.90" stroke="#4f6f8f" stroke-opacity="0.75" stroke-width="0.5"/>
<rect x="125.52" y="575.10" width="11.16" height="6.80" fill="#60A9CF"/>
<rect x="125.52" y="581.90" width="11.16" height="11.70" fill="#5EDAAF"/>
<rect x="125.52" y="593.60" width="11.16" height="5.90" fill="#8DDB85"/>
<rect x="125.52" y="599.50" width="11.16" height="17.10" fill="#B2E769"/>
<rect x="125.52" y="616.60" width="11.16" height="1.80" fill="#E8C472"/>
<rect x="125.52" y="618.40" width="11.16" height="11.00" fill="#EEA93B"/>
<rect x="125.52" y="629.40" width="11.16" height="1.60" fill="#F5260B"/>
<rect x="125.52" y="575.10" width="11.16" height="55.90" fill="none" stroke="#6a6480" stroke-opacity="0.5" stroke-width="0.5"/>
<line x1="125.52" x2="136.68" y1="581.90" y2="581.90" stroke="#4f6f8f" stroke-opacity="0.75" stroke-width="0.5"/>
<line x1="125.52" x2="136.68" y1="593.60" y2="593.60" stroke="#4f6f8f" stroke-opacity="0.75" stroke-width="0.5"/>
<line x1="125.52" x2="136.68" y1="599.50" y2="599.50" stroke="#4f6f8f" stroke-opacity="0.75" stroke-width="0.5"/>
<line x1="125.52" x2="136.68" y1="616.60" y2="616.60" stroke="#4f6f8f" stroke-opacity="0.75" stroke-width="0.5"/>
<line x1="125.52" x2="136.68" y1="618.40" y2="618.40" stroke="#4f6f8f" stroke-opacity="0.75" stroke-width="0.5"/>
<line x1="125.52" x2="136.68" y1="629.40" y2="629.40" stroke="#4f6f8f" stroke-opacity="0.75" stroke-width="0.5"/>
<rect x="136.68" y="600.70" width="11.16" height="7.80" fill="#60A9CF"/>
<rect x="136.68" y="608.50" width="11.16" height="7.10" fill="#5EDAAF"/>
<rect x="136.68" y="615.60" width="11.16" height="5.90" fill="#B2E769"/>
<rect x="136.68" y="621.50" width="11.16" height="3.60" fill="#EEA93B"/>
<rect x="136.68" y="625.10" width="11.16" height="2.80" fill="#EE8358"/>
<rect x="136.68" y="627.90" width="11.16" height="3.10" fill="#F5260B"/>
<rect x="136.68" y="600.70" width="11.16" height="30.30" fill="none" stroke="#6a6480" stroke-opacity="0.5" stroke-width="0.5"/>
<line x1="136.68" x2="147.84" y1="608.50" y2="608.50" stroke="#4f6f8f" stroke-opacity="0.75" stroke-width="0.5"/>
<line x1="136.68" x2="147.84" y1="615.60" y2="615.60" stroke="#4f6f8f" stroke-opacity="0.75" stroke-width="0.5"/>
<line x1="136.68" x2="147.84" y1="621.50" y2="621.50" stroke="#4f6f8f" stroke-opacity="0.75" stroke-width="0.5"/>
<line x1="136.68" x2="147.84" y1="625.10" y2="625.10" stroke="#4f6f8f" stroke-opacity="0.75" stroke-width="0.5"/>
<line x1="136.68" x2="147.84" y1="627.90" y2="627.90" stroke="#4f6f8f" stroke-opacity="0.75" stroke-width="0.5"/>
<rect x="147.84" y="628.40" width="11.16" height="0.50" fill="#60A9CF"/>
<rect x="147.84" y="628.90" width="11.16" height="2.10" fill="#EEA93B"/>
<rect x="147.84" y="628.40" width="11.16" height="2.60" fill="none" stroke="#6a6480" stroke-opacity="0.5" stroke-width="0.5"/>
<line x1="147.84" x2="159.00" y1="628.90" y2="628.90" stroke="#4f6f8f" stroke-opacity="0.75" stroke-width="0.5"/>
<line x1="47.40" y1="458.60" x2="47.40" y2="631.00" stroke="#333" stroke-width="1.0" stroke-linecap="square"/>
<line x1="47.40" y1="631.00" x2="159.00" y2="631.00" stroke="#3c3c3c" stroke-width="0.9" stroke-linecap="square"/>
<line x1="47.40" y1="458.60" x2="159.00" y2="458.60" stroke="#3c3c3c" stroke-width="0.9" stroke-linecap="square"/>
<line x1="159.00" y1="458.60" x2="159.00" y2="631.00" stroke="#3c3c3c" stroke-width="0.9" stroke-linecap="square"/>
<line x1="43.699999999999996" x2="47.4" y1="458.6" y2="458.6" stroke="#222" stroke-width="1"/>
<text x="42.0" y="463.9" text-anchor="end" font-size="16" font-family="'Liberation Sans', Arial, sans-serif" fill="#000">480</text>
<line x1="43.699999999999996" x2="47.4" y1="501.5" y2="501.5" stroke="#222" stroke-width="1"/>
<text x="42.0" y="506.8" text-anchor="end" font-size="16" font-family="'Liberation Sans', Arial, sans-serif" fill="#000">360</text>
<line x1="43.699999999999996" x2="47.4" y1="544.7" y2="544.7" stroke="#222" stroke-width="1"/>
<text x="42.0" y="550.0" text-anchor="end" font-size="16" font-family="'Liberation Sans', Arial, sans-serif" fill="#000">240</text>
<line x1="43.699999999999996" x2="47.4" y1="587.9" y2="587.9" stroke="#222" stroke-width="1"/>
<text x="42.0" y="593.2" text-anchor="end" font-size="16" font-family="'Liberation Sans', Arial, sans-serif" fill="#000">120</text>
<line x1="43.699999999999996" x2="47.4" y1="631.0" y2="631.0" stroke="#222" stroke-width="1"/>
<text x="42.0" y="636.3" text-anchor="end" font-size="16" font-family="'Liberation Sans', Arial, sans-serif" fill="#000">0</text>
<line x1="45.1" x2="47.4" y1="480.1" y2="480.1" stroke="#222" stroke-width="0.8"/>
<line x1="45.1" x2="47.4" y1="523.0" y2="523.0" stroke="#222" stroke-width="0.8"/>
<line x1="45.1" x2="47.4" y1="566.3" y2="566.3" stroke="#222" stroke-width="0.8"/>
<line x1="45.1" x2="47.4" y1="609.5" y2="609.5" stroke="#222" stroke-width="0.8"/>
<rect x="208.80" y="588.30" width="11.16" height="2.20" fill="#60A9CF"/>
<rect x="208.80" y="590.50" width="11.16" height="18.00" fill="#B2E769"/>
<rect x="208.80" y="608.50" width="11.16" height="22.20" fill="#EEA93B"/>
<rect x="208.80" y="630.70" width="11.16" height="3.30" fill="#F5260B"/>
<rect x="208.80" y="588.30" width="11.16" height="45.70" fill="none" stroke="#6a6480" stroke-opacity="0.5" stroke-width="0.5"/>
<line x1="208.80" x2="219.96" y1="590.50" y2="590.50" stroke="#4f6f8f" stroke-opacity="0.75" stroke-width="0.5"/>
<line x1="208.80" x2="219.96" y1="608.50" y2="608.50" stroke="#4f6f8f" stroke-opacity="0.75" stroke-width="0.5"/>
<line x1="208.80" x2="219.96" y1="630.70" y2="630.70" stroke="#4f6f8f" stroke-opacity="0.75" stroke-width="0.5"/>
<rect x="219.96" y="555.90" width="11.16" height="5.40" fill="#60A9CF"/>
<rect x="219.96" y="561.30" width="11.16" height="26.60" fill="#B2E769"/>
<rect x="219.96" y="587.90" width="11.16" height="41.30" fill="#EEA93B"/>
<rect x="219.96" y="629.20" width="11.16" height="4.80" fill="#EE8358"/>
<rect x="219.96" y="555.90" width="11.16" height="78.10" fill="none" stroke="#6a6480" stroke-opacity="0.5" stroke-width="0.5"/>
<line x1="219.96" x2="231.12" y1="561.30" y2="561.30" stroke="#4f6f8f" stroke-opacity="0.75" stroke-width="0.5"/>
<line x1="219.96" x2="231.12" y1="587.90" y2="587.90" stroke="#4f6f8f" stroke-opacity="0.75" stroke-width="0.5"/>
<line x1="219.96" x2="231.12" y1="629.20" y2="629.20" stroke="#4f6f8f" stroke-opacity="0.75" stroke-width="0.5"/>
<rect x="231.12" y="507.10" width="11.16" height="17.80" fill="#60A9CF"/>
<rect x="231.12" y="524.90" width="11.16" height="36.70" fill="#B2E769"/>
<rect x="231.12" y="561.60" width="11.16" height="1.70" fill="#E8C472"/>
<rect x="231.12" y="563.30" width="11.16" height="60.80" fill="#EEA93B"/>
<rect x="231.12" y="624.10" width="11.16" height="9.90" fill="#F5260B"/>
<rect x="231.12" y="507.10" width="11.16" height="126.90" fill="none" stroke="#6a6480" stroke-opacity="0.5" stroke-width="0.5"/>
<line x1="231.12" x2="242.28" y1="524.90" y2="524.90" stroke="#4f6f8f" stroke-opacity="0.75" stroke-width="0.5"/>
<line x1="231.12" x2="242.28" y1="561.60" y2="561.60" stroke="#4f6f8f" stroke-opacity="0.75" stroke-width="0.5"/>
<line x1="231.12" x2="242.28" y1="563.30" y2="563.30" stroke="#4f6f8f" stroke-opacity="0.75" stroke-width="0.5"/>
<line x1="231.12" x2="242.28" y1="624.10" y2="624.10" stroke="#4f6f8f" stroke-opacity="0.75" stroke-width="0.5"/>
<rect x="242.28" y="477.30" width="11.16" height="7.10" fill="#60A9CF"/>
<rect x="242.28" y="484.40" width="11.16" height="2.90" fill="#B2E769"/>
<rect x="242.28" y="487.30" width="11.16" height="5.30" fill="#E8C472"/>
<rect x="242.28" y="492.60" width="11.16" height="124.10" fill="#EEA93B"/>
<rect x="242.28" y="616.70" width="11.16" height="17.30" fill="#F5260B"/>
<rect x="242.28" y="477.30" width="11.16" height="156.70" fill="none" stroke="#6a6480" stroke-opacity="0.5" stroke-width="0.5"/>
<line x1="242.28" x2="253.44" y1="484.40" y2="484.40" stroke="#4f6f8f" stroke-opacity="0.75" stroke-width="0.5"/>
<line x1="242.28" x2="253.44" y1="487.30" y2="487.30" stroke="#4f6f8f" stroke-opacity="0.75" stroke-width="0.5"/>
<line x1="242.28" x2="253.44" y1="492.60" y2="492.60" stroke="#4f6f8f" stroke-opacity="0.75" stroke-width="0.5"/>
<line x1="242.28" x2="253.44" y1="616.70" y2="616.70" stroke="#4f6f8f" stroke-opacity="0.75" stroke-width="0.5"/>
<rect x="253.44" y="564.40" width="11.16" height="27.00" fill="#60A9CF"/>
<rect x="253.44" y="591.40" width="11.16" height="1.20" fill="#B2E769"/>
<rect x="253.44" y="592.60" width="11.16" height="3.10" fill="#E8C472"/>
<rect x="253.44" y="595.70" width="11.16" height="34.10" fill="#EEA93B"/>
<rect x="253.44" y="629.80" width="11.16" height="4.20" fill="#F5260B"/>
<rect x="253.44" y="564.40" width="11.16" height="69.60" fill="none" stroke="#6a6480" stroke-opacity="0.5" stroke-width="0.5"/>
<line x1="253.44" x2="264.60" y1="591.40" y2="591.40" stroke="#4f6f8f" stroke-opacity="0.75" stroke-width="0.5"/>
<line x1="253.44" x2="264.60" y1="592.60" y2="592.60" stroke="#4f6f8f" stroke-opacity="0.75" stroke-width="0.5"/>
<line x1="253.44" x2="264.60" y1="595.70" y2="595.70" stroke="#4f6f8f" stroke-opacity="0.75" stroke-width="0.5"/>
<line x1="253.44" x2="264.60" y1="629.80" y2="629.80" stroke="#4f6f8f" stroke-opacity="0.75" stroke-width="0.5"/>
<rect x="264.60" y="560.20" width="11.16" height="29.50" fill="#60A9CF"/>
<rect x="264.60" y="589.70" width="11.16" height="2.40" fill="#8DDB85"/>
<rect x="264.60" y="592.10" width="11.16" height="6.10" fill="#B2E769"/>
<rect x="264.60" y="598.20" width="11.16" height="4.30" fill="#E8C472"/>
<rect x="264.60" y="602.50" width="11.16" height="24.40" fill="#EEA93B"/>
<rect x="264.60" y="626.90" width="11.16" height="4.30" fill="#EE8358"/>
<rect x="264.60" y="631.20" width="11.16" height="2.80" fill="#F5260B"/>
<rect x="264.60" y="560.20" width="11.16" height="73.80" fill="none" stroke="#6a6480" stroke-opacity="0.5" stroke-width="0.5"/>
<line x1="264.60" x2="275.76" y1="589.70" y2="589.70" stroke="#4f6f8f" stroke-opacity="0.75" stroke-width="0.5"/>
<line x1="264.60" x2="275.76" y1="592.10" y2="592.10" stroke="#4f6f8f" stroke-opacity="0.75" stroke-width="0.5"/>
<line x1="264.60" x2="275.76" y1="598.20" y2="598.20" stroke="#4f6f8f" stroke-opacity="0.75" stroke-width="0.5"/>
<line x1="264.60" x2="275.76" y1="602.50" y2="602.50" stroke="#4f6f8f" stroke-opacity="0.75" stroke-width="0.5"/>
<line x1="264.60" x2="275.76" y1="626.90" y2="626.90" stroke="#4f6f8f" stroke-opacity="0.75" stroke-width="0.5"/>
<line x1="264.60" x2="275.76" y1="631.20" y2="631.20" stroke="#4f6f8f" stroke-opacity="0.75" stroke-width="0.5"/>
<rect x="275.76" y="580.30" width="11.16" height="20.60" fill="#60A9CF"/>
<rect x="275.76" y="600.90" width="11.16" height="2.60" fill="#8DDB85"/>
<rect x="275.76" y="603.50" width="11.16" height="1.70" fill="#B2E769"/>
<rect x="275.76" y="605.20" width="11.16" height="5.40" fill="#E8C472"/>
<rect x="275.76" y="610.60" width="11.16" height="19.90" fill="#EEA93B"/>
<rect x="275.76" y="630.50" width="11.16" height="3.50" fill="#F5260B"/>
<rect x="275.76" y="580.30" width="11.16" height="53.70" fill="none" stroke="#6a6480" stroke-opacity="0.5" stroke-width="0.5"/>
<line x1="275.76" x2="286.92" y1="600.90" y2="600.90" stroke="#4f6f8f" stroke-opacity="0.75" stroke-width="0.5"/>
<line x1="275.76" x2="286.92" y1="603.50" y2="603.50" stroke="#4f6f8f" stroke-opacity="0.75" stroke-width="0.5"/>
<line x1="275.76" x2="286.92" y1="605.20" y2="605.20" stroke="#4f6f8f" stroke-opacity="0.75" stroke-width="0.5"/>
<line x1="275.76" x2="286.92" y1="610.60" y2="610.60" stroke="#4f6f8f" stroke-opacity="0.75" stroke-width="0.5"/>
<line x1="275.76" x2="286.92" y1="630.50" y2="630.50" stroke="#4f6f8f" stroke-opacity="0.75" stroke-width="0.5"/>
<rect x="286.92" y="595.30" width="11.16" height="12.50" fill="#60A9CF"/>
<rect x="286.92" y="607.80" width="11.16" height="2.50" fill="#8DDB85"/>
<rect x="286.92" y="610.30" width="11.16" height="6.00" fill="#E8C472"/>
<rect x="286.92" y="616.30" width="11.16" height="10.60" fill="#EEA93B"/>
<rect x="286.92" y="626.90" width="11.16" height="7.10" fill="#F5260B"/>
<rect x="286.92" y="595.30" width="11.16" height="38.70" fill="none" stroke="#6a6480" stroke-opacity="0.5" stroke-width="0.5"/>
<line x1="286.92" x2="298.08" y1="607.80" y2="607.80" stroke="#4f6f8f" stroke-opacity="0.75" stroke-width="0.5"/>
<line x1="286.92" x2="298.08" y1="610.30" y2="610.30" stroke="#4f6f8f" stroke-opacity="0.75" stroke-width="0.5"/>
<line x1="286.92" x2="298.08" y1="616.30" y2="616.30" stroke="#4f6f8f" stroke-opacity="0.75" stroke-width="0.5"/>
<line x1="286.92" x2="298.08" y1="626.90" y2="626.90" stroke="#4f6f8f" stroke-opacity="0.75" stroke-width="0.5"/>
<rect x="298.08" y="609.20" width="11.16" height="4.20" fill="#60A9CF"/>
<rect x="298.08" y="613.40" width="11.16" height="4.30" fill="#E8C472"/>
<rect x="298.08" y="617.70" width="11.16" height="14.60" fill="#EEA93B"/>
<rect x="298.08" y="632.30" width="11.16" height="1.70" fill="#EE8358"/>
<rect x="298.08" y="609.20" width="11.16" height="24.80" fill="none" stroke="#6a6480" stroke-opacity="0.5" stroke-width="0.5"/>
<line x1="298.08" x2="309.24" y1="613.40" y2="613.40" stroke="#4f6f8f" stroke-opacity="0.75" stroke-width="0.5"/>
<line x1="298.08" x2="309.24" y1="617.70" y2="617.70" stroke="#4f6f8f" stroke-opacity="0.75" stroke-width="0.5"/>
<line x1="298.08" x2="309.24" y1="632.30" y2="632.30" stroke="#4f6f8f" stroke-opacity="0.75" stroke-width="0.5"/>
<rect x="309.24" y="627.20" width="11.16" height="1.90" fill="#E8C472"/>
<rect x="309.24" y="629.10" width="11.16" height="4.90" fill="#EEA93B"/>
<rect x="309.24" y="627.20" width="11.16" height="6.80" fill="none" stroke="#6a6480" stroke-opacity="0.5" stroke-width="0.5"/>
<line x1="309.24" x2="320.40" y1="629.10" y2="629.10" stroke="#4f6f8f" stroke-opacity="0.75" stroke-width="0.5"/>
<line x1="208.80" y1="461.40" x2="208.80" y2="634.00" stroke="#777" stroke-width="1.3" stroke-linecap="square"/>
<line x1="208.80" y1="634.00" x2="320.40" y2="634.00" stroke="#000" stroke-width="1.3" stroke-linecap="square"/>
<line x1="208.80" y1="461.40" x2="320.40" y2="461.40" stroke="#000" stroke-width="1.3" stroke-linecap="square"/>
<line x1="320.40" y1="461.40" x2="320.40" y2="634.00" stroke="#000" stroke-width="1.3" stroke-linecap="square"/>
<line x1="205.10000000000002" x2="208.8" y1="461.4" y2="461.4" stroke="#222" stroke-width="1"/>
<text x="203.4" y="466.7" text-anchor="end" font-size="15.3" font-family="'Liberation Sans', Arial, sans-serif" fill="#000">180</text>
<line x1="205.10000000000002" x2="208.8" y1="504.2" y2="504.2" stroke="#222" stroke-width="1"/>
<text x="203.4" y="509.5" text-anchor="end" font-size="15.3" font-family="'Liberation Sans', Arial, sans-serif" fill="#000">135</text>
<line x1="205.10000000000002" x2="208.8" y1="547.4" y2="547.4" stroke="#222" stroke-width="1"/>
<text x="203.4" y="552.7" text-anchor="end" font-size="15.3" font-family="'Liberation Sans', Arial, sans-serif" fill="#000">90</text>
<line x1="205.10000000000002" x2="208.8" y1="590.7" y2="590.7" stroke="#222" stroke-width="1"/>
<text x="203.4" y="596.0" text-anchor="end" font-size="15.3" font-family="'Liberation Sans', Arial, sans-serif" fill="#000">45</text>
<line x1="205.10000000000002" x2="208.8" y1="634.0" y2="634.0" stroke="#222" stroke-width="1"/>
<text x="203.4" y="639.3" text-anchor="end" font-size="15.3" font-family="'Liberation Sans', Arial, sans-serif" fill="#000">0</text>
<line x1="206.5" x2="208.8" y1="482.6" y2="482.6" stroke="#222" stroke-width="0.8"/>
<line x1="206.5" x2="208.8" y1="525.8" y2="525.8" stroke="#222" stroke-width="0.8"/>
<line x1="206.5" x2="208.8" y1="569.0" y2="569.0" stroke="#222" stroke-width="0.8"/>
<line x1="206.5" x2="208.8" y1="612.4" y2="612.4" stroke="#222" stroke-width="0.8"/>
<rect x="370.70" y="619.40" width="11.16" height="1.40" fill="#60A9CF"/>
<rect x="370.70" y="620.80" width="11.16" height="2.90" fill="#E8C472"/>
<rect x="370.70" y="623.70" width="11.16" height="3.20" fill="#EEA93B"/>
<rect x="370.70" y="626.90" width="11.16" height="4.10" fill="#F5260B"/>
<rect x="370.70" y="619.40" width="11.16" height="11.60" fill="none" stroke="#6a6480" stroke-opacity="0.5" stroke-width="0.5"/>
<line x1="370.70" x2="381.86" y1="620.80" y2="620.80" stroke="#4f6f8f" stroke-opacity="0.75" stroke-width="0.5"/>
<line x1="370.70" x2="381.86" y1="623.70" y2="623.70" stroke="#4f6f8f" stroke-opacity="0.75" stroke-width="0.5"/>
<line x1="370.70" x2="381.86" y1="626.90" y2="626.90" stroke="#4f6f8f" stroke-opacity="0.75" stroke-width="0.5"/>
<rect x="381.86" y="590.40" width="11.16" height="2.40" fill="#60A9CF"/>
<rect x="381.86" y="592.80" width="11.16" height="4.60" fill="#B2E769"/>
<rect x="381.86" y="597.40" width="11.16" height="6.10" fill="#E8C472"/>
<rect x="381.86" y="603.50" width="11.16" height="21.00" fill="#EEA93B"/>
<rect x="381.86" y="624.50" width="11.16" height="6.50" fill="#F5260B"/>
<rect x="381.86" y="590.40" width="11.16" height="40.60" fill="none" stroke="#6a6480" stroke-opacity="0.5" stroke-width="0.5"/>
<line x1="381.86" x2="393.02" y1="592.80" y2="592.80" stroke="#4f6f8f" stroke-opacity="0.75" stroke-width="0.5"/>
<line x1="381.86" x2="393.02" y1="597.40" y2="597.40" stroke="#4f6f8f" stroke-opacity="0.75" stroke-width="0.5"/>
<line x1="381.86" x2="393.02" y1="603.50" y2="603.50" stroke="#4f6f8f" stroke-opacity="0.75" stroke-width="0.5"/>
<line x1="381.86" x2="393.02" y1="624.50" y2="624.50" stroke="#4f6f8f" stroke-opacity="0.75" stroke-width="0.5"/>
<rect x="393.02" y="543.60" width="11.16" height="3.40" fill="#60A9CF"/>
<rect x="393.02" y="547.00" width="11.16" height="2.80" fill="#B2E769"/>
<rect x="393.02" y="549.80" width="11.16" height="9.70" fill="#E8C472"/>
<rect x="393.02" y="559.50" width="11.16" height="66.30" fill="#EEA93B"/>
<rect x="393.02" y="625.80" width="11.16" height="5.20" fill="#F5260B"/>
<rect x="393.02" y="543.60" width="11.16" height="87.40" fill="none" stroke="#6a6480" stroke-opacity="0.5" stroke-width="0.5"/>
<line x1="393.02" x2="404.18" y1="547.00" y2="547.00" stroke="#4f6f8f" stroke-opacity="0.75" stroke-width="0.5"/>
<line x1="393.02" x2="404.18" y1="549.80" y2="549.80" stroke="#4f6f8f" stroke-opacity="0.75" stroke-width="0.5"/>
<line x1="393.02" x2="404.18" y1="559.50" y2="559.50" stroke="#4f6f8f" stroke-opacity="0.75" stroke-width="0.5"/>
<line x1="393.02" x2="404.18" y1="625.80" y2="625.80" stroke="#4f6f8f" stroke-opacity="0.75" stroke-width="0.5"/>
<rect x="404.18" y="471.30" width="11.16" height="3.20" fill="#60A9CF"/>
<rect x="404.18" y="474.50" width="11.16" height="7.80" fill="#B2E769"/>
<rect x="404.18" y="482.30" width="11.16" height="17.00" fill="#E8C472"/>
<rect x="404.18" y="499.30" width="11.16" height="119.40" fill="#EEA93B"/>
<rect x="404.18" y="618.70" width="11.16" height="12.30" fill="#F5260B"/>
<rect x="404.18" y="471.30" width="11.16" height="159.70" fill="none" stroke="#6a6480" stroke-opacity="0.5" stroke-width="0.5"/>
<line x1="404.18" x2="415.34" y1="474.50" y2="474.50" stroke="#4f6f8f" stroke-opacity="0.75" stroke-width="0.5"/>
<line x1="404.18" x2="415.34" y1="482.30" y2="482.30" stroke="#4f6f8f" stroke-opacity="0.75" stroke-width="0.5"/>
<line x1="404.18" x2="415.34" y1="499.30" y2="499.30" stroke="#4f6f8f" stroke-opacity="0.75" stroke-width="0.5"/>
<line x1="404.18" x2="415.34" y1="618.70" y2="618.70" stroke="#4f6f8f" stroke-opacity="0.75" stroke-width="0.5"/>
<rect x="415.34" y="501.90" width="11.16" height="3.80" fill="#60A9CF"/>
<rect x="415.34" y="505.70" width="11.16" height="10.00" fill="#B2E769"/>
<rect x="415.34" y="515.70" width="11.16" height="10.60" fill="#E8C472"/>
<rect x="415.34" y="526.30" width="11.16" height="76.10" fill="#EEA93B"/>
<rect x="415.34" y="602.40" width="11.16" height="5.40" fill="#EE8358"/>
<rect x="415.34" y="607.80" width="11.16" height="23.20" fill="#F5260B"/>
<rect x="415.34" y="501.90" width="11.16" height="129.10" fill="none" stroke="#6a6480" stroke-opacity="0.5" stroke-width="0.5"/>
<line x1="415.34" x2="426.50" y1="505.70" y2="505.70" stroke="#4f6f8f" stroke-opacity="0.75" stroke-width="0.5"/>
<line x1="415.34" x2="426.50" y1="515.70" y2="515.70" stroke="#4f6f8f" stroke-opacity="0.75" stroke-width="0.5"/>
<line x1="415.34" x2="426.50" y1="526.30" y2="526.30" stroke="#4f6f8f" stroke-opacity="0.75" stroke-width="0.5"/>
<line x1="415.34" x2="426.50" y1="602.40" y2="602.40" stroke="#4f6f8f" stroke-opacity="0.75" stroke-width="0.5"/>
<line x1="415.34" x2="426.50" y1="607.80" y2="607.80" stroke="#4f6f8f" stroke-opacity="0.75" stroke-width="0.5"/>
<rect x="426.50" y="587.20" width="11.16" height="4.90" fill="#60A9CF"/>
<rect x="426.50" y="592.10" width="11.16" height="3.60" fill="#B2E769"/>
<rect x="426.50" y="595.70" width="11.16" height="7.80" fill="#E8C472"/>
<rect x="426.50" y="603.50" width="11.16" height="23.70" fill="#EEA93B"/>
<rect x="426.50" y="627.20" width="11.16" height="3.80" fill="#F5260B"/>
<rect x="426.50" y="587.20" width="11.16" height="43.80" fill="none" stroke="#6a6480" stroke-opacity="0.5" stroke-width="0.5"/>
<line x1="426.50" x2="437.66" y1="592.10" y2="592.10" stroke="#4f6f8f" stroke-opacity="0.75" stroke-width="0.5"/>
<line x1="426.50" x2="437.66" y1="595.70" y2="595.70" stroke="#4f6f8f" stroke-opacity="0.75" stroke-width="0.5"/>
<line x1="426.50" x2="437.66" y1="603.50" y2="603.50" stroke="#4f6f8f" stroke-opacity="0.75" stroke-width="0.5"/>
<line x1="426.50" x2="437.66" y1="627.20" y2="627.20" stroke="#4f6f8f" stroke-opacity="0.75" stroke-width="0.5"/>
<rect x="437.66" y="605.60" width="11.16" height="2.20" fill="#60A9CF"/>
<rect x="437.66" y="607.80" width="11.16" height="3.80" fill="#B2E769"/>
<rect x="437.66" y="611.60" width="11.16" height="2.60" fill="#E8C472"/>
<rect x="437.66" y="614.20" width="11.16" height="9.60" fill="#EEA93B"/>
<rect x="437.66" y="623.80" width="11.16" height="7.20" fill="#F5260B"/>
<rect x="437.66" y="605.60" width="11.16" height="25.40" fill="none" stroke="#6a6480" stroke-opacity="0.5" stroke-width="0.5"/>
<line x1="437.66" x2="448.82" y1="607.80" y2="607.80" stroke="#4f6f8f" stroke-opacity="0.75" stroke-width="0.5"/>
<line x1="437.66" x2="448.82" y1="611.60" y2="611.60" stroke="#4f6f8f" stroke-opacity="0.75" stroke-width="0.5"/>
<line x1="437.66" x2="448.82" y1="614.20" y2="614.20" stroke="#4f6f8f" stroke-opacity="0.75" stroke-width="0.5"/>
<line x1="437.66" x2="448.82" y1="623.80" y2="623.80" stroke="#4f6f8f" stroke-opacity="0.75" stroke-width="0.5"/>
<rect x="448.82" y="611.30" width="11.16" height="2.10" fill="#60A9CF"/>
<rect x="448.82" y="613.40" width="11.16" height="5.40" fill="#B2E769"/>
<rect x="448.82" y="618.80" width="11.16" height="4.60" fill="#E8C472"/>
<rect x="448.82" y="623.40" width="11.16" height="6.40" fill="#EEA93B"/>
<rect x="448.82" y="629.80" width="11.16" height="1.20" fill="#EE8358"/>
<rect x="448.82" y="611.30" width="11.16" height="19.70" fill="none" stroke="#6a6480" stroke-opacity="0.5" stroke-width="0.5"/>
<line x1="448.82" x2="459.98" y1="613.40" y2="613.40" stroke="#4f6f8f" stroke-opacity="0.75" stroke-width="0.5"/>
<line x1="448.82" x2="459.98" y1="618.80" y2="618.80" stroke="#4f6f8f" stroke-opacity="0.75" stroke-width="0.5"/>
<line x1="448.82" x2="459.98" y1="623.40" y2="623.40" stroke="#4f6f8f" stroke-opacity="0.75" stroke-width="0.5"/>
<line x1="448.82" x2="459.98" y1="629.80" y2="629.80" stroke="#4f6f8f" stroke-opacity="0.75" stroke-width="0.5"/>
<rect x="459.98" y="621.50" width="11.16" height="1.20" fill="#60A9CF"/>
<rect x="459.98" y="622.70" width="11.16" height="3.50" fill="#B2E769"/>
<rect x="459.98" y="626.20" width="11.16" height="2.90" fill="#EEA93B"/>
<rect x="459.98" y="629.10" width="11.16" height="1.90" fill="#F5260B"/>
<rect x="459.98" y="621.50" width="11.16" height="9.50" fill="none" stroke="#6a6480" stroke-opacity="0.5" stroke-width="0.5"/>
<line x1="459.98" x2="471.14" y1="622.70" y2="622.70" stroke="#4f6f8f" stroke-opacity="0.75" stroke-width="0.5"/>
<line x1="459.98" x2="471.14" y1="626.20" y2="626.20" stroke="#4f6f8f" stroke-opacity="0.75" stroke-width="0.5"/>
<line x1="459.98" x2="471.14" y1="629.10" y2="629.10" stroke="#4f6f8f" stroke-opacity="0.75" stroke-width="0.5"/>
<rect x="471.14" y="629.80" width="11.16" height="1.20" fill="#EEA93B"/>
<rect x="471.14" y="629.80" width="11.16" height="1.20" fill="none" stroke="#6a6480" stroke-opacity="0.5" stroke-width="0.5"/>
<line x1="370.70" y1="458.60" x2="370.70" y2="631.00" stroke="#333" stroke-width="1.0" stroke-linecap="square"/>
<line x1="370.70" y1="631.00" x2="482.30" y2="631.00" stroke="#3c3c3c" stroke-width="0.9" stroke-linecap="square"/>
<line x1="370.70" y1="458.60" x2="482.30" y2="458.60" stroke="#3c3c3c" stroke-width="0.9" stroke-linecap="square"/>
<line x1="482.30" y1="458.60" x2="482.30" y2="631.00" stroke="#3c3c3c" stroke-width="0.9" stroke-linecap="square"/>
<line x1="367.0" x2="370.7" y1="458.6" y2="458.6" stroke="#222" stroke-width="1"/>
<text x="365.3" y="463.9" text-anchor="end" font-size="16" font-family="'Liberation Sans', Arial, sans-serif" fill="#000">600</text>
<line x1="367.0" x2="370.7" y1="501.5" y2="501.5" stroke="#222" stroke-width="1"/>
<text x="365.3" y="506.8" text-anchor="end" font-size="16" font-family="'Liberation Sans', Arial, sans-serif" fill="#000">450</text>
<line x1="367.0" x2="370.7" y1="544.7" y2="544.7" stroke="#222" stroke-width="1"/>
<text x="365.3" y="550.0" text-anchor="end" font-size="16" font-family="'Liberation Sans', Arial, sans-serif" fill="#000">300</text>
<line x1="367.0" x2="370.7" y1="587.9" y2="587.9" stroke="#222" stroke-width="1"/>
<text x="365.3" y="593.2" text-anchor="end" font-size="16" font-family="'Liberation Sans', Arial, sans-serif" fill="#000">150</text>
<line x1="367.0" x2="370.7" y1="631.0" y2="631.0" stroke="#222" stroke-width="1"/>
<text x="365.3" y="636.3" text-anchor="end" font-size="16" font-family="'Liberation Sans', Arial, sans-serif" fill="#000">0</text>
<line x1="368.4" x2="370.7" y1="480.1" y2="480.1" stroke="#222" stroke-width="0.8"/>
<line x1="368.4" x2="370.7" y1="523.0" y2="523.0" stroke="#222" stroke-width="0.8"/>
<line x1="368.4" x2="370.7" y1="566.3" y2="566.3" stroke="#222" stroke-width="0.8"/>
<line x1="368.4" x2="370.7" y1="609.5" y2="609.5" stroke="#222" stroke-width="0.8"/>
<rect x="532.50" y="622.20" width="11.16" height="0.80" fill="#60A9CF"/>
<rect x="532.50" y="623.00" width="11.16" height="2.90" fill="#EBE25A"/>
<rect x="532.50" y="625.90" width="11.16" height="3.90" fill="#EEA93B"/>
<rect x="532.50" y="629.80" width="11.16" height="1.20" fill="#EE8358"/>
<rect x="532.50" y="622.20" width="11.16" height="8.80" fill="none" stroke="#6a6480" stroke-opacity="0.5" stroke-width="0.5"/>
<line x1="532.50" x2="543.66" y1="623.00" y2="623.00" stroke="#4f6f8f" stroke-opacity="0.75" stroke-width="0.5"/>
<line x1="532.50" x2="543.66" y1="625.90" y2="625.90" stroke="#4f6f8f" stroke-opacity="0.75" stroke-width="0.5"/>
<line x1="532.50" x2="543.66" y1="629.80" y2="629.80" stroke="#4f6f8f" stroke-opacity="0.75" stroke-width="0.5"/>
<rect x="543.66" y="604.90" width="11.16" height="12.50" fill="#E8C472"/>
<rect x="543.66" y="617.40" width="11.16" height="8.10" fill="#EEA93B"/>
<rect x="543.66" y="625.50" width="11.16" height="5.50" fill="#EE8358"/>
<rect x="543.66" y="604.90" width="11.16" height="26.10" fill="none" stroke="#6a6480" stroke-opacity="0.5" stroke-width="0.5"/>
<line x1="543.66" x2="554.82" y1="617.40" y2="617.40" stroke="#4f6f8f" stroke-opacity="0.75" stroke-width="0.5"/>
<line x1="543.66" x2="554.82" y1="625.50" y2="625.50" stroke="#4f6f8f" stroke-opacity="0.75" stroke-width="0.5"/>
<rect x="554.82" y="543.10" width="11.16" height="3.30" fill="#EBE25A"/>
<rect x="554.82" y="546.40" width="11.16" height="29.80" fill="#E8C472"/>
<rect x="554.82" y="576.20" width="11.16" height="46.20" fill="#EEA93B"/>
<rect x="554.82" y="622.40" width="11.16" height="8.60" fill="#F5260B"/>
<rect x="554.82" y="543.10" width="11.16" height="87.90" fill="none" stroke="#6a6480" stroke-opacity="0.5" stroke-width="0.5"/>
<line x1="554.82" x2="565.98" y1="546.40" y2="546.40" stroke="#4f6f8f" stroke-opacity="0.75" stroke-width="0.5"/>
<line x1="554.82" x2="565.98" y1="576.20" y2="576.20" stroke="#4f6f8f" stroke-opacity="0.75" stroke-width="0.5"/>
<line x1="554.82" x2="565.98" y1="622.40" y2="622.40" stroke="#4f6f8f" stroke-opacity="0.75" stroke-width="0.5"/>
<rect x="565.98" y="483.00" width="11.16" height="3.10" fill="#EBE25A"/>
<rect x="565.98" y="486.10" width="11.16" height="16.50" fill="#E8C472"/>
<rect x="565.98" y="502.60" width="11.16" height="117.00" fill="#EEA93B"/>
<rect x="565.98" y="619.60" width="11.16" height="11.40" fill="#F5260B"/>
<rect x="565.98" y="483.00" width="11.16" height="148.00" fill="none" stroke="#6a6480" stroke-opacity="0.5" stroke-width="0.5"/>
<line x1="565.98" x2="577.14" y1="486.10" y2="486.10" stroke="#4f6f8f" stroke-opacity="0.75" stroke-width="0.5"/>
<line x1="565.98" x2="577.14" y1="502.60" y2="502.60" stroke="#4f6f8f" stroke-opacity="0.75" stroke-width="0.5"/>
<line x1="565.98" x2="577.14" y1="619.60" y2="619.60" stroke="#4f6f8f" stroke-opacity="0.75" stroke-width="0.5"/>
<rect x="577.14" y="599.70" width="11.16" height="3.80" fill="#E8C472"/>
<rect x="577.14" y="603.50" width="11.16" height="16.30" fill="#EEA93B"/>
<rect x="577.14" y="619.80" width="11.16" height="11.20" fill="#F5260B"/>
<rect x="577.14" y="599.70" width="11.16" height="31.30" fill="none" stroke="#6a6480" stroke-opacity="0.5" stroke-width="0.5"/>
<line x1="577.14" x2="588.30" y1="603.50" y2="603.50" stroke="#4f6f8f" stroke-opacity="0.75" stroke-width="0.5"/>
<line x1="577.14" x2="588.30" y1="619.80" y2="619.80" stroke="#4f6f8f" stroke-opacity="0.75" stroke-width="0.5"/>
<rect x="588.30" y="590.00" width="11.16" height="3.10" fill="#60A9CF"/>
<rect x="588.30" y="593.10" width="11.16" height="16.50" fill="#B2E769"/>
<rect x="588.30" y="609.60" width="11.16" height="7.00" fill="#E8C472"/>
<rect x="588.30" y="616.60" width="11.16" height="11.50" fill="#EEA93B"/>
<rect x="588.30" y="628.10" width="11.16" height="2.90" fill="#F5260B"/>
<rect x="588.30" y="590.00" width="11.16" height="41.00" fill="none" stroke="#6a6480" stroke-opacity="0.5" stroke-width="0.5"/>
<line x1="588.30" x2="599.46" y1="593.10" y2="593.10" stroke="#4f6f8f" stroke-opacity="0.75" stroke-width="0.5"/>
<line x1="588.30" x2="599.46" y1="609.60" y2="609.60" stroke="#4f6f8f" stroke-opacity="0.75" stroke-width="0.5"/>
<line x1="588.30" x2="599.46" y1="616.60" y2="616.60" stroke="#4f6f8f" stroke-opacity="0.75" stroke-width="0.5"/>
<line x1="588.30" x2="599.46" y1="628.10" y2="628.10" stroke="#4f6f8f" stroke-opacity="0.75" stroke-width="0.5"/>
<rect x="599.46" y="574.70" width="11.16" height="5.80" fill="#60A9CF"/>
<rect x="599.46" y="580.50" width="11.16" height="21.20" fill="#B2E769"/>
<rect x="599.46" y="601.70" width="11.16" height="12.90" fill="#E8C472"/>
<rect x="599.46" y="614.60" width="11.16" height="12.80" fill="#EEA93B"/>
<rect x="599.46" y="627.40" width="11.16" height="3.60" fill="#F5260B"/>
<rect x="599.46" y="574.70" width="11.16" height="56.30" fill="none" stroke="#6a6480" stroke-opacity="0.5" stroke-width="0.5"/>
<line x1="599.46" x2="610.62" y1="580.50" y2="580.50" stroke="#4f6f8f" stroke-opacity="0.75" stroke-width="0.5"/>
<line x1="599.46" x2="610.62" y1="601.70" y2="601.70" stroke="#4f6f8f" stroke-opacity="0.75" stroke-width="0.5"/>
<line x1="599.46" x2="610.62" y1="614.60" y2="614.60" stroke="#4f6f8f" stroke-opacity="0.75" stroke-width="0.5"/>
<line x1="599.46" x2="610.62" y1="627.40" y2="627.40" stroke="#4f6f8f" stroke-opacity="0.75" stroke-width="0.5"/>
<rect x="610.62" y="598.50" width="11.16" height="2.60" fill="#60A9CF"/>
<rect x="610.62" y="601.10" width="11.16" height="13.50" fill="#B2E769"/>
<rect x="610.62" y="614.60" width="11.16" height="11.20" fill="#E8C472"/>
<rect x="610.62" y="625.80" width="11.16" height="1.50" fill="#EEA93B"/>
<rect x="610.62" y="627.30" width="11.16" height="3.70" fill="#F5260B"/>
<rect x="610.62" y="598.50" width="11.16" height="32.50" fill="none" stroke="#6a6480" stroke-opacity="0.5" stroke-width="0.5"/>
<line x1="610.62" x2="621.78" y1="601.10" y2="601.10" stroke="#4f6f8f" stroke-opacity="0.75" stroke-width="0.5"/>
<line x1="610.62" x2="621.78" y1="614.60" y2="614.60" stroke="#4f6f8f" stroke-opacity="0.75" stroke-width="0.5"/>
<line x1="610.62" x2="621.78" y1="625.80" y2="625.80" stroke="#4f6f8f" stroke-opacity="0.75" stroke-width="0.5"/>
<line x1="610.62" x2="621.78" y1="627.30" y2="627.30" stroke="#4f6f8f" stroke-opacity="0.75" stroke-width="0.5"/>
<rect x="621.78" y="600.40" width="11.16" height="12.80" fill="#60A9CF"/>
<rect x="621.78" y="613.20" width="11.16" height="10.20" fill="#B2E769"/>
<rect x="621.78" y="623.40" width="11.16" height="6.40" fill="#E8C472"/>
<rect x="621.78" y="629.80" width="11.16" height="1.20" fill="#F5260B"/>
<rect x="621.78" y="600.40" width="11.16" height="30.60" fill="none" stroke="#6a6480" stroke-opacity="0.5" stroke-width="0.5"/>
<line x1="621.78" x2="632.94" y1="613.20" y2="613.20" stroke="#4f6f8f" stroke-opacity="0.75" stroke-width="0.5"/>
<line x1="621.78" x2="632.94" y1="623.40" y2="623.40" stroke="#4f6f8f" stroke-opacity="0.75" stroke-width="0.5"/>
<line x1="621.78" x2="632.94" y1="629.80" y2="629.80" stroke="#4f6f8f" stroke-opacity="0.75" stroke-width="0.5"/>
<rect x="632.94" y="601.40" width="11.16" height="9.60" fill="#60A9CF"/>
<rect x="632.94" y="611.00" width="11.16" height="15.20" fill="#B2E769"/>
<rect x="632.94" y="626.20" width="11.16" height="4.80" fill="#E8C472"/>
<rect x="632.94" y="601.40" width="11.16" height="29.60" fill="none" stroke="#6a6480" stroke-opacity="0.5" stroke-width="0.5"/>
<line x1="632.94" x2="644.10" y1="611.00" y2="611.00" stroke="#4f6f8f" stroke-opacity="0.75" stroke-width="0.5"/>
<line x1="632.94" x2="644.10" y1="626.20" y2="626.20" stroke="#4f6f8f" stroke-opacity="0.75" stroke-width="0.5"/>
<line x1="532.50" y1="458.60" x2="532.50" y2="631.00" stroke="#333" stroke-width="1.0" stroke-linecap="square"/>
<line x1="532.50" y1="631.00" x2="644.10" y2="631.00" stroke="#3c3c3c" stroke-width="0.9" stroke-linecap="square"/>
<line x1="532.50" y1="458.60" x2="644.10" y2="458.60" stroke="#3c3c3c" stroke-width="0.9" stroke-linecap="square"/>
<line x1="644.10" y1="458.60" x2="644.10" y2="631.00" stroke="#3c3c3c" stroke-width="0.9" stroke-linecap="square"/>
<line x1="528.8" x2="532.5" y1="458.6" y2="458.6" stroke="#222" stroke-width="1"/>
<text x="527.1" y="463.9" text-anchor="end" font-size="16" font-family="'Liberation Sans', Arial, sans-serif" fill="#000">360</text>
<line x1="528.8" x2="532.5" y1="501.8" y2="501.8" stroke="#222" stroke-width="1"/>
<text x="527.1" y="507.1" text-anchor="end" font-size="16" font-family="'Liberation Sans', Arial, sans-serif" fill="#000">270</text>
<line x1="528.8" x2="532.5" y1="545.0" y2="545.0" stroke="#222" stroke-width="1"/>
<text x="527.1" y="550.3" text-anchor="end" font-size="16" font-family="'Liberation Sans', Arial, sans-serif" fill="#000">180</text>
<line x1="528.8" x2="532.5" y1="588.2" y2="588.2" stroke="#222" stroke-width="1"/>
<text x="527.1" y="593.5" text-anchor="end" font-size="16" font-family="'Liberation Sans', Arial, sans-serif" fill="#000">90</text>
<line x1="528.8" x2="532.5" y1="631.0" y2="631.0" stroke="#222" stroke-width="1"/>
<text x="527.1" y="636.3" text-anchor="end" font-size="16" font-family="'Liberation Sans', Arial, sans-serif" fill="#000">0</text>
<line x1="530.2" x2="532.5" y1="480.4" y2="480.4" stroke="#222" stroke-width="0.8"/>
<line x1="530.2" x2="532.5" y1="523.4" y2="523.4" stroke="#222" stroke-width="0.8"/>
<line x1="530.2" x2="532.5" y1="566.6" y2="566.6" stroke="#222" stroke-width="0.8"/>
<line x1="530.2" x2="532.5" y1="609.8" y2="609.8" stroke="#222" stroke-width="0.8"/>
<rect x="694.10" y="620.10" width="11.16" height="3.30" fill="#60A9CF"/>
<rect x="694.10" y="623.40" width="11.16" height="5.70" fill="#EEA93B"/>
<rect x="694.10" y="629.10" width="11.16" height="1.90" fill="#EE8358"/>
<rect x="694.10" y="620.10" width="11.16" height="10.90" fill="none" stroke="#6a6480" stroke-opacity="0.5" stroke-width="0.5"/>
<line x1="694.10" x2="705.26" y1="623.40" y2="623.40" stroke="#4f6f8f" stroke-opacity="0.75" stroke-width="0.5"/>
<line x1="694.10" x2="705.26" y1="629.10" y2="629.10" stroke="#4f6f8f" stroke-opacity="0.75" stroke-width="0.5"/>
<rect x="705.26" y="600.40" width="11.16" height="1.00" fill="#60A9CF"/>
<rect x="705.26" y="601.40" width="11.16" height="1.00" fill="#8DDB85"/>
<rect x="705.26" y="602.40" width="11.16" height="9.20" fill="#E8C472"/>
<rect x="705.26" y="611.60" width="11.16" height="11.80" fill="#EEA93B"/>
<rect x="705.26" y="623.40" width="11.16" height="7.60" fill="#EE8358"/>
<rect x="705.26" y="600.40" width="11.16" height="30.60" fill="none" stroke="#6a6480" stroke-opacity="0.5" stroke-width="0.5"/>
<line x1="705.26" x2="716.42" y1="601.40" y2="601.40" stroke="#4f6f8f" stroke-opacity="0.75" stroke-width="0.5"/>
<line x1="705.26" x2="716.42" y1="602.40" y2="602.40" stroke="#4f6f8f" stroke-opacity="0.75" stroke-width="0.5"/>
<line x1="705.26" x2="716.42" y1="611.60" y2="611.60" stroke="#4f6f8f" stroke-opacity="0.75" stroke-width="0.5"/>
<line x1="705.26" x2="716.42" y1="623.40" y2="623.40" stroke="#4f6f8f" stroke-opacity="0.75" stroke-width="0.5"/>
<rect x="716.42" y="582.20" width="11.16" height="1.00" fill="#60A9CF"/>
<rect x="716.42" y="583.20" width="11.16" height="1.10" fill="#8DDB85"/>
<rect x="716.42" y="584.30" width="11.16" height="7.10" fill="#E8C472"/>
<rect x="716.42" y="591.40" width="11.16" height="34.80" fill="#EEA93B"/>
<rect x="716.42" y="626.20" width="11.16" height="4.80" fill="#F5260B"/>
<rect x="716.42" y="582.20" width="11.16" height="48.80" fill="none" stroke="#6a6480" stroke-opacity="0.5" stroke-width="0.5"/>
<line x1="716.42" x2="727.58" y1="583.20" y2="583.20" stroke="#4f6f8f" stroke-opacity="0.75" stroke-width="0.5"/>
<line x1="716.42" x2="727.58" y1="584.30" y2="584.30" stroke="#4f6f8f" stroke-opacity="0.75" stroke-width="0.5"/>
<line x1="716.42" x2="727.58" y1="591.40" y2="591.40" stroke="#4f6f8f" stroke-opacity="0.75" stroke-width="0.5"/>
<line x1="716.42" x2="727.58" y1="626.20" y2="626.20" stroke="#4f6f8f" stroke-opacity="0.75" stroke-width="0.5"/>
<rect x="727.58" y="470.90" width="11.16" height="1.90" fill="#60A9CF"/>
<rect x="727.58" y="472.80" width="11.16" height="5.50" fill="#EBE25A"/>
<rect x="727.58" y="478.30" width="11.16" height="11.40" fill="#E8C472"/>
<rect x="727.58" y="489.70" width="11.16" height="134.10" fill="#EEA93B"/>
<rect x="727.58" y="623.80" width="11.16" height="7.20" fill="#F5260B"/>
<rect x="727.58" y="470.90" width="11.16" height="160.10" fill="none" stroke="#6a6480" stroke-opacity="0.5" stroke-width="0.5"/>
<line x1="727.58" x2="738.74" y1="472.80" y2="472.80" stroke="#4f6f8f" stroke-opacity="0.75" stroke-width="0.5"/>
<line x1="727.58" x2="738.74" y1="478.30" y2="478.30" stroke="#4f6f8f" stroke-opacity="0.75" stroke-width="0.5"/>
<line x1="727.58" x2="738.74" y1="489.70" y2="489.70" stroke="#4f6f8f" stroke-opacity="0.75" stroke-width="0.5"/>
<line x1="727.58" x2="738.74" y1="623.80" y2="623.80" stroke="#4f6f8f" stroke-opacity="0.75" stroke-width="0.5"/>
<rect x="738.74" y="585.70" width="11.16" height="1.00" fill="#60A9CF"/>
<rect x="738.74" y="586.70" width="11.16" height="1.50" fill="#B2E769"/>
<rect x="738.74" y="588.20" width="11.16" height="9.30" fill="#E8C472"/>
<rect x="738.74" y="597.50" width="11.16" height="20.90" fill="#EEA93B"/>
<rect x="738.74" y="618.40" width="11.16" height="12.60" fill="#F5260B"/>
<rect x="738.74" y="585.70" width="11.16" height="45.30" fill="none" stroke="#6a6480" stroke-opacity="0.5" stroke-width="0.5"/>
<line x1="738.74" x2="749.90" y1="586.70" y2="586.70" stroke="#4f6f8f" stroke-opacity="0.75" stroke-width="0.5"/>
<line x1="738.74" x2="749.90" y1="588.20" y2="588.20" stroke="#4f6f8f" stroke-opacity="0.75" stroke-width="0.5"/>
<line x1="738.74" x2="749.90" y1="597.50" y2="597.50" stroke="#4f6f8f" stroke-opacity="0.75" stroke-width="0.5"/>
<line x1="738.74" x2="749.90" y1="618.40" y2="618.40" stroke="#4f6f8f" stroke-opacity="0.75" stroke-width="0.5"/>
<rect x="749.90" y="583.30" width="11.16" height="2.40" fill="#60A9CF"/>
<rect x="749.90" y="585.70" width="11.16" height="3.60" fill="#8DDB85"/>
<rect x="749.90" y="589.30" width="11.16" height="3.10" fill="#B2E769"/>
<rect x="749.90" y="592.40" width="11.16" height="14.90" fill="#E8C472"/>
<rect x="749.90" y="607.30" width="11.16" height="18.90" fill="#EEA93B"/>
<rect x="749.90" y="626.20" width="11.16" height="4.80" fill="#F5260B"/>
<rect x="749.90" y="583.30" width="11.16" height="47.70" fill="none" stroke="#6a6480" stroke-opacity="0.5" stroke-width="0.5"/>
<line x1="749.90" x2="761.06" y1="585.70" y2="585.70" stroke="#4f6f8f" stroke-opacity="0.75" stroke-width="0.5"/>
<line x1="749.90" x2="761.06" y1="589.30" y2="589.30" stroke="#4f6f8f" stroke-opacity="0.75" stroke-width="0.5"/>
<line x1="749.90" x2="761.06" y1="592.40" y2="592.40" stroke="#4f6f8f" stroke-opacity="0.75" stroke-width="0.5"/>
<line x1="749.90" x2="761.06" y1="607.30" y2="607.30" stroke="#4f6f8f" stroke-opacity="0.75" stroke-width="0.5"/>
<line x1="749.90" x2="761.06" y1="626.20" y2="626.20" stroke="#4f6f8f" stroke-opacity="0.75" stroke-width="0.5"/>
<rect x="761.06" y="596.40" width="11.16" height="5.00" fill="#60A9CF"/>
<rect x="761.06" y="601.40" width="11.16" height="2.10" fill="#8DDB85"/>
<rect x="761.06" y="603.50" width="11.16" height="1.80" fill="#B2E769"/>
<rect x="761.06" y="605.30" width="11.16" height="4.60" fill="#E8C472"/>
<rect x="761.06" y="609.90" width="11.16" height="14.50" fill="#EEA93B"/>
<rect x="761.06" y="624.40" width="11.16" height="6.60" fill="#F5260B"/>
<rect x="761.06" y="596.40" width="11.16" height="34.60" fill="none" stroke="#6a6480" stroke-opacity="0.5" stroke-width="0.5"/>
<line x1="761.06" x2="772.22" y1="601.40" y2="601.40" stroke="#4f6f8f" stroke-opacity="0.75" stroke-width="0.5"/>
<line x1="761.06" x2="772.22" y1="603.50" y2="603.50" stroke="#4f6f8f" stroke-opacity="0.75" stroke-width="0.5"/>
<line x1="761.06" x2="772.22" y1="605.30" y2="605.30" stroke="#4f6f8f" stroke-opacity="0.75" stroke-width="0.5"/>
<line x1="761.06" x2="772.22" y1="609.90" y2="609.90" stroke="#4f6f8f" stroke-opacity="0.75" stroke-width="0.5"/>
<line x1="761.06" x2="772.22" y1="624.40" y2="624.40" stroke="#4f6f8f" stroke-opacity="0.75" stroke-width="0.5"/>
<rect x="772.22" y="603.50" width="11.16" height="3.10" fill="#60A9CF"/>
<rect x="772.22" y="606.60" width="11.16" height="2.20" fill="#8DDB85"/>
<rect x="772.22" y="608.80" width="11.16" height="4.60" fill="#B2E769"/>
<rect x="772.22" y="613.40" width="11.16" height="5.70" fill="#E8C472"/>
<rect x="772.22" y="619.10" width="11.16" height="6.40" fill="#EEA93B"/>
<rect x="772.22" y="625.50" width="11.16" height="3.30" fill="#EE8358"/>
<rect x="772.22" y="628.80" width="11.16" height="2.20" fill="#F5260B"/>
<rect x="772.22" y="603.50" width="11.16" height="27.50" fill="none" stroke="#6a6480" stroke-opacity="0.5" stroke-width="0.5"/>
<line x1="772.22" x2="783.38" y1="606.60" y2="606.60" stroke="#4f6f8f" stroke-opacity="0.75" stroke-width="0.5"/>
<line x1="772.22" x2="783.38" y1="608.80" y2="608.80" stroke="#4f6f8f" stroke-opacity="0.75" stroke-width="0.5"/>
<line x1="772.22" x2="783.38" y1="613.40" y2="613.40" stroke="#4f6f8f" stroke-opacity="0.75" stroke-width="0.5"/>
<line x1="772.22" x2="783.38" y1="619.10" y2="619.10" stroke="#4f6f8f" stroke-opacity="0.75" stroke-width="0.5"/>
<line x1="772.22" x2="783.38" y1="625.50" y2="625.50" stroke="#4f6f8f" stroke-opacity="0.75" stroke-width="0.5"/>
<line x1="772.22" x2="783.38" y1="628.80" y2="628.80" stroke="#4f6f8f" stroke-opacity="0.75" stroke-width="0.5"/>
<rect x="783.38" y="596.40" width="11.16" height="2.60" fill="#60A9CF"/>
<rect x="783.38" y="599.00" width="11.16" height="1.70" fill="#8DDB85"/>
<rect x="783.38" y="600.70" width="11.16" height="3.10" fill="#B2E769"/>
<rect x="783.38" y="603.80" width="11.16" height="13.90" fill="#E8C472"/>
<rect x="783.38" y="617.70" width="11.16" height="2.10" fill="#EEA93B"/>
<rect x="783.38" y="619.80" width="11.16" height="3.60" fill="#EE8358"/>
<rect x="783.38" y="623.40" width="11.16" height="7.60" fill="#F5260B"/>
<rect x="783.38" y="596.40" width="11.16" height="34.60" fill="none" stroke="#6a6480" stroke-opacity="0.5" stroke-width="0.5"/>
<line x1="783.38" x2="794.54" y1="599.00" y2="599.00" stroke="#4f6f8f" stroke-opacity="0.75" stroke-width="0.5"/>
<line x1="783.38" x2="794.54" y1="600.70" y2="600.70" stroke="#4f6f8f" stroke-opacity="0.75" stroke-width="0.5"/>
<line x1="783.38" x2="794.54" y1="603.80" y2="603.80" stroke="#4f6f8f" stroke-opacity="0.75" stroke-width="0.5"/>
<line x1="783.38" x2="794.54" y1="617.70" y2="617.70" stroke="#4f6f8f" stroke-opacity="0.75" stroke-width="0.5"/>
<line x1="783.38" x2="794.54" y1="619.80" y2="619.80" stroke="#4f6f8f" stroke-opacity="0.75" stroke-width="0.5"/>
<line x1="783.38" x2="794.54" y1="623.40" y2="623.40" stroke="#4f6f8f" stroke-opacity="0.75" stroke-width="0.5"/>
<rect x="794.54" y="610.60" width="11.16" height="1.80" fill="#60A9CF"/>
<rect x="794.54" y="612.40" width="11.16" height="5.30" fill="#E8C472"/>
<rect x="794.54" y="617.70" width="11.16" height="5.00" fill="#EEA93B"/>
<rect x="794.54" y="622.70" width="11.16" height="8.30" fill="#F5260B"/>
<rect x="794.54" y="610.60" width="11.16" height="20.40" fill="none" stroke="#6a6480" stroke-opacity="0.5" stroke-width="0.5"/>
<line x1="794.54" x2="805.70" y1="612.40" y2="612.40" stroke="#4f6f8f" stroke-opacity="0.75" stroke-width="0.5"/>
<line x1="794.54" x2="805.70" y1="617.70" y2="617.70" stroke="#4f6f8f" stroke-opacity="0.75" stroke-width="0.5"/>
<line x1="794.54" x2="805.70" y1="622.70" y2="622.70" stroke="#4f6f8f" stroke-opacity="0.75" stroke-width="0.5"/>
<line x1="694.10" y1="458.60" x2="694.10" y2="631.00" stroke="#333" stroke-width="1.0" stroke-linecap="square"/>
<line x1="694.10" y1="631.00" x2="805.70" y2="631.00" stroke="#3c3c3c" stroke-width="0.9" stroke-linecap="square"/>
<line x1="694.10" y1="458.60" x2="805.70" y2="458.60" stroke="#3c3c3c" stroke-width="0.9" stroke-linecap="square"/>
<line x1="805.70" y1="458.60" x2="805.70" y2="631.00" stroke="#3c3c3c" stroke-width="0.9" stroke-linecap="square"/>
<line x1="690.4" x2="694.1" y1="458.6" y2="458.6" stroke="#222" stroke-width="1"/>
<text x="688.7" y="463.9" text-anchor="end" font-size="16" font-family="'Liberation Sans', Arial, sans-serif" fill="#000">360</text>
<line x1="690.4" x2="694.1" y1="506.3" y2="506.3" stroke="#222" stroke-width="1"/>
<text x="688.7" y="511.6" text-anchor="end" font-size="16" font-family="'Liberation Sans', Arial, sans-serif" fill="#000">260</text>
<line x1="690.4" x2="694.1" y1="554.4" y2="554.4" stroke="#222" stroke-width="1"/>
<text x="688.7" y="559.7" text-anchor="end" font-size="16" font-family="'Liberation Sans', Arial, sans-serif" fill="#000">160</text>
<line x1="690.4" x2="694.1" y1="602.3" y2="602.3" stroke="#222" stroke-width="1"/>
<text x="688.7" y="607.6" text-anchor="end" font-size="16" font-family="'Liberation Sans', Arial, sans-serif" fill="#000">60</text>
<line x1="691.8000000000001" x2="694.1" y1="482.5" y2="482.5" stroke="#222" stroke-width="0.8"/>
<line x1="691.8000000000001" x2="694.1" y1="530.3" y2="530.3" stroke="#222" stroke-width="0.8"/>
<line x1="691.8000000000001" x2="694.1" y1="578.4" y2="578.4" stroke="#222" stroke-width="0.8"/>
<line x1="691.8000000000001" x2="694.1" y1="626.2" y2="626.2" stroke="#222" stroke-width="0.8"/>

<text x="1.7" y="22.0" font-size="20.3" font-family="'Liberation Sans', Arial, sans-serif" fill="#111">(a)</text>
<text x="1.7" y="237.0" font-size="20.3" font-family="'Liberation Sans', Arial, sans-serif" fill="#111">(b)</text>
<text x="1.7" y="444.9" font-size="20.3" font-family="'Liberation Sans', Arial, sans-serif" fill="#111">(c)</text>
<text x="48.6" y="19.3" font-style="italic" font-size="15.8" textLength="134" lengthAdjust="spacingAndGlyphs" font-family="'Liberation Sans', Arial, sans-serif" fill="#111">M. galloprovincialis</text>
<text x="239" y="19.3" font-style="italic" font-size="15.8" textLength="60" lengthAdjust="spacingAndGlyphs" font-family="'Liberation Sans', Arial, sans-serif" fill="#111">M. gigas</text>
<text x="381" y="19.3" font-style="italic" font-size="15.8" textLength="97.5" lengthAdjust="spacingAndGlyphs" font-family="'Liberation Sans', Arial, sans-serif" fill="#111">P. yessoensis</text>
<text x="556.5" y="19.3" font-style="italic" font-size="15.8" textLength="61.5" lengthAdjust="spacingAndGlyphs" font-family="'Liberation Sans', Arial, sans-serif" fill="#111">A. farreri</text>
<text x="704" y="19.3" font-style="italic" font-size="15.8" textLength="79" lengthAdjust="spacingAndGlyphs" font-family="'Liberation Sans', Arial, sans-serif" fill="#111">A. irradians</text>
<text transform="translate(57.18,645.2) rotate(-90) scale(1,1.2)" font-size="11" stroke="#000" stroke-width="0.1" font-family="'Liberation Sans', Arial, sans-serif" fill="#000">02</text>
<text transform="translate(68.34,645.2) rotate(-90) scale(1,1.2)" font-size="11" stroke="#000" stroke-width="0.1" font-family="'Liberation Sans', Arial, sans-serif" fill="#000">08</text>
<text transform="translate(79.50,645.2) rotate(-90) scale(1,1.2)" font-size="11" stroke="#000" stroke-width="0.1" font-family="'Liberation Sans', Arial, sans-serif" fill="#000">11</text>
<text transform="translate(90.66,645.2) rotate(-90) scale(1,1.2)" font-size="11" stroke="#000" stroke-width="0.1" font-family="'Liberation Sans', Arial, sans-serif" fill="#000">16</text>
<text transform="translate(101.82,645.2) rotate(-90) scale(1,1.2)" font-size="11" stroke="#000" stroke-width="0.1" font-family="'Liberation Sans', Arial, sans-serif" fill="#000">19</text>
<text transform="translate(112.98,645.2) rotate(-90) scale(1,1.2)" font-size="11" stroke="#000" stroke-width="0.1" font-family="'Liberation Sans', Arial, sans-serif" fill="#000">23</text>
<text transform="translate(124.14,645.2) rotate(-90) scale(1,1.2)" font-size="11" stroke="#000" stroke-width="0.1" font-family="'Liberation Sans', Arial, sans-serif" fill="#000">27</text>
<text transform="translate(135.30,645.2) rotate(-90) scale(1,1.2)" font-size="11" stroke="#000" stroke-width="0.1" font-family="'Liberation Sans', Arial, sans-serif" fill="#000">02</text>
<text transform="translate(146.46,645.2) rotate(-90) scale(1,1.2)" font-size="11" stroke="#000" stroke-width="0.1" font-family="'Liberation Sans', Arial, sans-serif" fill="#000">07</text>
<text transform="translate(157.62,645.2) rotate(-90) scale(1,1.2)" font-size="11" stroke="#000" stroke-width="0.1" font-family="'Liberation Sans', Arial, sans-serif" fill="#000">13</text>
<line x1="47.2" x2="125.9" y1="647.7" y2="647.7" stroke="#555" stroke-width="1.1"/>
<line x1="131.5" x2="158.6" y1="647.7" y2="647.7" stroke="#555" stroke-width="1.1"/>
</svg></body></html>
